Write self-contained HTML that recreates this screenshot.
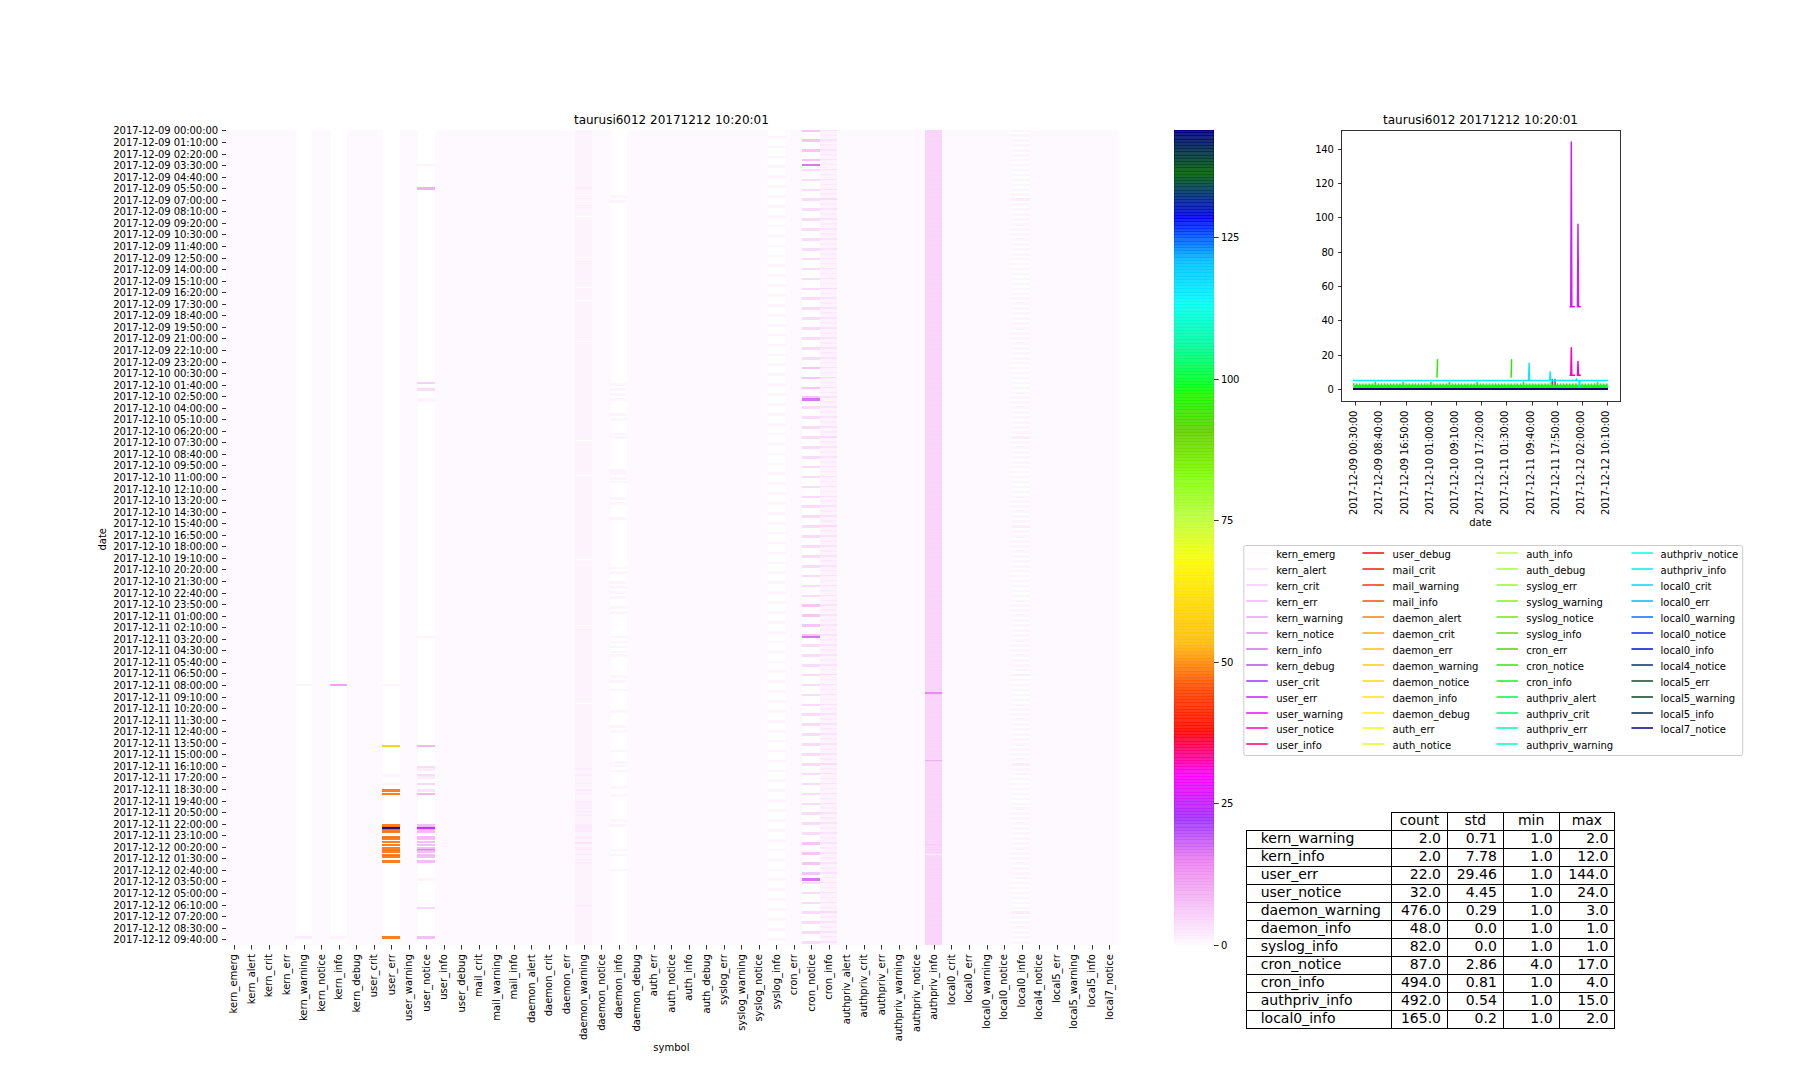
<!DOCTYPE html>
<html lang="en"><head><meta charset="utf-8"><title>taurusi6012 20171212 10:20:01</title>
<style>html,body{margin:0;padding:0;background:#fff}svg{display:block}</style></head>
<body>
<svg width="1800" height="1080" viewBox="0 0 1800 1080" font-family="DejaVu Sans, Liberation Sans, sans-serif" fill="#000">
<rect width="1800" height="1080" fill="#fff"/>
<g shape-rendering="crispEdges">
<rect x="225" y="130" width="71" height="815" fill="#fef9fe"/>
<rect x="312" y="130" width="19" height="815" fill="#fef9fe"/>
<rect x="347" y="130" width="36" height="815" fill="#fef9fe"/>
<rect x="400" y="130" width="18" height="815" fill="#fef9fe"/>
<rect x="435" y="130" width="141" height="815" fill="#fef9fe"/>
<rect x="592" y="130" width="19" height="815" fill="#fef9fe"/>
<rect x="627" y="130" width="141" height="815" fill="#fef9fe"/>
<rect x="785" y="130" width="18" height="815" fill="#fef9fe"/>
<rect x="837" y="130" width="89" height="815" fill="#fef9fe"/>
<rect x="942" y="130" width="71" height="815" fill="#fef9fe"/>
<rect x="1030" y="130" width="88" height="815" fill="#fef9fe"/>
<g fill-opacity="0.9">
<rect x="295" y="684" width="17" height="2" fill="#fdf3fd"/>
<rect x="295" y="936" width="17" height="3" fill="#fceafc"/>
</g>
<g fill-opacity="0.9">
<rect x="330" y="684" width="17" height="2" fill="#ef97f1"/>
<rect x="330" y="936" width="17" height="3" fill="#fdf3fd"/>
</g>
<g fill-opacity="0.9">
<rect x="382" y="684" width="18" height="2" fill="#fdf3fd"/>
<rect x="382" y="745" width="18" height="2" fill="#ffcb06"/>
<rect x="382" y="774" width="18" height="3" fill="#fdf3fd"/>
<rect x="382" y="783" width="18" height="2" fill="#fdf3fd"/>
<rect x="382" y="789" width="18" height="3" fill="#ff7006"/>
<rect x="382" y="793" width="18" height="2" fill="#ff7006"/>
<rect x="382" y="824" width="18" height="3" fill="#ff7006"/>
<rect x="382" y="826" width="18" height="2" fill="#ff7006"/>
<rect x="382" y="827" width="18" height="3" fill="#000080"/>
<rect x="382" y="829" width="18" height="3" fill="#ff7006"/>
<rect x="382" y="831" width="18" height="2" fill="#ff7006"/>
<rect x="382" y="836" width="18" height="2" fill="#ff7006"/>
<rect x="382" y="837" width="18" height="3" fill="#ff7006"/>
<rect x="382" y="841" width="18" height="2" fill="#ff7006"/>
<rect x="382" y="844" width="18" height="2" fill="#ff7006"/>
<rect x="382" y="847" width="18" height="3" fill="#ff7006"/>
<rect x="382" y="849" width="18" height="2" fill="#26f000"/>
<rect x="382" y="850" width="18" height="3" fill="#ff7006"/>
<rect x="382" y="854" width="18" height="2" fill="#ff7006"/>
<rect x="382" y="855" width="18" height="3" fill="#ff7006"/>
<rect x="382" y="860" width="18" height="3" fill="#ff7006"/>
<rect x="382" y="936" width="18" height="3" fill="#ff7006"/>
</g>
<g fill-opacity="0.9">
<rect x="417" y="164" width="18" height="2" fill="#fdf3fd"/>
<rect x="417" y="187" width="18" height="3" fill="#f2a9f4"/>
<rect x="417" y="382" width="18" height="2" fill="#f7caf8"/>
<rect x="417" y="388" width="18" height="3" fill="#f9d8fa"/>
<rect x="417" y="398" width="18" height="3" fill="#fdf3fd"/>
<rect x="417" y="400" width="18" height="2" fill="#fdf3fd"/>
<rect x="417" y="636" width="18" height="2" fill="#fdf3fd"/>
<rect x="417" y="745" width="18" height="2" fill="#f3aef4"/>
<rect x="417" y="766" width="18" height="3" fill="#f9d8fa"/>
<rect x="417" y="768" width="18" height="3" fill="#fceafc"/>
<rect x="417" y="774" width="18" height="3" fill="#f9d8fa"/>
<rect x="417" y="776" width="18" height="3" fill="#fceafc"/>
<rect x="417" y="783" width="18" height="2" fill="#f8d3f9"/>
<rect x="417" y="789" width="18" height="3" fill="#fae1fb"/>
<rect x="417" y="793" width="18" height="2" fill="#f3aef4"/>
<rect x="417" y="824" width="18" height="3" fill="#f4b7f5"/>
<rect x="417" y="826" width="18" height="2" fill="#f4b7f5"/>
<rect x="417" y="827" width="18" height="3" fill="#b326ff"/>
<rect x="417" y="829" width="18" height="3" fill="#f4b7f5"/>
<rect x="417" y="831" width="18" height="2" fill="#f4b7f5"/>
<rect x="417" y="836" width="18" height="2" fill="#f4b7f5"/>
<rect x="417" y="837" width="18" height="3" fill="#f4b7f5"/>
<rect x="417" y="841" width="18" height="2" fill="#f4b7f5"/>
<rect x="417" y="844" width="18" height="2" fill="#f4b7f5"/>
<rect x="417" y="847" width="18" height="3" fill="#f4b7f5"/>
<rect x="417" y="849" width="18" height="2" fill="#e074f1"/>
<rect x="417" y="850" width="18" height="3" fill="#f4b7f5"/>
<rect x="417" y="854" width="18" height="2" fill="#f4b7f5"/>
<rect x="417" y="855" width="18" height="3" fill="#f4b7f5"/>
<rect x="417" y="860" width="18" height="3" fill="#f4b7f5"/>
<rect x="417" y="878" width="18" height="3" fill="#fdf3fd"/>
<rect x="417" y="907" width="18" height="2" fill="#f8d3f9"/>
<rect x="417" y="936" width="18" height="3" fill="#f4b7f5"/>
</g>
<g fill-opacity="0.9">
<rect x="575" y="130" width="17" height="2" fill="#fdf3fd"/>
<rect x="575" y="131" width="17" height="2" fill="#fdf3fd"/>
<rect x="575" y="132" width="17" height="3" fill="#fdf3fd"/>
<rect x="575" y="134" width="17" height="3" fill="#fdf3fd"/>
<rect x="575" y="136" width="17" height="2" fill="#fdf3fd"/>
<rect x="575" y="137" width="17" height="3" fill="#fdf3fd"/>
<rect x="575" y="139" width="17" height="3" fill="#fdf3fd"/>
<rect x="575" y="141" width="17" height="2" fill="#fdf3fd"/>
<rect x="575" y="142" width="17" height="3" fill="#fdf3fd"/>
<rect x="575" y="144" width="17" height="3" fill="#fdf3fd"/>
<rect x="575" y="146" width="17" height="2" fill="#fdf3fd"/>
<rect x="575" y="147" width="17" height="3" fill="#fdf3fd"/>
<rect x="575" y="149" width="17" height="3" fill="#fdf3fd"/>
<rect x="575" y="151" width="17" height="2" fill="#fdf3fd"/>
<rect x="575" y="152" width="17" height="3" fill="#fdf3fd"/>
<rect x="575" y="154" width="17" height="3" fill="#fdf3fd"/>
<rect x="575" y="156" width="17" height="2" fill="#fdf3fd"/>
<rect x="575" y="157" width="17" height="3" fill="#fdf3fd"/>
<rect x="575" y="159" width="17" height="2" fill="#fdf3fd"/>
<rect x="575" y="160" width="17" height="3" fill="#fdf3fd"/>
<rect x="575" y="162" width="17" height="3" fill="#fdf3fd"/>
<rect x="575" y="164" width="17" height="2" fill="#fdf3fd"/>
<rect x="575" y="165" width="17" height="3" fill="#fdf3fd"/>
<rect x="575" y="167" width="17" height="3" fill="#fdf3fd"/>
<rect x="575" y="169" width="17" height="2" fill="#fdf3fd"/>
<rect x="575" y="170" width="17" height="3" fill="#fdf3fd"/>
<rect x="575" y="172" width="17" height="3" fill="#fdf3fd"/>
<rect x="575" y="174" width="17" height="2" fill="#fdf3fd"/>
<rect x="575" y="175" width="17" height="3" fill="#fdf3fd"/>
<rect x="575" y="177" width="17" height="3" fill="#fdf3fd"/>
<rect x="575" y="179" width="17" height="2" fill="#fdf3fd"/>
<rect x="575" y="180" width="17" height="3" fill="#fdf3fd"/>
<rect x="575" y="182" width="17" height="3" fill="#fdf3fd"/>
<rect x="575" y="184" width="17" height="2" fill="#fdf3fd"/>
<rect x="575" y="185" width="17" height="3" fill="#fdf3fd"/>
<rect x="575" y="187" width="17" height="3" fill="#fceafc"/>
<rect x="575" y="189" width="17" height="2" fill="#fdf3fd"/>
<rect x="575" y="190" width="17" height="3" fill="#fdf3fd"/>
<rect x="575" y="192" width="17" height="2" fill="#fdf3fd"/>
<rect x="575" y="195" width="17" height="3" fill="#fdf3fd"/>
<rect x="575" y="197" width="17" height="2" fill="#fdf3fd"/>
<rect x="575" y="198" width="17" height="3" fill="#fdf3fd"/>
<rect x="575" y="202" width="17" height="2" fill="#fdf3fd"/>
<rect x="575" y="203" width="17" height="3" fill="#fdf3fd"/>
<rect x="575" y="205" width="17" height="3" fill="#fdf3fd"/>
<rect x="575" y="207" width="17" height="2" fill="#fdf3fd"/>
<rect x="575" y="208" width="17" height="3" fill="#fdf3fd"/>
<rect x="575" y="210" width="17" height="3" fill="#fdf3fd"/>
<rect x="575" y="212" width="17" height="2" fill="#fdf3fd"/>
<rect x="575" y="213" width="17" height="3" fill="#fdf3fd"/>
<rect x="575" y="217" width="17" height="2" fill="#fdf3fd"/>
<rect x="575" y="218" width="17" height="3" fill="#fdf3fd"/>
<rect x="575" y="220" width="17" height="3" fill="#fdf3fd"/>
<rect x="575" y="222" width="17" height="2" fill="#fdf3fd"/>
<rect x="575" y="223" width="17" height="3" fill="#fdf3fd"/>
<rect x="575" y="225" width="17" height="2" fill="#fdf3fd"/>
<rect x="575" y="226" width="17" height="3" fill="#fdf3fd"/>
<rect x="575" y="228" width="17" height="3" fill="#fdf3fd"/>
<rect x="575" y="230" width="17" height="2" fill="#fdf3fd"/>
<rect x="575" y="231" width="17" height="3" fill="#fdf3fd"/>
<rect x="575" y="233" width="17" height="3" fill="#fdf3fd"/>
<rect x="575" y="235" width="17" height="2" fill="#fdf3fd"/>
<rect x="575" y="236" width="17" height="3" fill="#fdf3fd"/>
<rect x="575" y="238" width="17" height="3" fill="#fdf3fd"/>
<rect x="575" y="240" width="17" height="2" fill="#fdf3fd"/>
<rect x="575" y="241" width="17" height="3" fill="#fdf3fd"/>
<rect x="575" y="243" width="17" height="3" fill="#fdf3fd"/>
<rect x="575" y="245" width="17" height="2" fill="#fdf3fd"/>
<rect x="575" y="246" width="17" height="3" fill="#fdf3fd"/>
<rect x="575" y="248" width="17" height="3" fill="#fdf3fd"/>
<rect x="575" y="250" width="17" height="2" fill="#fdf3fd"/>
<rect x="575" y="251" width="17" height="3" fill="#fdf3fd"/>
<rect x="575" y="253" width="17" height="3" fill="#fdf3fd"/>
<rect x="575" y="255" width="17" height="2" fill="#fdf3fd"/>
<rect x="575" y="258" width="17" height="2" fill="#fdf3fd"/>
<rect x="575" y="259" width="17" height="3" fill="#fdf3fd"/>
<rect x="575" y="261" width="17" height="3" fill="#fdf3fd"/>
<rect x="575" y="263" width="17" height="2" fill="#fdf3fd"/>
<rect x="575" y="264" width="17" height="3" fill="#fdf3fd"/>
<rect x="575" y="266" width="17" height="3" fill="#fdf3fd"/>
<rect x="575" y="268" width="17" height="2" fill="#fdf3fd"/>
<rect x="575" y="269" width="17" height="3" fill="#fdf3fd"/>
<rect x="575" y="271" width="17" height="3" fill="#fdf3fd"/>
<rect x="575" y="273" width="17" height="2" fill="#fdf3fd"/>
<rect x="575" y="274" width="17" height="3" fill="#fdf3fd"/>
<rect x="575" y="276" width="17" height="3" fill="#fdf3fd"/>
<rect x="575" y="278" width="17" height="2" fill="#fdf3fd"/>
<rect x="575" y="279" width="17" height="3" fill="#fdf3fd"/>
<rect x="575" y="281" width="17" height="3" fill="#fdf3fd"/>
<rect x="575" y="283" width="17" height="2" fill="#fdf3fd"/>
<rect x="575" y="284" width="17" height="3" fill="#fdf3fd"/>
<rect x="575" y="288" width="17" height="2" fill="#fdf3fd"/>
<rect x="575" y="289" width="17" height="3" fill="#fdf3fd"/>
<rect x="575" y="291" width="17" height="3" fill="#fdf3fd"/>
<rect x="575" y="293" width="17" height="2" fill="#fdf3fd"/>
<rect x="575" y="294" width="17" height="3" fill="#fdf3fd"/>
<rect x="575" y="296" width="17" height="2" fill="#fdf3fd"/>
<rect x="575" y="297" width="17" height="3" fill="#fdf3fd"/>
<rect x="575" y="301" width="17" height="2" fill="#fdf3fd"/>
<rect x="575" y="302" width="17" height="3" fill="#fdf3fd"/>
<rect x="575" y="304" width="17" height="3" fill="#fdf3fd"/>
<rect x="575" y="306" width="17" height="2" fill="#fdf3fd"/>
<rect x="575" y="307" width="17" height="3" fill="#fdf3fd"/>
<rect x="575" y="309" width="17" height="3" fill="#fdf3fd"/>
<rect x="575" y="311" width="17" height="2" fill="#fdf3fd"/>
<rect x="575" y="312" width="17" height="3" fill="#fdf3fd"/>
<rect x="575" y="314" width="17" height="3" fill="#fdf3fd"/>
<rect x="575" y="316" width="17" height="2" fill="#fdf3fd"/>
<rect x="575" y="317" width="17" height="3" fill="#fdf3fd"/>
<rect x="575" y="319" width="17" height="3" fill="#fdf3fd"/>
<rect x="575" y="321" width="17" height="2" fill="#fdf3fd"/>
<rect x="575" y="322" width="17" height="3" fill="#fdf3fd"/>
<rect x="575" y="324" width="17" height="3" fill="#fdf3fd"/>
<rect x="575" y="326" width="17" height="2" fill="#fdf3fd"/>
<rect x="575" y="327" width="17" height="3" fill="#fdf3fd"/>
<rect x="575" y="329" width="17" height="2" fill="#fdf3fd"/>
<rect x="575" y="330" width="17" height="3" fill="#fdf3fd"/>
<rect x="575" y="332" width="17" height="3" fill="#fdf3fd"/>
<rect x="575" y="334" width="17" height="2" fill="#fdf3fd"/>
<rect x="575" y="335" width="17" height="3" fill="#fdf3fd"/>
<rect x="575" y="337" width="17" height="3" fill="#fdf3fd"/>
<rect x="575" y="339" width="17" height="2" fill="#fdf3fd"/>
<rect x="575" y="342" width="17" height="3" fill="#fdf3fd"/>
<rect x="575" y="344" width="17" height="2" fill="#fdf3fd"/>
<rect x="575" y="345" width="17" height="3" fill="#fdf3fd"/>
<rect x="575" y="347" width="17" height="3" fill="#fdf3fd"/>
<rect x="575" y="349" width="17" height="2" fill="#fdf3fd"/>
<rect x="575" y="350" width="17" height="3" fill="#fdf3fd"/>
<rect x="575" y="352" width="17" height="3" fill="#fdf3fd"/>
<rect x="575" y="354" width="17" height="2" fill="#fdf3fd"/>
<rect x="575" y="355" width="17" height="3" fill="#fdf3fd"/>
<rect x="575" y="357" width="17" height="3" fill="#fdf3fd"/>
<rect x="575" y="359" width="17" height="2" fill="#fdf3fd"/>
<rect x="575" y="360" width="17" height="3" fill="#fdf3fd"/>
<rect x="575" y="362" width="17" height="2" fill="#fdf3fd"/>
<rect x="575" y="363" width="17" height="3" fill="#fdf3fd"/>
<rect x="575" y="365" width="17" height="3" fill="#fdf3fd"/>
<rect x="575" y="367" width="17" height="2" fill="#fdf3fd"/>
<rect x="575" y="368" width="17" height="3" fill="#fdf3fd"/>
<rect x="575" y="370" width="17" height="3" fill="#fdf3fd"/>
<rect x="575" y="372" width="17" height="2" fill="#fdf3fd"/>
<rect x="575" y="373" width="17" height="3" fill="#fdf3fd"/>
<rect x="575" y="375" width="17" height="3" fill="#fdf3fd"/>
<rect x="575" y="377" width="17" height="2" fill="#fdf3fd"/>
<rect x="575" y="378" width="17" height="3" fill="#fdf3fd"/>
<rect x="575" y="380" width="17" height="3" fill="#fdf3fd"/>
<rect x="575" y="382" width="17" height="2" fill="#fdf3fd"/>
<rect x="575" y="383" width="17" height="3" fill="#fdf3fd"/>
<rect x="575" y="385" width="17" height="3" fill="#fdf3fd"/>
<rect x="575" y="387" width="17" height="2" fill="#fdf3fd"/>
<rect x="575" y="388" width="17" height="3" fill="#fdf3fd"/>
<rect x="575" y="390" width="17" height="3" fill="#fdf3fd"/>
<rect x="575" y="392" width="17" height="2" fill="#fdf3fd"/>
<rect x="575" y="393" width="17" height="3" fill="#fdf3fd"/>
<rect x="575" y="395" width="17" height="2" fill="#fdf3fd"/>
<rect x="575" y="396" width="17" height="3" fill="#fdf3fd"/>
<rect x="575" y="398" width="17" height="3" fill="#fdf3fd"/>
<rect x="575" y="400" width="17" height="2" fill="#fdf3fd"/>
<rect x="575" y="401" width="17" height="3" fill="#fdf3fd"/>
<rect x="575" y="403" width="17" height="3" fill="#fdf3fd"/>
<rect x="575" y="405" width="17" height="2" fill="#fdf3fd"/>
<rect x="575" y="406" width="17" height="3" fill="#fdf3fd"/>
<rect x="575" y="408" width="17" height="3" fill="#fdf3fd"/>
<rect x="575" y="410" width="17" height="2" fill="#fdf3fd"/>
<rect x="575" y="411" width="17" height="3" fill="#fdf3fd"/>
<rect x="575" y="413" width="17" height="3" fill="#fdf3fd"/>
<rect x="575" y="415" width="17" height="2" fill="#fdf3fd"/>
<rect x="575" y="416" width="17" height="3" fill="#fdf3fd"/>
<rect x="575" y="418" width="17" height="3" fill="#fdf3fd"/>
<rect x="575" y="420" width="17" height="2" fill="#fdf3fd"/>
<rect x="575" y="421" width="17" height="3" fill="#fdf3fd"/>
<rect x="575" y="423" width="17" height="3" fill="#fdf3fd"/>
<rect x="575" y="425" width="17" height="2" fill="#fdf3fd"/>
<rect x="575" y="426" width="17" height="3" fill="#fdf3fd"/>
<rect x="575" y="428" width="17" height="3" fill="#fdf3fd"/>
<rect x="575" y="430" width="17" height="2" fill="#fdf3fd"/>
<rect x="575" y="431" width="17" height="3" fill="#fdf3fd"/>
<rect x="575" y="433" width="17" height="2" fill="#fdf3fd"/>
<rect x="575" y="434" width="17" height="3" fill="#fdf3fd"/>
<rect x="575" y="436" width="17" height="3" fill="#fdf3fd"/>
<rect x="575" y="438" width="17" height="2" fill="#fdf3fd"/>
<rect x="575" y="441" width="17" height="3" fill="#fdf3fd"/>
<rect x="575" y="443" width="17" height="2" fill="#fdf3fd"/>
<rect x="575" y="444" width="17" height="3" fill="#fdf3fd"/>
<rect x="575" y="446" width="17" height="3" fill="#fdf3fd"/>
<rect x="575" y="448" width="17" height="2" fill="#fdf3fd"/>
<rect x="575" y="449" width="17" height="3" fill="#fdf3fd"/>
<rect x="575" y="451" width="17" height="3" fill="#fdf3fd"/>
<rect x="575" y="453" width="17" height="2" fill="#fdf3fd"/>
<rect x="575" y="454" width="17" height="3" fill="#fdf3fd"/>
<rect x="575" y="456" width="17" height="3" fill="#fdf3fd"/>
<rect x="575" y="458" width="17" height="2" fill="#fdf3fd"/>
<rect x="575" y="459" width="17" height="3" fill="#fdf3fd"/>
<rect x="575" y="461" width="17" height="3" fill="#fdf3fd"/>
<rect x="575" y="463" width="17" height="2" fill="#fdf3fd"/>
<rect x="575" y="464" width="17" height="3" fill="#fdf3fd"/>
<rect x="575" y="466" width="17" height="2" fill="#fdf3fd"/>
<rect x="575" y="467" width="17" height="3" fill="#fdf3fd"/>
<rect x="575" y="469" width="17" height="3" fill="#fdf3fd"/>
<rect x="575" y="471" width="17" height="2" fill="#fdf3fd"/>
<rect x="575" y="472" width="17" height="3" fill="#fdf3fd"/>
<rect x="575" y="476" width="17" height="2" fill="#fdf3fd"/>
<rect x="575" y="477" width="17" height="3" fill="#fdf3fd"/>
<rect x="575" y="479" width="17" height="3" fill="#fdf3fd"/>
<rect x="575" y="481" width="17" height="2" fill="#fdf3fd"/>
<rect x="575" y="482" width="17" height="3" fill="#fdf3fd"/>
<rect x="575" y="484" width="17" height="3" fill="#fdf3fd"/>
<rect x="575" y="486" width="17" height="2" fill="#fdf3fd"/>
<rect x="575" y="487" width="17" height="3" fill="#fdf3fd"/>
<rect x="575" y="489" width="17" height="3" fill="#fdf3fd"/>
<rect x="575" y="491" width="17" height="2" fill="#fdf3fd"/>
<rect x="575" y="492" width="17" height="3" fill="#fdf3fd"/>
<rect x="575" y="494" width="17" height="3" fill="#fdf3fd"/>
<rect x="575" y="496" width="17" height="2" fill="#fdf3fd"/>
<rect x="575" y="497" width="17" height="3" fill="#fdf3fd"/>
<rect x="575" y="499" width="17" height="2" fill="#fdf3fd"/>
<rect x="575" y="500" width="17" height="3" fill="#fdf3fd"/>
<rect x="575" y="502" width="17" height="3" fill="#fdf3fd"/>
<rect x="575" y="504" width="17" height="2" fill="#fdf3fd"/>
<rect x="575" y="505" width="17" height="3" fill="#fdf3fd"/>
<rect x="575" y="507" width="17" height="3" fill="#fdf3fd"/>
<rect x="575" y="509" width="17" height="2" fill="#fdf3fd"/>
<rect x="575" y="510" width="17" height="3" fill="#fdf3fd"/>
<rect x="575" y="512" width="17" height="3" fill="#fdf3fd"/>
<rect x="575" y="514" width="17" height="2" fill="#fdf3fd"/>
<rect x="575" y="515" width="17" height="3" fill="#fdf3fd"/>
<rect x="575" y="517" width="17" height="3" fill="#fdf3fd"/>
<rect x="575" y="519" width="17" height="2" fill="#fdf3fd"/>
<rect x="575" y="520" width="17" height="3" fill="#fdf3fd"/>
<rect x="575" y="522" width="17" height="3" fill="#fdf3fd"/>
<rect x="575" y="524" width="17" height="2" fill="#fdf3fd"/>
<rect x="575" y="525" width="17" height="3" fill="#fdf3fd"/>
<rect x="575" y="527" width="17" height="3" fill="#fdf3fd"/>
<rect x="575" y="529" width="17" height="2" fill="#fdf3fd"/>
<rect x="575" y="530" width="17" height="3" fill="#fdf3fd"/>
<rect x="575" y="532" width="17" height="2" fill="#fdf3fd"/>
<rect x="575" y="533" width="17" height="3" fill="#fdf3fd"/>
<rect x="575" y="535" width="17" height="3" fill="#fdf3fd"/>
<rect x="575" y="537" width="17" height="2" fill="#fdf3fd"/>
<rect x="575" y="538" width="17" height="3" fill="#fdf3fd"/>
<rect x="575" y="540" width="17" height="3" fill="#fdf3fd"/>
<rect x="575" y="542" width="17" height="2" fill="#fdf3fd"/>
<rect x="575" y="543" width="17" height="3" fill="#fdf3fd"/>
<rect x="575" y="545" width="17" height="3" fill="#fdf3fd"/>
<rect x="575" y="547" width="17" height="2" fill="#fdf3fd"/>
<rect x="575" y="548" width="17" height="3" fill="#fdf3fd"/>
<rect x="575" y="550" width="17" height="3" fill="#fdf3fd"/>
<rect x="575" y="552" width="17" height="2" fill="#fdf3fd"/>
<rect x="575" y="553" width="17" height="3" fill="#fdf3fd"/>
<rect x="575" y="555" width="17" height="3" fill="#fdf3fd"/>
<rect x="575" y="557" width="17" height="2" fill="#fdf3fd"/>
<rect x="575" y="560" width="17" height="3" fill="#fdf3fd"/>
<rect x="575" y="562" width="17" height="2" fill="#fdf3fd"/>
<rect x="575" y="563" width="17" height="3" fill="#fdf3fd"/>
<rect x="575" y="565" width="17" height="3" fill="#fdf3fd"/>
<rect x="575" y="567" width="17" height="2" fill="#fdf3fd"/>
<rect x="575" y="568" width="17" height="3" fill="#fdf3fd"/>
<rect x="575" y="570" width="17" height="2" fill="#fdf3fd"/>
<rect x="575" y="571" width="17" height="3" fill="#fdf3fd"/>
<rect x="575" y="573" width="17" height="3" fill="#fdf3fd"/>
<rect x="575" y="575" width="17" height="2" fill="#fdf3fd"/>
<rect x="575" y="576" width="17" height="3" fill="#fdf3fd"/>
<rect x="575" y="578" width="17" height="3" fill="#fdf3fd"/>
<rect x="575" y="580" width="17" height="2" fill="#fdf3fd"/>
<rect x="575" y="581" width="17" height="3" fill="#fdf3fd"/>
<rect x="575" y="583" width="17" height="3" fill="#fdf3fd"/>
<rect x="575" y="585" width="17" height="2" fill="#fdf3fd"/>
<rect x="575" y="586" width="17" height="3" fill="#fdf3fd"/>
<rect x="575" y="588" width="17" height="3" fill="#fdf3fd"/>
<rect x="575" y="590" width="17" height="2" fill="#fdf3fd"/>
<rect x="575" y="591" width="17" height="3" fill="#fdf3fd"/>
<rect x="575" y="593" width="17" height="3" fill="#fdf3fd"/>
<rect x="575" y="595" width="17" height="2" fill="#fdf3fd"/>
<rect x="575" y="596" width="17" height="3" fill="#fdf3fd"/>
<rect x="575" y="598" width="17" height="3" fill="#fdf3fd"/>
<rect x="575" y="600" width="17" height="2" fill="#fdf3fd"/>
<rect x="575" y="601" width="17" height="3" fill="#fdf3fd"/>
<rect x="575" y="603" width="17" height="2" fill="#fdf3fd"/>
<rect x="575" y="604" width="17" height="3" fill="#fdf3fd"/>
<rect x="575" y="606" width="17" height="3" fill="#fdf3fd"/>
<rect x="575" y="608" width="17" height="2" fill="#fdf3fd"/>
<rect x="575" y="609" width="17" height="3" fill="#fdf3fd"/>
<rect x="575" y="611" width="17" height="3" fill="#fdf3fd"/>
<rect x="575" y="613" width="17" height="2" fill="#fdf3fd"/>
<rect x="575" y="614" width="17" height="3" fill="#fdf3fd"/>
<rect x="575" y="616" width="17" height="3" fill="#fdf3fd"/>
<rect x="575" y="618" width="17" height="2" fill="#fdf3fd"/>
<rect x="575" y="619" width="17" height="3" fill="#fdf3fd"/>
<rect x="575" y="621" width="17" height="3" fill="#fdf3fd"/>
<rect x="575" y="623" width="17" height="2" fill="#fdf3fd"/>
<rect x="575" y="626" width="17" height="3" fill="#fdf3fd"/>
<rect x="575" y="628" width="17" height="2" fill="#fdf3fd"/>
<rect x="575" y="629" width="17" height="3" fill="#fdf3fd"/>
<rect x="575" y="631" width="17" height="3" fill="#fdf3fd"/>
<rect x="575" y="633" width="17" height="2" fill="#fdf3fd"/>
<rect x="575" y="634" width="17" height="3" fill="#fdf3fd"/>
<rect x="575" y="636" width="17" height="2" fill="#fdf3fd"/>
<rect x="575" y="637" width="17" height="3" fill="#fdf3fd"/>
<rect x="575" y="639" width="17" height="3" fill="#fdf3fd"/>
<rect x="575" y="641" width="17" height="2" fill="#fdf3fd"/>
<rect x="575" y="642" width="17" height="3" fill="#fdf3fd"/>
<rect x="575" y="644" width="17" height="3" fill="#fdf3fd"/>
<rect x="575" y="646" width="17" height="2" fill="#fdf3fd"/>
<rect x="575" y="647" width="17" height="3" fill="#fdf3fd"/>
<rect x="575" y="649" width="17" height="3" fill="#fdf3fd"/>
<rect x="575" y="651" width="17" height="2" fill="#fdf3fd"/>
<rect x="575" y="652" width="17" height="3" fill="#fdf3fd"/>
<rect x="575" y="654" width="17" height="3" fill="#fdf3fd"/>
<rect x="575" y="656" width="17" height="2" fill="#fdf3fd"/>
<rect x="575" y="657" width="17" height="3" fill="#fdf3fd"/>
<rect x="575" y="659" width="17" height="3" fill="#fdf3fd"/>
<rect x="575" y="661" width="17" height="2" fill="#fdf3fd"/>
<rect x="575" y="662" width="17" height="3" fill="#fdf3fd"/>
<rect x="575" y="664" width="17" height="3" fill="#fdf3fd"/>
<rect x="575" y="666" width="17" height="2" fill="#fdf3fd"/>
<rect x="575" y="667" width="17" height="3" fill="#fdf3fd"/>
<rect x="575" y="669" width="17" height="2" fill="#fdf3fd"/>
<rect x="575" y="670" width="17" height="3" fill="#fdf3fd"/>
<rect x="575" y="672" width="17" height="3" fill="#fdf3fd"/>
<rect x="575" y="674" width="17" height="2" fill="#fdf3fd"/>
<rect x="575" y="675" width="17" height="3" fill="#fdf3fd"/>
<rect x="575" y="677" width="17" height="3" fill="#fdf3fd"/>
<rect x="575" y="679" width="17" height="2" fill="#fdf3fd"/>
<rect x="575" y="680" width="17" height="3" fill="#fdf3fd"/>
<rect x="575" y="682" width="17" height="3" fill="#fdf3fd"/>
<rect x="575" y="684" width="17" height="2" fill="#fdf3fd"/>
<rect x="575" y="685" width="17" height="3" fill="#fdf3fd"/>
<rect x="575" y="687" width="17" height="3" fill="#fdf3fd"/>
<rect x="575" y="689" width="17" height="2" fill="#fdf3fd"/>
<rect x="575" y="690" width="17" height="3" fill="#fdf3fd"/>
<rect x="575" y="692" width="17" height="3" fill="#fdf3fd"/>
<rect x="575" y="694" width="17" height="2" fill="#fdf3fd"/>
<rect x="575" y="695" width="17" height="3" fill="#fdf3fd"/>
<rect x="575" y="697" width="17" height="3" fill="#fdf3fd"/>
<rect x="575" y="699" width="17" height="2" fill="#fdf3fd"/>
<rect x="575" y="700" width="17" height="3" fill="#fdf3fd"/>
<rect x="575" y="704" width="17" height="2" fill="#fdf3fd"/>
<rect x="575" y="705" width="17" height="3" fill="#fdf3fd"/>
<rect x="575" y="707" width="17" height="2" fill="#fdf3fd"/>
<rect x="575" y="708" width="17" height="3" fill="#fdf3fd"/>
<rect x="575" y="710" width="17" height="3" fill="#fdf3fd"/>
<rect x="575" y="712" width="17" height="2" fill="#fdf3fd"/>
<rect x="575" y="713" width="17" height="3" fill="#fdf3fd"/>
<rect x="575" y="715" width="17" height="3" fill="#fdf3fd"/>
<rect x="575" y="717" width="17" height="2" fill="#fdf3fd"/>
<rect x="575" y="718" width="17" height="3" fill="#fdf3fd"/>
<rect x="575" y="720" width="17" height="3" fill="#fdf3fd"/>
<rect x="575" y="722" width="17" height="2" fill="#fdf3fd"/>
<rect x="575" y="723" width="17" height="3" fill="#fdf3fd"/>
<rect x="575" y="725" width="17" height="3" fill="#fdf3fd"/>
<rect x="575" y="727" width="17" height="2" fill="#fdf3fd"/>
<rect x="575" y="728" width="17" height="3" fill="#fdf3fd"/>
<rect x="575" y="730" width="17" height="3" fill="#fdf3fd"/>
<rect x="575" y="732" width="17" height="2" fill="#fdf3fd"/>
<rect x="575" y="733" width="17" height="3" fill="#fdf3fd"/>
<rect x="575" y="735" width="17" height="3" fill="#fdf3fd"/>
<rect x="575" y="737" width="17" height="2" fill="#fdf3fd"/>
<rect x="575" y="738" width="17" height="3" fill="#fdf3fd"/>
<rect x="575" y="740" width="17" height="2" fill="#fdf3fd"/>
<rect x="575" y="741" width="17" height="3" fill="#fdf3fd"/>
<rect x="575" y="743" width="17" height="3" fill="#fdf3fd"/>
<rect x="575" y="745" width="17" height="2" fill="#fdf3fd"/>
<rect x="575" y="746" width="17" height="3" fill="#fdf3fd"/>
<rect x="575" y="748" width="17" height="3" fill="#fdf3fd"/>
<rect x="575" y="750" width="17" height="2" fill="#fdf3fd"/>
<rect x="575" y="751" width="17" height="3" fill="#fdf3fd"/>
<rect x="575" y="753" width="17" height="3" fill="#fdf3fd"/>
<rect x="575" y="755" width="17" height="2" fill="#fdf3fd"/>
<rect x="575" y="756" width="17" height="3" fill="#fdf3fd"/>
<rect x="575" y="758" width="17" height="3" fill="#fdf3fd"/>
<rect x="575" y="760" width="17" height="2" fill="#fdf3fd"/>
<rect x="575" y="761" width="17" height="3" fill="#fdf3fd"/>
<rect x="575" y="763" width="17" height="3" fill="#fdf3fd"/>
<rect x="575" y="765" width="17" height="2" fill="#fdf3fd"/>
<rect x="575" y="766" width="17" height="3" fill="#fdf3fd"/>
<rect x="575" y="768" width="17" height="3" fill="#fceafc"/>
<rect x="575" y="770" width="17" height="2" fill="#fdf3fd"/>
<rect x="575" y="771" width="17" height="3" fill="#fdf3fd"/>
<rect x="575" y="773" width="17" height="2" fill="#fdf3fd"/>
<rect x="575" y="774" width="17" height="3" fill="#fceafc"/>
<rect x="575" y="776" width="17" height="3" fill="#fdf3fd"/>
<rect x="575" y="778" width="17" height="2" fill="#fdf3fd"/>
<rect x="575" y="779" width="17" height="3" fill="#fdf3fd"/>
<rect x="575" y="781" width="17" height="3" fill="#fdf3fd"/>
<rect x="575" y="783" width="17" height="2" fill="#fceafc"/>
<rect x="575" y="784" width="17" height="3" fill="#fdf3fd"/>
<rect x="575" y="786" width="17" height="3" fill="#fdf3fd"/>
<rect x="575" y="788" width="17" height="2" fill="#fdf3fd"/>
<rect x="575" y="789" width="17" height="3" fill="#fceafc"/>
<rect x="575" y="791" width="17" height="3" fill="#fdf3fd"/>
<rect x="575" y="793" width="17" height="2" fill="#fceafc"/>
<rect x="575" y="794" width="17" height="3" fill="#fdf3fd"/>
<rect x="575" y="796" width="17" height="3" fill="#fdf3fd"/>
<rect x="575" y="798" width="17" height="2" fill="#fdf3fd"/>
<rect x="575" y="799" width="17" height="3" fill="#fdf3fd"/>
<rect x="575" y="801" width="17" height="3" fill="#fceafc"/>
<rect x="575" y="803" width="17" height="2" fill="#fdf3fd"/>
<rect x="575" y="804" width="17" height="3" fill="#fceafc"/>
<rect x="575" y="806" width="17" height="2" fill="#fdf3fd"/>
<rect x="575" y="807" width="17" height="3" fill="#fceafc"/>
<rect x="575" y="809" width="17" height="3" fill="#fdf3fd"/>
<rect x="575" y="811" width="17" height="2" fill="#fceafc"/>
<rect x="575" y="812" width="17" height="3" fill="#fdf3fd"/>
<rect x="575" y="814" width="17" height="3" fill="#fceafc"/>
<rect x="575" y="816" width="17" height="2" fill="#fdf3fd"/>
<rect x="575" y="817" width="17" height="3" fill="#fdf3fd"/>
<rect x="575" y="819" width="17" height="3" fill="#fdf3fd"/>
<rect x="575" y="821" width="17" height="2" fill="#fdf3fd"/>
<rect x="575" y="822" width="17" height="3" fill="#fdf3fd"/>
<rect x="575" y="824" width="17" height="3" fill="#fceafc"/>
<rect x="575" y="826" width="17" height="2" fill="#fceafc"/>
<rect x="575" y="827" width="17" height="3" fill="#fceafc"/>
<rect x="575" y="829" width="17" height="3" fill="#fceafc"/>
<rect x="575" y="831" width="17" height="2" fill="#fceafc"/>
<rect x="575" y="832" width="17" height="3" fill="#fdf3fd"/>
<rect x="575" y="834" width="17" height="3" fill="#fdf3fd"/>
<rect x="575" y="836" width="17" height="2" fill="#fceafc"/>
<rect x="575" y="837" width="17" height="3" fill="#fceafc"/>
<rect x="575" y="839" width="17" height="3" fill="#fdf3fd"/>
<rect x="575" y="841" width="17" height="2" fill="#fdf3fd"/>
<rect x="575" y="842" width="17" height="3" fill="#fae1fb"/>
<rect x="575" y="844" width="17" height="2" fill="#fdf3fd"/>
<rect x="575" y="845" width="17" height="3" fill="#fdf3fd"/>
<rect x="575" y="847" width="17" height="3" fill="#fceafc"/>
<rect x="575" y="849" width="17" height="2" fill="#fceafc"/>
<rect x="575" y="850" width="17" height="3" fill="#fdf3fd"/>
<rect x="575" y="852" width="17" height="3" fill="#fdf3fd"/>
<rect x="575" y="854" width="17" height="2" fill="#fceafc"/>
<rect x="575" y="855" width="17" height="3" fill="#fdf3fd"/>
<rect x="575" y="857" width="17" height="3" fill="#fdf3fd"/>
<rect x="575" y="859" width="17" height="2" fill="#fceafc"/>
<rect x="575" y="860" width="17" height="3" fill="#fdf3fd"/>
<rect x="575" y="862" width="17" height="3" fill="#fceafc"/>
<rect x="575" y="864" width="17" height="2" fill="#fdf3fd"/>
<rect x="575" y="865" width="17" height="3" fill="#fdf3fd"/>
<rect x="575" y="867" width="17" height="3" fill="#fdf3fd"/>
<rect x="575" y="869" width="17" height="2" fill="#fdf3fd"/>
<rect x="575" y="870" width="17" height="3" fill="#fdf3fd"/>
<rect x="575" y="872" width="17" height="3" fill="#fdf3fd"/>
<rect x="575" y="874" width="17" height="2" fill="#fdf3fd"/>
<rect x="575" y="875" width="17" height="3" fill="#fdf3fd"/>
<rect x="575" y="877" width="17" height="2" fill="#fdf3fd"/>
<rect x="575" y="878" width="17" height="3" fill="#fdf3fd"/>
<rect x="575" y="880" width="17" height="3" fill="#fdf3fd"/>
<rect x="575" y="882" width="17" height="2" fill="#fdf3fd"/>
<rect x="575" y="883" width="17" height="3" fill="#fdf3fd"/>
<rect x="575" y="885" width="17" height="3" fill="#fdf3fd"/>
<rect x="575" y="887" width="17" height="2" fill="#fdf3fd"/>
<rect x="575" y="888" width="17" height="3" fill="#fdf3fd"/>
<rect x="575" y="890" width="17" height="3" fill="#fdf3fd"/>
<rect x="575" y="892" width="17" height="2" fill="#fdf3fd"/>
<rect x="575" y="893" width="17" height="3" fill="#fdf3fd"/>
<rect x="575" y="895" width="17" height="3" fill="#fdf3fd"/>
<rect x="575" y="897" width="17" height="2" fill="#fdf3fd"/>
<rect x="575" y="898" width="17" height="3" fill="#fdf3fd"/>
<rect x="575" y="900" width="17" height="3" fill="#fdf3fd"/>
<rect x="575" y="902" width="17" height="2" fill="#fdf3fd"/>
<rect x="575" y="903" width="17" height="3" fill="#fdf3fd"/>
<rect x="575" y="905" width="17" height="3" fill="#fceafc"/>
<rect x="575" y="907" width="17" height="2" fill="#fdf3fd"/>
<rect x="575" y="908" width="17" height="3" fill="#fdf3fd"/>
<rect x="575" y="910" width="17" height="2" fill="#fdf3fd"/>
<rect x="575" y="911" width="17" height="3" fill="#fdf3fd"/>
<rect x="575" y="913" width="17" height="3" fill="#fdf3fd"/>
<rect x="575" y="915" width="17" height="2" fill="#fdf3fd"/>
<rect x="575" y="916" width="17" height="3" fill="#fdf3fd"/>
<rect x="575" y="918" width="17" height="3" fill="#fdf3fd"/>
<rect x="575" y="920" width="17" height="2" fill="#fdf3fd"/>
<rect x="575" y="921" width="17" height="3" fill="#fdf3fd"/>
<rect x="575" y="923" width="17" height="3" fill="#fdf3fd"/>
<rect x="575" y="925" width="17" height="2" fill="#fdf3fd"/>
<rect x="575" y="926" width="17" height="3" fill="#fdf3fd"/>
<rect x="575" y="928" width="17" height="3" fill="#fdf3fd"/>
<rect x="575" y="930" width="17" height="2" fill="#fdf3fd"/>
<rect x="575" y="931" width="17" height="3" fill="#fdf3fd"/>
<rect x="575" y="933" width="17" height="3" fill="#fdf3fd"/>
<rect x="575" y="935" width="17" height="2" fill="#fdf3fd"/>
<rect x="575" y="936" width="17" height="3" fill="#fdf3fd"/>
<rect x="575" y="938" width="17" height="3" fill="#fdf3fd"/>
<rect x="575" y="940" width="17" height="2" fill="#fdf3fd"/>
<rect x="575" y="941" width="17" height="3" fill="#fdf3fd"/>
<rect x="575" y="943" width="17" height="2" fill="#fdf3fd"/>
</g>
<g fill-opacity="0.9">
<rect x="610" y="195" width="17" height="3" fill="#fdf3fd"/>
<rect x="610" y="200" width="17" height="3" fill="#fdf3fd"/>
<rect x="610" y="383" width="17" height="3" fill="#fdf3fd"/>
<rect x="610" y="388" width="17" height="3" fill="#fdf3fd"/>
<rect x="610" y="393" width="17" height="3" fill="#fdf3fd"/>
<rect x="610" y="398" width="17" height="3" fill="#fdf3fd"/>
<rect x="610" y="413" width="17" height="3" fill="#fdf3fd"/>
<rect x="610" y="418" width="17" height="3" fill="#fdf3fd"/>
<rect x="610" y="433" width="17" height="2" fill="#fdf3fd"/>
<rect x="610" y="436" width="17" height="3" fill="#fdf3fd"/>
<rect x="610" y="469" width="17" height="3" fill="#fdf3fd"/>
<rect x="610" y="472" width="17" height="3" fill="#fdf3fd"/>
<rect x="610" y="477" width="17" height="3" fill="#fdf3fd"/>
<rect x="610" y="481" width="17" height="2" fill="#fdf3fd"/>
<rect x="610" y="497" width="17" height="3" fill="#fdf3fd"/>
<rect x="610" y="502" width="17" height="3" fill="#fdf3fd"/>
<rect x="610" y="517" width="17" height="3" fill="#fdf3fd"/>
<rect x="610" y="567" width="17" height="2" fill="#fdf3fd"/>
<rect x="610" y="571" width="17" height="3" fill="#fdf3fd"/>
<rect x="610" y="581" width="17" height="3" fill="#fdf3fd"/>
<rect x="610" y="586" width="17" height="3" fill="#fdf3fd"/>
<rect x="610" y="591" width="17" height="3" fill="#fdf3fd"/>
<rect x="610" y="596" width="17" height="3" fill="#fdf3fd"/>
<rect x="610" y="606" width="17" height="3" fill="#fdf3fd"/>
<rect x="610" y="611" width="17" height="3" fill="#fdf3fd"/>
<rect x="610" y="636" width="17" height="2" fill="#fdf3fd"/>
<rect x="610" y="641" width="17" height="2" fill="#fdf3fd"/>
<rect x="610" y="646" width="17" height="2" fill="#fdf3fd"/>
<rect x="610" y="651" width="17" height="2" fill="#fdf3fd"/>
<rect x="610" y="654" width="17" height="3" fill="#fdf3fd"/>
<rect x="610" y="675" width="17" height="3" fill="#fdf3fd"/>
<rect x="610" y="680" width="17" height="3" fill="#fdf3fd"/>
<rect x="610" y="689" width="17" height="2" fill="#fdf3fd"/>
<rect x="610" y="710" width="17" height="3" fill="#fdf3fd"/>
<rect x="610" y="725" width="17" height="3" fill="#fdf3fd"/>
<rect x="610" y="730" width="17" height="3" fill="#fdf3fd"/>
<rect x="610" y="750" width="17" height="2" fill="#fdf3fd"/>
<rect x="610" y="761" width="17" height="3" fill="#fdf3fd"/>
<rect x="610" y="765" width="17" height="2" fill="#fdf3fd"/>
<rect x="610" y="770" width="17" height="2" fill="#fdf3fd"/>
<rect x="610" y="786" width="17" height="3" fill="#fdf3fd"/>
<rect x="610" y="794" width="17" height="3" fill="#fdf3fd"/>
<rect x="610" y="819" width="17" height="3" fill="#fdf3fd"/>
<rect x="610" y="824" width="17" height="3" fill="#fdf3fd"/>
<rect x="610" y="849" width="17" height="2" fill="#fdf3fd"/>
<rect x="610" y="854" width="17" height="2" fill="#fdf3fd"/>
<rect x="610" y="869" width="17" height="2" fill="#fdf3fd"/>
</g>
<g fill-opacity="0.9">
<rect x="767" y="136" width="18" height="2" fill="#fdf3fd"/>
<rect x="767" y="146" width="18" height="2" fill="#fdf3fd"/>
<rect x="767" y="156" width="18" height="2" fill="#fdf3fd"/>
<rect x="767" y="165" width="18" height="3" fill="#fdf3fd"/>
<rect x="767" y="175" width="18" height="3" fill="#fdf3fd"/>
<rect x="767" y="185" width="18" height="3" fill="#fdf3fd"/>
<rect x="767" y="195" width="18" height="3" fill="#fdf3fd"/>
<rect x="767" y="205" width="18" height="3" fill="#fdf3fd"/>
<rect x="767" y="215" width="18" height="3" fill="#fdf3fd"/>
<rect x="767" y="225" width="18" height="2" fill="#fdf3fd"/>
<rect x="767" y="235" width="18" height="2" fill="#fdf3fd"/>
<rect x="767" y="245" width="18" height="2" fill="#fdf3fd"/>
<rect x="767" y="255" width="18" height="2" fill="#fdf3fd"/>
<rect x="767" y="264" width="18" height="3" fill="#fdf3fd"/>
<rect x="767" y="274" width="18" height="3" fill="#fdf3fd"/>
<rect x="767" y="284" width="18" height="3" fill="#fdf3fd"/>
<rect x="767" y="294" width="18" height="3" fill="#fdf3fd"/>
<rect x="767" y="304" width="18" height="3" fill="#fdf3fd"/>
<rect x="767" y="314" width="18" height="3" fill="#fdf3fd"/>
<rect x="767" y="324" width="18" height="3" fill="#fdf3fd"/>
<rect x="767" y="334" width="18" height="2" fill="#fdf3fd"/>
<rect x="767" y="344" width="18" height="2" fill="#fdf3fd"/>
<rect x="767" y="354" width="18" height="2" fill="#fdf3fd"/>
<rect x="767" y="363" width="18" height="3" fill="#fdf3fd"/>
<rect x="767" y="373" width="18" height="3" fill="#fdf3fd"/>
<rect x="767" y="383" width="18" height="3" fill="#fdf3fd"/>
<rect x="767" y="393" width="18" height="3" fill="#fdf3fd"/>
<rect x="767" y="403" width="18" height="3" fill="#fdf3fd"/>
<rect x="767" y="413" width="18" height="3" fill="#fdf3fd"/>
<rect x="767" y="423" width="18" height="3" fill="#fdf3fd"/>
<rect x="767" y="433" width="18" height="2" fill="#fdf3fd"/>
<rect x="767" y="443" width="18" height="2" fill="#fdf3fd"/>
<rect x="767" y="453" width="18" height="2" fill="#fdf3fd"/>
<rect x="767" y="463" width="18" height="2" fill="#fdf3fd"/>
<rect x="767" y="472" width="18" height="3" fill="#fdf3fd"/>
<rect x="767" y="482" width="18" height="3" fill="#fdf3fd"/>
<rect x="767" y="492" width="18" height="3" fill="#fdf3fd"/>
<rect x="767" y="502" width="18" height="3" fill="#fdf3fd"/>
<rect x="767" y="512" width="18" height="3" fill="#fdf3fd"/>
<rect x="767" y="522" width="18" height="3" fill="#fdf3fd"/>
<rect x="767" y="532" width="18" height="2" fill="#fdf3fd"/>
<rect x="767" y="542" width="18" height="2" fill="#fdf3fd"/>
<rect x="767" y="552" width="18" height="2" fill="#fdf3fd"/>
<rect x="767" y="562" width="18" height="2" fill="#fdf3fd"/>
<rect x="767" y="571" width="18" height="3" fill="#fdf3fd"/>
<rect x="767" y="581" width="18" height="3" fill="#fdf3fd"/>
<rect x="767" y="591" width="18" height="3" fill="#fdf3fd"/>
<rect x="767" y="601" width="18" height="3" fill="#fdf3fd"/>
<rect x="767" y="611" width="18" height="3" fill="#fdf3fd"/>
<rect x="767" y="621" width="18" height="3" fill="#fdf3fd"/>
<rect x="767" y="631" width="18" height="3" fill="#fdf3fd"/>
<rect x="767" y="641" width="18" height="2" fill="#fdf3fd"/>
<rect x="767" y="651" width="18" height="2" fill="#fdf3fd"/>
<rect x="767" y="661" width="18" height="2" fill="#fdf3fd"/>
<rect x="767" y="670" width="18" height="3" fill="#fdf3fd"/>
<rect x="767" y="680" width="18" height="3" fill="#fdf3fd"/>
<rect x="767" y="690" width="18" height="3" fill="#fdf3fd"/>
<rect x="767" y="700" width="18" height="3" fill="#fdf3fd"/>
<rect x="767" y="710" width="18" height="3" fill="#fdf3fd"/>
<rect x="767" y="720" width="18" height="3" fill="#fdf3fd"/>
<rect x="767" y="730" width="18" height="3" fill="#fdf3fd"/>
<rect x="767" y="740" width="18" height="2" fill="#fdf3fd"/>
<rect x="767" y="750" width="18" height="2" fill="#fdf3fd"/>
<rect x="767" y="760" width="18" height="2" fill="#fdf3fd"/>
<rect x="767" y="770" width="18" height="2" fill="#fdf3fd"/>
<rect x="767" y="779" width="18" height="3" fill="#fdf3fd"/>
<rect x="767" y="789" width="18" height="3" fill="#fdf3fd"/>
<rect x="767" y="799" width="18" height="3" fill="#fdf3fd"/>
<rect x="767" y="809" width="18" height="3" fill="#fdf3fd"/>
<rect x="767" y="819" width="18" height="3" fill="#fdf3fd"/>
<rect x="767" y="829" width="18" height="3" fill="#fdf3fd"/>
<rect x="767" y="839" width="18" height="3" fill="#fdf3fd"/>
<rect x="767" y="849" width="18" height="2" fill="#fdf3fd"/>
<rect x="767" y="859" width="18" height="2" fill="#fdf3fd"/>
<rect x="767" y="869" width="18" height="2" fill="#fdf3fd"/>
<rect x="767" y="878" width="18" height="3" fill="#fdf3fd"/>
<rect x="767" y="888" width="18" height="3" fill="#fdf3fd"/>
<rect x="767" y="898" width="18" height="3" fill="#fdf3fd"/>
<rect x="767" y="908" width="18" height="3" fill="#fdf3fd"/>
<rect x="767" y="918" width="18" height="3" fill="#fdf3fd"/>
<rect x="767" y="928" width="18" height="3" fill="#fdf3fd"/>
<rect x="767" y="938" width="18" height="3" fill="#fdf3fd"/>
</g>
<g fill-opacity="0.9">
<rect x="802" y="130" width="18" height="2" fill="#f5c0f7"/>
<rect x="802" y="139" width="18" height="3" fill="#f5c0f7"/>
<rect x="802" y="149" width="18" height="3" fill="#f5c0f7"/>
<rect x="802" y="159" width="18" height="2" fill="#f5c0f7"/>
<rect x="802" y="164" width="18" height="2" fill="#d468f3"/>
<rect x="802" y="169" width="18" height="2" fill="#f9d8fa"/>
<rect x="802" y="179" width="18" height="2" fill="#f9d8fa"/>
<rect x="802" y="189" width="18" height="2" fill="#f9d8fa"/>
<rect x="802" y="198" width="18" height="3" fill="#f9d8fa"/>
<rect x="802" y="208" width="18" height="3" fill="#f9d8fa"/>
<rect x="802" y="218" width="18" height="3" fill="#f9d8fa"/>
<rect x="802" y="228" width="18" height="3" fill="#f9d8fa"/>
<rect x="802" y="238" width="18" height="3" fill="#f9d8fa"/>
<rect x="802" y="248" width="18" height="3" fill="#f9d8fa"/>
<rect x="802" y="258" width="18" height="2" fill="#f9d8fa"/>
<rect x="802" y="268" width="18" height="2" fill="#f9d8fa"/>
<rect x="802" y="278" width="18" height="2" fill="#f9d8fa"/>
<rect x="802" y="288" width="18" height="2" fill="#f9d8fa"/>
<rect x="802" y="297" width="18" height="3" fill="#f9d8fa"/>
<rect x="802" y="307" width="18" height="3" fill="#f9d8fa"/>
<rect x="802" y="317" width="18" height="3" fill="#f9d8fa"/>
<rect x="802" y="327" width="18" height="3" fill="#f9d8fa"/>
<rect x="802" y="337" width="18" height="3" fill="#f9d8fa"/>
<rect x="802" y="347" width="18" height="3" fill="#f9d8fa"/>
<rect x="802" y="357" width="18" height="3" fill="#f9d8fa"/>
<rect x="802" y="367" width="18" height="2" fill="#f5c0f7"/>
<rect x="802" y="377" width="18" height="2" fill="#f5c0f7"/>
<rect x="802" y="387" width="18" height="2" fill="#f5c0f7"/>
<rect x="802" y="396" width="18" height="3" fill="#f5c0f7"/>
<rect x="802" y="398" width="18" height="3" fill="#d468f3"/>
<rect x="802" y="406" width="18" height="3" fill="#f9d8fa"/>
<rect x="802" y="416" width="18" height="3" fill="#f9d8fa"/>
<rect x="802" y="426" width="18" height="3" fill="#f9d8fa"/>
<rect x="802" y="436" width="18" height="3" fill="#f9d8fa"/>
<rect x="802" y="446" width="18" height="3" fill="#f9d8fa"/>
<rect x="802" y="456" width="18" height="3" fill="#f9d8fa"/>
<rect x="802" y="466" width="18" height="2" fill="#f9d8fa"/>
<rect x="802" y="476" width="18" height="2" fill="#f9d8fa"/>
<rect x="802" y="486" width="18" height="2" fill="#f9d8fa"/>
<rect x="802" y="496" width="18" height="2" fill="#f9d8fa"/>
<rect x="802" y="505" width="18" height="3" fill="#f9d8fa"/>
<rect x="802" y="515" width="18" height="3" fill="#f9d8fa"/>
<rect x="802" y="525" width="18" height="3" fill="#f9d8fa"/>
<rect x="802" y="535" width="18" height="3" fill="#f9d8fa"/>
<rect x="802" y="545" width="18" height="3" fill="#f9d8fa"/>
<rect x="802" y="555" width="18" height="3" fill="#f9d8fa"/>
<rect x="802" y="565" width="18" height="3" fill="#f9d8fa"/>
<rect x="802" y="575" width="18" height="2" fill="#f9d8fa"/>
<rect x="802" y="585" width="18" height="2" fill="#f9d8fa"/>
<rect x="802" y="595" width="18" height="2" fill="#f9d8fa"/>
<rect x="802" y="604" width="18" height="3" fill="#f5c0f7"/>
<rect x="802" y="614" width="18" height="3" fill="#f5c0f7"/>
<rect x="802" y="624" width="18" height="3" fill="#f5c0f7"/>
<rect x="802" y="634" width="18" height="3" fill="#f5c0f7"/>
<rect x="802" y="636" width="18" height="2" fill="#d468f3"/>
<rect x="802" y="644" width="18" height="3" fill="#f9d8fa"/>
<rect x="802" y="654" width="18" height="3" fill="#f9d8fa"/>
<rect x="802" y="664" width="18" height="3" fill="#f9d8fa"/>
<rect x="802" y="674" width="18" height="2" fill="#f9d8fa"/>
<rect x="802" y="684" width="18" height="2" fill="#f9d8fa"/>
<rect x="802" y="694" width="18" height="2" fill="#f9d8fa"/>
<rect x="802" y="704" width="18" height="2" fill="#f9d8fa"/>
<rect x="802" y="713" width="18" height="3" fill="#f9d8fa"/>
<rect x="802" y="723" width="18" height="3" fill="#f9d8fa"/>
<rect x="802" y="733" width="18" height="3" fill="#f9d8fa"/>
<rect x="802" y="743" width="18" height="3" fill="#f9d8fa"/>
<rect x="802" y="753" width="18" height="3" fill="#f9d8fa"/>
<rect x="802" y="763" width="18" height="3" fill="#f9d8fa"/>
<rect x="802" y="773" width="18" height="2" fill="#f9d8fa"/>
<rect x="802" y="783" width="18" height="2" fill="#f9d8fa"/>
<rect x="802" y="793" width="18" height="2" fill="#f9d8fa"/>
<rect x="802" y="803" width="18" height="2" fill="#f9d8fa"/>
<rect x="802" y="812" width="18" height="3" fill="#f9d8fa"/>
<rect x="802" y="822" width="18" height="3" fill="#f9d8fa"/>
<rect x="802" y="832" width="18" height="3" fill="#f9d8fa"/>
<rect x="802" y="842" width="18" height="3" fill="#f5c0f7"/>
<rect x="802" y="852" width="18" height="3" fill="#f5c0f7"/>
<rect x="802" y="862" width="18" height="3" fill="#f5c0f7"/>
<rect x="802" y="872" width="18" height="3" fill="#f5c0f7"/>
<rect x="802" y="878" width="18" height="3" fill="#d468f3"/>
<rect x="802" y="882" width="18" height="2" fill="#f9d8fa"/>
<rect x="802" y="892" width="18" height="2" fill="#f9d8fa"/>
<rect x="802" y="902" width="18" height="2" fill="#f9d8fa"/>
<rect x="802" y="911" width="18" height="3" fill="#f9d8fa"/>
<rect x="802" y="921" width="18" height="3" fill="#f9d8fa"/>
<rect x="802" y="931" width="18" height="3" fill="#f9d8fa"/>
<rect x="802" y="941" width="18" height="3" fill="#f9d8fa"/>
</g>
<g fill-opacity="0.9">
<rect x="820" y="130" width="17" height="2" fill="#fae1fb"/>
<rect x="820" y="131" width="17" height="2" fill="#fdf3fd"/>
<rect x="820" y="132" width="17" height="3" fill="#fdf3fd"/>
<rect x="820" y="134" width="17" height="3" fill="#fceafc"/>
<rect x="820" y="136" width="17" height="2" fill="#fdf3fd"/>
<rect x="820" y="137" width="17" height="3" fill="#fdf3fd"/>
<rect x="820" y="139" width="17" height="3" fill="#fae1fb"/>
<rect x="820" y="141" width="17" height="2" fill="#fdf3fd"/>
<rect x="820" y="142" width="17" height="3" fill="#fdf3fd"/>
<rect x="820" y="144" width="17" height="3" fill="#fceafc"/>
<rect x="820" y="146" width="17" height="2" fill="#fdf3fd"/>
<rect x="820" y="147" width="17" height="3" fill="#fdf3fd"/>
<rect x="820" y="149" width="17" height="3" fill="#fae1fb"/>
<rect x="820" y="151" width="17" height="2" fill="#fdf3fd"/>
<rect x="820" y="152" width="17" height="3" fill="#fdf3fd"/>
<rect x="820" y="154" width="17" height="3" fill="#fceafc"/>
<rect x="820" y="156" width="17" height="2" fill="#fdf3fd"/>
<rect x="820" y="157" width="17" height="3" fill="#fdf3fd"/>
<rect x="820" y="159" width="17" height="2" fill="#fae1fb"/>
<rect x="820" y="160" width="17" height="3" fill="#fdf3fd"/>
<rect x="820" y="162" width="17" height="3" fill="#fdf3fd"/>
<rect x="820" y="164" width="17" height="2" fill="#fceafc"/>
<rect x="820" y="165" width="17" height="3" fill="#fdf3fd"/>
<rect x="820" y="167" width="17" height="3" fill="#fdf3fd"/>
<rect x="820" y="169" width="17" height="2" fill="#fae1fb"/>
<rect x="820" y="170" width="17" height="3" fill="#fdf3fd"/>
<rect x="820" y="172" width="17" height="3" fill="#fdf3fd"/>
<rect x="820" y="174" width="17" height="2" fill="#fceafc"/>
<rect x="820" y="175" width="17" height="3" fill="#fdf3fd"/>
<rect x="820" y="177" width="17" height="3" fill="#fdf3fd"/>
<rect x="820" y="179" width="17" height="2" fill="#fae1fb"/>
<rect x="820" y="180" width="17" height="3" fill="#fdf3fd"/>
<rect x="820" y="182" width="17" height="3" fill="#fdf3fd"/>
<rect x="820" y="184" width="17" height="2" fill="#fceafc"/>
<rect x="820" y="185" width="17" height="3" fill="#fdf3fd"/>
<rect x="820" y="187" width="17" height="3" fill="#fdf3fd"/>
<rect x="820" y="189" width="17" height="2" fill="#fae1fb"/>
<rect x="820" y="190" width="17" height="3" fill="#fdf3fd"/>
<rect x="820" y="192" width="17" height="2" fill="#fdf3fd"/>
<rect x="820" y="193" width="17" height="3" fill="#fceafc"/>
<rect x="820" y="195" width="17" height="3" fill="#fdf3fd"/>
<rect x="820" y="197" width="17" height="2" fill="#fdf3fd"/>
<rect x="820" y="198" width="17" height="3" fill="#f9d8fa"/>
<rect x="820" y="200" width="17" height="3" fill="#fdf3fd"/>
<rect x="820" y="202" width="17" height="2" fill="#fdf3fd"/>
<rect x="820" y="203" width="17" height="3" fill="#fceafc"/>
<rect x="820" y="205" width="17" height="3" fill="#fdf3fd"/>
<rect x="820" y="207" width="17" height="2" fill="#fdf3fd"/>
<rect x="820" y="208" width="17" height="3" fill="#fae1fb"/>
<rect x="820" y="210" width="17" height="3" fill="#fdf3fd"/>
<rect x="820" y="212" width="17" height="2" fill="#fdf3fd"/>
<rect x="820" y="213" width="17" height="3" fill="#fceafc"/>
<rect x="820" y="215" width="17" height="3" fill="#fdf3fd"/>
<rect x="820" y="217" width="17" height="2" fill="#fdf3fd"/>
<rect x="820" y="218" width="17" height="3" fill="#fae1fb"/>
<rect x="820" y="220" width="17" height="3" fill="#fdf3fd"/>
<rect x="820" y="222" width="17" height="2" fill="#fdf3fd"/>
<rect x="820" y="223" width="17" height="3" fill="#fceafc"/>
<rect x="820" y="225" width="17" height="2" fill="#fdf3fd"/>
<rect x="820" y="226" width="17" height="3" fill="#fdf3fd"/>
<rect x="820" y="228" width="17" height="3" fill="#fae1fb"/>
<rect x="820" y="230" width="17" height="2" fill="#fdf3fd"/>
<rect x="820" y="231" width="17" height="3" fill="#fdf3fd"/>
<rect x="820" y="233" width="17" height="3" fill="#fceafc"/>
<rect x="820" y="235" width="17" height="2" fill="#fdf3fd"/>
<rect x="820" y="236" width="17" height="3" fill="#fdf3fd"/>
<rect x="820" y="238" width="17" height="3" fill="#fae1fb"/>
<rect x="820" y="240" width="17" height="2" fill="#fdf3fd"/>
<rect x="820" y="241" width="17" height="3" fill="#fdf3fd"/>
<rect x="820" y="243" width="17" height="3" fill="#fceafc"/>
<rect x="820" y="245" width="17" height="2" fill="#fdf3fd"/>
<rect x="820" y="246" width="17" height="3" fill="#fdf3fd"/>
<rect x="820" y="248" width="17" height="3" fill="#fae1fb"/>
<rect x="820" y="250" width="17" height="2" fill="#fdf3fd"/>
<rect x="820" y="251" width="17" height="3" fill="#fdf3fd"/>
<rect x="820" y="253" width="17" height="3" fill="#fceafc"/>
<rect x="820" y="255" width="17" height="2" fill="#fdf3fd"/>
<rect x="820" y="256" width="17" height="3" fill="#fdf3fd"/>
<rect x="820" y="258" width="17" height="2" fill="#fae1fb"/>
<rect x="820" y="259" width="17" height="3" fill="#fdf3fd"/>
<rect x="820" y="261" width="17" height="3" fill="#fdf3fd"/>
<rect x="820" y="263" width="17" height="2" fill="#fceafc"/>
<rect x="820" y="264" width="17" height="3" fill="#fdf3fd"/>
<rect x="820" y="266" width="17" height="3" fill="#fdf3fd"/>
<rect x="820" y="268" width="17" height="2" fill="#fae1fb"/>
<rect x="820" y="269" width="17" height="3" fill="#fdf3fd"/>
<rect x="820" y="271" width="17" height="3" fill="#fdf3fd"/>
<rect x="820" y="273" width="17" height="2" fill="#fceafc"/>
<rect x="820" y="274" width="17" height="3" fill="#fdf3fd"/>
<rect x="820" y="276" width="17" height="3" fill="#fdf3fd"/>
<rect x="820" y="278" width="17" height="2" fill="#fae1fb"/>
<rect x="820" y="279" width="17" height="3" fill="#fdf3fd"/>
<rect x="820" y="281" width="17" height="3" fill="#fdf3fd"/>
<rect x="820" y="283" width="17" height="2" fill="#fceafc"/>
<rect x="820" y="284" width="17" height="3" fill="#fdf3fd"/>
<rect x="820" y="286" width="17" height="3" fill="#fdf3fd"/>
<rect x="820" y="288" width="17" height="2" fill="#f9d8fa"/>
<rect x="820" y="289" width="17" height="3" fill="#fdf3fd"/>
<rect x="820" y="291" width="17" height="3" fill="#fdf3fd"/>
<rect x="820" y="293" width="17" height="2" fill="#fceafc"/>
<rect x="820" y="294" width="17" height="3" fill="#fdf3fd"/>
<rect x="820" y="296" width="17" height="2" fill="#fdf3fd"/>
<rect x="820" y="297" width="17" height="3" fill="#fae1fb"/>
<rect x="820" y="299" width="17" height="3" fill="#fdf3fd"/>
<rect x="820" y="301" width="17" height="2" fill="#fdf3fd"/>
<rect x="820" y="302" width="17" height="3" fill="#fceafc"/>
<rect x="820" y="304" width="17" height="3" fill="#fdf3fd"/>
<rect x="820" y="306" width="17" height="2" fill="#fdf3fd"/>
<rect x="820" y="307" width="17" height="3" fill="#fae1fb"/>
<rect x="820" y="309" width="17" height="3" fill="#fdf3fd"/>
<rect x="820" y="311" width="17" height="2" fill="#fdf3fd"/>
<rect x="820" y="312" width="17" height="3" fill="#fceafc"/>
<rect x="820" y="314" width="17" height="3" fill="#fdf3fd"/>
<rect x="820" y="316" width="17" height="2" fill="#fdf3fd"/>
<rect x="820" y="317" width="17" height="3" fill="#fae1fb"/>
<rect x="820" y="319" width="17" height="3" fill="#fdf3fd"/>
<rect x="820" y="321" width="17" height="2" fill="#fdf3fd"/>
<rect x="820" y="322" width="17" height="3" fill="#fceafc"/>
<rect x="820" y="324" width="17" height="3" fill="#fdf3fd"/>
<rect x="820" y="326" width="17" height="2" fill="#fdf3fd"/>
<rect x="820" y="327" width="17" height="3" fill="#fae1fb"/>
<rect x="820" y="329" width="17" height="2" fill="#fdf3fd"/>
<rect x="820" y="330" width="17" height="3" fill="#fdf3fd"/>
<rect x="820" y="332" width="17" height="3" fill="#fceafc"/>
<rect x="820" y="334" width="17" height="2" fill="#fdf3fd"/>
<rect x="820" y="335" width="17" height="3" fill="#fdf3fd"/>
<rect x="820" y="337" width="17" height="3" fill="#fae1fb"/>
<rect x="820" y="339" width="17" height="2" fill="#fdf3fd"/>
<rect x="820" y="340" width="17" height="3" fill="#fdf3fd"/>
<rect x="820" y="342" width="17" height="3" fill="#fceafc"/>
<rect x="820" y="344" width="17" height="2" fill="#fdf3fd"/>
<rect x="820" y="345" width="17" height="3" fill="#fdf3fd"/>
<rect x="820" y="347" width="17" height="3" fill="#fae1fb"/>
<rect x="820" y="349" width="17" height="2" fill="#fdf3fd"/>
<rect x="820" y="350" width="17" height="3" fill="#fdf3fd"/>
<rect x="820" y="352" width="17" height="3" fill="#fceafc"/>
<rect x="820" y="354" width="17" height="2" fill="#fdf3fd"/>
<rect x="820" y="355" width="17" height="3" fill="#fdf3fd"/>
<rect x="820" y="357" width="17" height="3" fill="#fae1fb"/>
<rect x="820" y="359" width="17" height="2" fill="#fdf3fd"/>
<rect x="820" y="360" width="17" height="3" fill="#fdf3fd"/>
<rect x="820" y="362" width="17" height="2" fill="#fceafc"/>
<rect x="820" y="363" width="17" height="3" fill="#fdf3fd"/>
<rect x="820" y="365" width="17" height="3" fill="#fdf3fd"/>
<rect x="820" y="367" width="17" height="2" fill="#fae1fb"/>
<rect x="820" y="368" width="17" height="3" fill="#fdf3fd"/>
<rect x="820" y="370" width="17" height="3" fill="#fdf3fd"/>
<rect x="820" y="372" width="17" height="2" fill="#fceafc"/>
<rect x="820" y="373" width="17" height="3" fill="#fdf3fd"/>
<rect x="820" y="375" width="17" height="3" fill="#fdf3fd"/>
<rect x="820" y="377" width="17" height="2" fill="#f9d8fa"/>
<rect x="820" y="378" width="17" height="3" fill="#fdf3fd"/>
<rect x="820" y="380" width="17" height="3" fill="#fdf3fd"/>
<rect x="820" y="382" width="17" height="2" fill="#fceafc"/>
<rect x="820" y="383" width="17" height="3" fill="#fdf3fd"/>
<rect x="820" y="385" width="17" height="3" fill="#fdf3fd"/>
<rect x="820" y="387" width="17" height="2" fill="#fae1fb"/>
<rect x="820" y="388" width="17" height="3" fill="#fdf3fd"/>
<rect x="820" y="390" width="17" height="3" fill="#fdf3fd"/>
<rect x="820" y="392" width="17" height="2" fill="#fceafc"/>
<rect x="820" y="393" width="17" height="3" fill="#fdf3fd"/>
<rect x="820" y="395" width="17" height="2" fill="#fdf3fd"/>
<rect x="820" y="396" width="17" height="3" fill="#fae1fb"/>
<rect x="820" y="398" width="17" height="3" fill="#fdf3fd"/>
<rect x="820" y="400" width="17" height="2" fill="#fdf3fd"/>
<rect x="820" y="401" width="17" height="3" fill="#fceafc"/>
<rect x="820" y="403" width="17" height="3" fill="#fdf3fd"/>
<rect x="820" y="405" width="17" height="2" fill="#fdf3fd"/>
<rect x="820" y="406" width="17" height="3" fill="#fae1fb"/>
<rect x="820" y="408" width="17" height="3" fill="#fdf3fd"/>
<rect x="820" y="410" width="17" height="2" fill="#fdf3fd"/>
<rect x="820" y="411" width="17" height="3" fill="#fceafc"/>
<rect x="820" y="413" width="17" height="3" fill="#fdf3fd"/>
<rect x="820" y="415" width="17" height="2" fill="#fdf3fd"/>
<rect x="820" y="416" width="17" height="3" fill="#fae1fb"/>
<rect x="820" y="418" width="17" height="3" fill="#fdf3fd"/>
<rect x="820" y="420" width="17" height="2" fill="#fdf3fd"/>
<rect x="820" y="421" width="17" height="3" fill="#fceafc"/>
<rect x="820" y="423" width="17" height="3" fill="#fdf3fd"/>
<rect x="820" y="425" width="17" height="2" fill="#fdf3fd"/>
<rect x="820" y="426" width="17" height="3" fill="#fae1fb"/>
<rect x="820" y="428" width="17" height="3" fill="#fdf3fd"/>
<rect x="820" y="430" width="17" height="2" fill="#fdf3fd"/>
<rect x="820" y="431" width="17" height="3" fill="#fceafc"/>
<rect x="820" y="433" width="17" height="2" fill="#fdf3fd"/>
<rect x="820" y="434" width="17" height="3" fill="#fdf3fd"/>
<rect x="820" y="436" width="17" height="3" fill="#f9d8fa"/>
<rect x="820" y="438" width="17" height="2" fill="#fdf3fd"/>
<rect x="820" y="439" width="17" height="3" fill="#fdf3fd"/>
<rect x="820" y="441" width="17" height="3" fill="#fceafc"/>
<rect x="820" y="443" width="17" height="2" fill="#fdf3fd"/>
<rect x="820" y="444" width="17" height="3" fill="#fdf3fd"/>
<rect x="820" y="446" width="17" height="3" fill="#fae1fb"/>
<rect x="820" y="448" width="17" height="2" fill="#fdf3fd"/>
<rect x="820" y="449" width="17" height="3" fill="#fdf3fd"/>
<rect x="820" y="451" width="17" height="3" fill="#fceafc"/>
<rect x="820" y="453" width="17" height="2" fill="#fdf3fd"/>
<rect x="820" y="454" width="17" height="3" fill="#fdf3fd"/>
<rect x="820" y="456" width="17" height="3" fill="#fae1fb"/>
<rect x="820" y="458" width="17" height="2" fill="#fdf3fd"/>
<rect x="820" y="459" width="17" height="3" fill="#fdf3fd"/>
<rect x="820" y="461" width="17" height="3" fill="#fceafc"/>
<rect x="820" y="463" width="17" height="2" fill="#fdf3fd"/>
<rect x="820" y="464" width="17" height="3" fill="#fdf3fd"/>
<rect x="820" y="466" width="17" height="2" fill="#fae1fb"/>
<rect x="820" y="467" width="17" height="3" fill="#fdf3fd"/>
<rect x="820" y="469" width="17" height="3" fill="#fdf3fd"/>
<rect x="820" y="471" width="17" height="2" fill="#fceafc"/>
<rect x="820" y="472" width="17" height="3" fill="#fdf3fd"/>
<rect x="820" y="474" width="17" height="3" fill="#fdf3fd"/>
<rect x="820" y="476" width="17" height="2" fill="#fae1fb"/>
<rect x="820" y="477" width="17" height="3" fill="#fdf3fd"/>
<rect x="820" y="479" width="17" height="3" fill="#fdf3fd"/>
<rect x="820" y="481" width="17" height="2" fill="#fceafc"/>
<rect x="820" y="482" width="17" height="3" fill="#fdf3fd"/>
<rect x="820" y="484" width="17" height="3" fill="#fdf3fd"/>
<rect x="820" y="486" width="17" height="2" fill="#fae1fb"/>
<rect x="820" y="487" width="17" height="3" fill="#fdf3fd"/>
<rect x="820" y="489" width="17" height="3" fill="#fdf3fd"/>
<rect x="820" y="491" width="17" height="2" fill="#fceafc"/>
<rect x="820" y="492" width="17" height="3" fill="#fdf3fd"/>
<rect x="820" y="494" width="17" height="3" fill="#fdf3fd"/>
<rect x="820" y="496" width="17" height="2" fill="#fae1fb"/>
<rect x="820" y="497" width="17" height="3" fill="#fdf3fd"/>
<rect x="820" y="499" width="17" height="2" fill="#fdf3fd"/>
<rect x="820" y="500" width="17" height="3" fill="#fceafc"/>
<rect x="820" y="502" width="17" height="3" fill="#fdf3fd"/>
<rect x="820" y="504" width="17" height="2" fill="#fdf3fd"/>
<rect x="820" y="505" width="17" height="3" fill="#fae1fb"/>
<rect x="820" y="507" width="17" height="3" fill="#fdf3fd"/>
<rect x="820" y="509" width="17" height="2" fill="#fdf3fd"/>
<rect x="820" y="510" width="17" height="3" fill="#fceafc"/>
<rect x="820" y="512" width="17" height="3" fill="#fdf3fd"/>
<rect x="820" y="514" width="17" height="2" fill="#fdf3fd"/>
<rect x="820" y="515" width="17" height="3" fill="#fae1fb"/>
<rect x="820" y="517" width="17" height="3" fill="#fdf3fd"/>
<rect x="820" y="519" width="17" height="2" fill="#fdf3fd"/>
<rect x="820" y="520" width="17" height="3" fill="#fceafc"/>
<rect x="820" y="522" width="17" height="3" fill="#fdf3fd"/>
<rect x="820" y="524" width="17" height="2" fill="#fdf3fd"/>
<rect x="820" y="525" width="17" height="3" fill="#f9d8fa"/>
<rect x="820" y="527" width="17" height="3" fill="#fdf3fd"/>
<rect x="820" y="529" width="17" height="2" fill="#fdf3fd"/>
<rect x="820" y="530" width="17" height="3" fill="#fceafc"/>
<rect x="820" y="532" width="17" height="2" fill="#fdf3fd"/>
<rect x="820" y="533" width="17" height="3" fill="#fdf3fd"/>
<rect x="820" y="535" width="17" height="3" fill="#fae1fb"/>
<rect x="820" y="537" width="17" height="2" fill="#fdf3fd"/>
<rect x="820" y="538" width="17" height="3" fill="#fdf3fd"/>
<rect x="820" y="540" width="17" height="3" fill="#fceafc"/>
<rect x="820" y="542" width="17" height="2" fill="#fdf3fd"/>
<rect x="820" y="543" width="17" height="3" fill="#fdf3fd"/>
<rect x="820" y="545" width="17" height="3" fill="#fae1fb"/>
<rect x="820" y="547" width="17" height="2" fill="#fdf3fd"/>
<rect x="820" y="548" width="17" height="3" fill="#fdf3fd"/>
<rect x="820" y="550" width="17" height="3" fill="#fceafc"/>
<rect x="820" y="552" width="17" height="2" fill="#fdf3fd"/>
<rect x="820" y="553" width="17" height="3" fill="#fdf3fd"/>
<rect x="820" y="555" width="17" height="3" fill="#fae1fb"/>
<rect x="820" y="557" width="17" height="2" fill="#fdf3fd"/>
<rect x="820" y="558" width="17" height="3" fill="#fdf3fd"/>
<rect x="820" y="560" width="17" height="3" fill="#fceafc"/>
<rect x="820" y="562" width="17" height="2" fill="#fdf3fd"/>
<rect x="820" y="563" width="17" height="3" fill="#fdf3fd"/>
<rect x="820" y="565" width="17" height="3" fill="#fae1fb"/>
<rect x="820" y="567" width="17" height="2" fill="#fdf3fd"/>
<rect x="820" y="568" width="17" height="3" fill="#fdf3fd"/>
<rect x="820" y="570" width="17" height="2" fill="#fceafc"/>
<rect x="820" y="571" width="17" height="3" fill="#fdf3fd"/>
<rect x="820" y="573" width="17" height="3" fill="#fdf3fd"/>
<rect x="820" y="575" width="17" height="2" fill="#fae1fb"/>
<rect x="820" y="576" width="17" height="3" fill="#fdf3fd"/>
<rect x="820" y="578" width="17" height="3" fill="#fdf3fd"/>
<rect x="820" y="580" width="17" height="2" fill="#fceafc"/>
<rect x="820" y="581" width="17" height="3" fill="#fdf3fd"/>
<rect x="820" y="583" width="17" height="3" fill="#fdf3fd"/>
<rect x="820" y="585" width="17" height="2" fill="#fae1fb"/>
<rect x="820" y="586" width="17" height="3" fill="#fdf3fd"/>
<rect x="820" y="588" width="17" height="3" fill="#fdf3fd"/>
<rect x="820" y="590" width="17" height="2" fill="#fceafc"/>
<rect x="820" y="591" width="17" height="3" fill="#fdf3fd"/>
<rect x="820" y="593" width="17" height="3" fill="#fdf3fd"/>
<rect x="820" y="595" width="17" height="2" fill="#fae1fb"/>
<rect x="820" y="596" width="17" height="3" fill="#fdf3fd"/>
<rect x="820" y="598" width="17" height="3" fill="#fdf3fd"/>
<rect x="820" y="600" width="17" height="2" fill="#fceafc"/>
<rect x="820" y="601" width="17" height="3" fill="#fdf3fd"/>
<rect x="820" y="603" width="17" height="2" fill="#fdf3fd"/>
<rect x="820" y="604" width="17" height="3" fill="#fae1fb"/>
<rect x="820" y="606" width="17" height="3" fill="#fdf3fd"/>
<rect x="820" y="608" width="17" height="2" fill="#fdf3fd"/>
<rect x="820" y="609" width="17" height="3" fill="#fceafc"/>
<rect x="820" y="611" width="17" height="3" fill="#fdf3fd"/>
<rect x="820" y="613" width="17" height="2" fill="#fdf3fd"/>
<rect x="820" y="614" width="17" height="3" fill="#fae1fb"/>
<rect x="820" y="616" width="17" height="3" fill="#fdf3fd"/>
<rect x="820" y="618" width="17" height="2" fill="#fdf3fd"/>
<rect x="820" y="619" width="17" height="3" fill="#fceafc"/>
<rect x="820" y="621" width="17" height="3" fill="#fdf3fd"/>
<rect x="820" y="623" width="17" height="2" fill="#fdf3fd"/>
<rect x="820" y="624" width="17" height="3" fill="#fae1fb"/>
<rect x="820" y="626" width="17" height="3" fill="#fdf3fd"/>
<rect x="820" y="628" width="17" height="2" fill="#fdf3fd"/>
<rect x="820" y="629" width="17" height="3" fill="#fceafc"/>
<rect x="820" y="631" width="17" height="3" fill="#fdf3fd"/>
<rect x="820" y="633" width="17" height="2" fill="#fdf3fd"/>
<rect x="820" y="634" width="17" height="3" fill="#fae1fb"/>
<rect x="820" y="636" width="17" height="2" fill="#fdf3fd"/>
<rect x="820" y="637" width="17" height="3" fill="#fdf3fd"/>
<rect x="820" y="639" width="17" height="3" fill="#fceafc"/>
<rect x="820" y="641" width="17" height="2" fill="#fdf3fd"/>
<rect x="820" y="642" width="17" height="3" fill="#fdf3fd"/>
<rect x="820" y="644" width="17" height="3" fill="#fae1fb"/>
<rect x="820" y="646" width="17" height="2" fill="#fdf3fd"/>
<rect x="820" y="647" width="17" height="3" fill="#fdf3fd"/>
<rect x="820" y="649" width="17" height="3" fill="#fceafc"/>
<rect x="820" y="651" width="17" height="2" fill="#fdf3fd"/>
<rect x="820" y="652" width="17" height="3" fill="#fdf3fd"/>
<rect x="820" y="654" width="17" height="3" fill="#fae1fb"/>
<rect x="820" y="656" width="17" height="2" fill="#fdf3fd"/>
<rect x="820" y="657" width="17" height="3" fill="#fdf3fd"/>
<rect x="820" y="659" width="17" height="3" fill="#fceafc"/>
<rect x="820" y="661" width="17" height="2" fill="#fdf3fd"/>
<rect x="820" y="662" width="17" height="3" fill="#fdf3fd"/>
<rect x="820" y="664" width="17" height="3" fill="#fae1fb"/>
<rect x="820" y="666" width="17" height="2" fill="#fdf3fd"/>
<rect x="820" y="667" width="17" height="3" fill="#fdf3fd"/>
<rect x="820" y="669" width="17" height="2" fill="#fceafc"/>
<rect x="820" y="670" width="17" height="3" fill="#fdf3fd"/>
<rect x="820" y="672" width="17" height="3" fill="#fdf3fd"/>
<rect x="820" y="674" width="17" height="2" fill="#f9d8fa"/>
<rect x="820" y="675" width="17" height="3" fill="#fdf3fd"/>
<rect x="820" y="677" width="17" height="3" fill="#fdf3fd"/>
<rect x="820" y="679" width="17" height="2" fill="#fceafc"/>
<rect x="820" y="680" width="17" height="3" fill="#fdf3fd"/>
<rect x="820" y="682" width="17" height="3" fill="#fdf3fd"/>
<rect x="820" y="684" width="17" height="2" fill="#fae1fb"/>
<rect x="820" y="685" width="17" height="3" fill="#fdf3fd"/>
<rect x="820" y="687" width="17" height="3" fill="#fdf3fd"/>
<rect x="820" y="689" width="17" height="2" fill="#fceafc"/>
<rect x="820" y="690" width="17" height="3" fill="#fdf3fd"/>
<rect x="820" y="692" width="17" height="3" fill="#fdf3fd"/>
<rect x="820" y="694" width="17" height="2" fill="#fae1fb"/>
<rect x="820" y="695" width="17" height="3" fill="#fdf3fd"/>
<rect x="820" y="697" width="17" height="3" fill="#fdf3fd"/>
<rect x="820" y="699" width="17" height="2" fill="#fceafc"/>
<rect x="820" y="700" width="17" height="3" fill="#fdf3fd"/>
<rect x="820" y="702" width="17" height="3" fill="#fdf3fd"/>
<rect x="820" y="704" width="17" height="2" fill="#fae1fb"/>
<rect x="820" y="705" width="17" height="3" fill="#fdf3fd"/>
<rect x="820" y="707" width="17" height="2" fill="#fdf3fd"/>
<rect x="820" y="708" width="17" height="3" fill="#fceafc"/>
<rect x="820" y="710" width="17" height="3" fill="#fdf3fd"/>
<rect x="820" y="712" width="17" height="2" fill="#fdf3fd"/>
<rect x="820" y="713" width="17" height="3" fill="#fae1fb"/>
<rect x="820" y="715" width="17" height="3" fill="#fdf3fd"/>
<rect x="820" y="717" width="17" height="2" fill="#fdf3fd"/>
<rect x="820" y="718" width="17" height="3" fill="#fceafc"/>
<rect x="820" y="720" width="17" height="3" fill="#fdf3fd"/>
<rect x="820" y="722" width="17" height="2" fill="#fdf3fd"/>
<rect x="820" y="723" width="17" height="3" fill="#fae1fb"/>
<rect x="820" y="725" width="17" height="3" fill="#fdf3fd"/>
<rect x="820" y="727" width="17" height="2" fill="#fdf3fd"/>
<rect x="820" y="728" width="17" height="3" fill="#fceafc"/>
<rect x="820" y="730" width="17" height="3" fill="#fdf3fd"/>
<rect x="820" y="732" width="17" height="2" fill="#fdf3fd"/>
<rect x="820" y="733" width="17" height="3" fill="#fae1fb"/>
<rect x="820" y="735" width="17" height="3" fill="#fdf3fd"/>
<rect x="820" y="737" width="17" height="2" fill="#fdf3fd"/>
<rect x="820" y="738" width="17" height="3" fill="#fceafc"/>
<rect x="820" y="740" width="17" height="2" fill="#fdf3fd"/>
<rect x="820" y="741" width="17" height="3" fill="#fdf3fd"/>
<rect x="820" y="743" width="17" height="3" fill="#fae1fb"/>
<rect x="820" y="745" width="17" height="2" fill="#fdf3fd"/>
<rect x="820" y="746" width="17" height="3" fill="#fdf3fd"/>
<rect x="820" y="748" width="17" height="3" fill="#fceafc"/>
<rect x="820" y="750" width="17" height="2" fill="#fdf3fd"/>
<rect x="820" y="751" width="17" height="3" fill="#fdf3fd"/>
<rect x="820" y="753" width="17" height="3" fill="#fae1fb"/>
<rect x="820" y="755" width="17" height="2" fill="#fdf3fd"/>
<rect x="820" y="756" width="17" height="3" fill="#fdf3fd"/>
<rect x="820" y="758" width="17" height="3" fill="#fceafc"/>
<rect x="820" y="760" width="17" height="2" fill="#fdf3fd"/>
<rect x="820" y="761" width="17" height="3" fill="#fdf3fd"/>
<rect x="820" y="763" width="17" height="3" fill="#f9d8fa"/>
<rect x="820" y="765" width="17" height="2" fill="#fdf3fd"/>
<rect x="820" y="766" width="17" height="3" fill="#fdf3fd"/>
<rect x="820" y="768" width="17" height="3" fill="#fceafc"/>
<rect x="820" y="770" width="17" height="2" fill="#fdf3fd"/>
<rect x="820" y="771" width="17" height="3" fill="#fdf3fd"/>
<rect x="820" y="773" width="17" height="2" fill="#fae1fb"/>
<rect x="820" y="774" width="17" height="3" fill="#fdf3fd"/>
<rect x="820" y="776" width="17" height="3" fill="#fdf3fd"/>
<rect x="820" y="778" width="17" height="2" fill="#fceafc"/>
<rect x="820" y="779" width="17" height="3" fill="#fdf3fd"/>
<rect x="820" y="781" width="17" height="3" fill="#fdf3fd"/>
<rect x="820" y="783" width="17" height="2" fill="#fae1fb"/>
<rect x="820" y="784" width="17" height="3" fill="#fdf3fd"/>
<rect x="820" y="786" width="17" height="3" fill="#fdf3fd"/>
<rect x="820" y="788" width="17" height="2" fill="#fceafc"/>
<rect x="820" y="789" width="17" height="3" fill="#fdf3fd"/>
<rect x="820" y="791" width="17" height="3" fill="#fdf3fd"/>
<rect x="820" y="793" width="17" height="2" fill="#fae1fb"/>
<rect x="820" y="794" width="17" height="3" fill="#fdf3fd"/>
<rect x="820" y="796" width="17" height="3" fill="#fdf3fd"/>
<rect x="820" y="798" width="17" height="2" fill="#fceafc"/>
<rect x="820" y="799" width="17" height="3" fill="#fdf3fd"/>
<rect x="820" y="801" width="17" height="3" fill="#fdf3fd"/>
<rect x="820" y="803" width="17" height="2" fill="#fae1fb"/>
<rect x="820" y="804" width="17" height="3" fill="#fdf3fd"/>
<rect x="820" y="806" width="17" height="2" fill="#fdf3fd"/>
<rect x="820" y="807" width="17" height="3" fill="#fceafc"/>
<rect x="820" y="809" width="17" height="3" fill="#fdf3fd"/>
<rect x="820" y="811" width="17" height="2" fill="#fdf3fd"/>
<rect x="820" y="812" width="17" height="3" fill="#fae1fb"/>
<rect x="820" y="814" width="17" height="3" fill="#fdf3fd"/>
<rect x="820" y="816" width="17" height="2" fill="#fdf3fd"/>
<rect x="820" y="817" width="17" height="3" fill="#fceafc"/>
<rect x="820" y="819" width="17" height="3" fill="#fdf3fd"/>
<rect x="820" y="821" width="17" height="2" fill="#fdf3fd"/>
<rect x="820" y="822" width="17" height="3" fill="#fae1fb"/>
<rect x="820" y="824" width="17" height="3" fill="#fdf3fd"/>
<rect x="820" y="826" width="17" height="2" fill="#fdf3fd"/>
<rect x="820" y="827" width="17" height="3" fill="#fceafc"/>
<rect x="820" y="829" width="17" height="3" fill="#fdf3fd"/>
<rect x="820" y="831" width="17" height="2" fill="#fdf3fd"/>
<rect x="820" y="832" width="17" height="3" fill="#fae1fb"/>
<rect x="820" y="834" width="17" height="3" fill="#fdf3fd"/>
<rect x="820" y="836" width="17" height="2" fill="#fdf3fd"/>
<rect x="820" y="837" width="17" height="3" fill="#fceafc"/>
<rect x="820" y="839" width="17" height="3" fill="#fdf3fd"/>
<rect x="820" y="841" width="17" height="2" fill="#fdf3fd"/>
<rect x="820" y="842" width="17" height="3" fill="#fae1fb"/>
<rect x="820" y="844" width="17" height="2" fill="#fdf3fd"/>
<rect x="820" y="845" width="17" height="3" fill="#fdf3fd"/>
<rect x="820" y="847" width="17" height="3" fill="#fceafc"/>
<rect x="820" y="849" width="17" height="2" fill="#fdf3fd"/>
<rect x="820" y="850" width="17" height="3" fill="#fdf3fd"/>
<rect x="820" y="852" width="17" height="3" fill="#fae1fb"/>
<rect x="820" y="854" width="17" height="2" fill="#fdf3fd"/>
<rect x="820" y="855" width="17" height="3" fill="#fdf3fd"/>
<rect x="820" y="857" width="17" height="3" fill="#fceafc"/>
<rect x="820" y="859" width="17" height="2" fill="#fdf3fd"/>
<rect x="820" y="860" width="17" height="3" fill="#fdf3fd"/>
<rect x="820" y="862" width="17" height="3" fill="#fae1fb"/>
<rect x="820" y="864" width="17" height="2" fill="#fdf3fd"/>
<rect x="820" y="865" width="17" height="3" fill="#fdf3fd"/>
<rect x="820" y="867" width="17" height="3" fill="#fceafc"/>
<rect x="820" y="869" width="17" height="2" fill="#fdf3fd"/>
<rect x="820" y="870" width="17" height="3" fill="#fdf3fd"/>
<rect x="820" y="872" width="17" height="3" fill="#fae1fb"/>
<rect x="820" y="874" width="17" height="2" fill="#fdf3fd"/>
<rect x="820" y="875" width="17" height="3" fill="#fdf3fd"/>
<rect x="820" y="877" width="17" height="2" fill="#fceafc"/>
<rect x="820" y="878" width="17" height="3" fill="#fdf3fd"/>
<rect x="820" y="880" width="17" height="3" fill="#fdf3fd"/>
<rect x="820" y="882" width="17" height="2" fill="#fae1fb"/>
<rect x="820" y="883" width="17" height="3" fill="#fdf3fd"/>
<rect x="820" y="885" width="17" height="3" fill="#fdf3fd"/>
<rect x="820" y="887" width="17" height="2" fill="#fceafc"/>
<rect x="820" y="888" width="17" height="3" fill="#fdf3fd"/>
<rect x="820" y="890" width="17" height="3" fill="#fdf3fd"/>
<rect x="820" y="892" width="17" height="2" fill="#fae1fb"/>
<rect x="820" y="893" width="17" height="3" fill="#fdf3fd"/>
<rect x="820" y="895" width="17" height="3" fill="#fdf3fd"/>
<rect x="820" y="897" width="17" height="2" fill="#fceafc"/>
<rect x="820" y="898" width="17" height="3" fill="#fdf3fd"/>
<rect x="820" y="900" width="17" height="3" fill="#fdf3fd"/>
<rect x="820" y="902" width="17" height="2" fill="#fae1fb"/>
<rect x="820" y="903" width="17" height="3" fill="#fdf3fd"/>
<rect x="820" y="905" width="17" height="3" fill="#fdf3fd"/>
<rect x="820" y="907" width="17" height="2" fill="#fceafc"/>
<rect x="820" y="908" width="17" height="3" fill="#fdf3fd"/>
<rect x="820" y="910" width="17" height="2" fill="#fdf3fd"/>
<rect x="820" y="911" width="17" height="3" fill="#f9d8fa"/>
<rect x="820" y="913" width="17" height="3" fill="#fdf3fd"/>
<rect x="820" y="915" width="17" height="2" fill="#fdf3fd"/>
<rect x="820" y="916" width="17" height="3" fill="#fceafc"/>
<rect x="820" y="918" width="17" height="3" fill="#fdf3fd"/>
<rect x="820" y="920" width="17" height="2" fill="#fdf3fd"/>
<rect x="820" y="921" width="17" height="3" fill="#fae1fb"/>
<rect x="820" y="923" width="17" height="3" fill="#fdf3fd"/>
<rect x="820" y="925" width="17" height="2" fill="#fdf3fd"/>
<rect x="820" y="926" width="17" height="3" fill="#fceafc"/>
<rect x="820" y="928" width="17" height="3" fill="#fdf3fd"/>
<rect x="820" y="930" width="17" height="2" fill="#fdf3fd"/>
<rect x="820" y="931" width="17" height="3" fill="#fae1fb"/>
<rect x="820" y="933" width="17" height="3" fill="#fdf3fd"/>
<rect x="820" y="935" width="17" height="2" fill="#fdf3fd"/>
<rect x="820" y="936" width="17" height="3" fill="#fceafc"/>
<rect x="820" y="938" width="17" height="3" fill="#fdf3fd"/>
<rect x="820" y="940" width="17" height="2" fill="#fdf3fd"/>
<rect x="820" y="941" width="17" height="3" fill="#fae1fb"/>
<rect x="820" y="943" width="17" height="2" fill="#fdf3fd"/>
</g>
<g fill-opacity="0.9">
<rect x="925" y="130" width="17" height="2" fill="#f8d3f9"/>
<rect x="925" y="131" width="17" height="2" fill="#f8d3f9"/>
<rect x="925" y="132" width="17" height="3" fill="#f8d3f9"/>
<rect x="925" y="134" width="17" height="3" fill="#f8d3f9"/>
<rect x="925" y="136" width="17" height="2" fill="#f8d3f9"/>
<rect x="925" y="137" width="17" height="3" fill="#f8d3f9"/>
<rect x="925" y="139" width="17" height="3" fill="#f8d3f9"/>
<rect x="925" y="141" width="17" height="2" fill="#f8d3f9"/>
<rect x="925" y="142" width="17" height="3" fill="#f8d3f9"/>
<rect x="925" y="144" width="17" height="3" fill="#f8d3f9"/>
<rect x="925" y="146" width="17" height="2" fill="#f8d3f9"/>
<rect x="925" y="147" width="17" height="3" fill="#f8d3f9"/>
<rect x="925" y="149" width="17" height="3" fill="#f8d3f9"/>
<rect x="925" y="151" width="17" height="2" fill="#f8d3f9"/>
<rect x="925" y="152" width="17" height="3" fill="#f8d3f9"/>
<rect x="925" y="154" width="17" height="3" fill="#f8d3f9"/>
<rect x="925" y="156" width="17" height="2" fill="#f8d3f9"/>
<rect x="925" y="157" width="17" height="3" fill="#f8d3f9"/>
<rect x="925" y="159" width="17" height="2" fill="#f8d3f9"/>
<rect x="925" y="160" width="17" height="3" fill="#f8d3f9"/>
<rect x="925" y="162" width="17" height="3" fill="#f8d3f9"/>
<rect x="925" y="164" width="17" height="2" fill="#f8d3f9"/>
<rect x="925" y="165" width="17" height="3" fill="#f8d3f9"/>
<rect x="925" y="167" width="17" height="3" fill="#f8d3f9"/>
<rect x="925" y="169" width="17" height="2" fill="#f8d3f9"/>
<rect x="925" y="170" width="17" height="3" fill="#f8d3f9"/>
<rect x="925" y="172" width="17" height="3" fill="#f8d3f9"/>
<rect x="925" y="174" width="17" height="2" fill="#f8d3f9"/>
<rect x="925" y="175" width="17" height="3" fill="#f8d3f9"/>
<rect x="925" y="177" width="17" height="3" fill="#f8d3f9"/>
<rect x="925" y="179" width="17" height="2" fill="#f8d3f9"/>
<rect x="925" y="180" width="17" height="3" fill="#f8d3f9"/>
<rect x="925" y="182" width="17" height="3" fill="#f8d3f9"/>
<rect x="925" y="184" width="17" height="2" fill="#f8d3f9"/>
<rect x="925" y="185" width="17" height="3" fill="#f8d3f9"/>
<rect x="925" y="187" width="17" height="3" fill="#f8d3f9"/>
<rect x="925" y="189" width="17" height="2" fill="#f8d3f9"/>
<rect x="925" y="190" width="17" height="3" fill="#f8d3f9"/>
<rect x="925" y="192" width="17" height="2" fill="#f8d3f9"/>
<rect x="925" y="193" width="17" height="3" fill="#f8d3f9"/>
<rect x="925" y="195" width="17" height="3" fill="#f8d3f9"/>
<rect x="925" y="197" width="17" height="2" fill="#f8d3f9"/>
<rect x="925" y="198" width="17" height="3" fill="#f8d3f9"/>
<rect x="925" y="200" width="17" height="3" fill="#f8d3f9"/>
<rect x="925" y="202" width="17" height="2" fill="#f8d3f9"/>
<rect x="925" y="203" width="17" height="3" fill="#f8d3f9"/>
<rect x="925" y="205" width="17" height="3" fill="#f8d3f9"/>
<rect x="925" y="207" width="17" height="2" fill="#f8d3f9"/>
<rect x="925" y="208" width="17" height="3" fill="#f8d3f9"/>
<rect x="925" y="210" width="17" height="3" fill="#f8d3f9"/>
<rect x="925" y="212" width="17" height="2" fill="#f8d3f9"/>
<rect x="925" y="213" width="17" height="3" fill="#f8d3f9"/>
<rect x="925" y="215" width="17" height="3" fill="#f8d3f9"/>
<rect x="925" y="217" width="17" height="2" fill="#f8d3f9"/>
<rect x="925" y="218" width="17" height="3" fill="#f8d3f9"/>
<rect x="925" y="220" width="17" height="3" fill="#f8d3f9"/>
<rect x="925" y="222" width="17" height="2" fill="#f8d3f9"/>
<rect x="925" y="223" width="17" height="3" fill="#f8d3f9"/>
<rect x="925" y="225" width="17" height="2" fill="#f8d3f9"/>
<rect x="925" y="226" width="17" height="3" fill="#f8d3f9"/>
<rect x="925" y="228" width="17" height="3" fill="#f8d3f9"/>
<rect x="925" y="230" width="17" height="2" fill="#f8d3f9"/>
<rect x="925" y="231" width="17" height="3" fill="#f8d3f9"/>
<rect x="925" y="233" width="17" height="3" fill="#f8d3f9"/>
<rect x="925" y="235" width="17" height="2" fill="#f8d3f9"/>
<rect x="925" y="236" width="17" height="3" fill="#f8d3f9"/>
<rect x="925" y="238" width="17" height="3" fill="#f8d3f9"/>
<rect x="925" y="240" width="17" height="2" fill="#f8d3f9"/>
<rect x="925" y="241" width="17" height="3" fill="#f8d3f9"/>
<rect x="925" y="243" width="17" height="3" fill="#f8d3f9"/>
<rect x="925" y="245" width="17" height="2" fill="#f8d3f9"/>
<rect x="925" y="246" width="17" height="3" fill="#f8d3f9"/>
<rect x="925" y="248" width="17" height="3" fill="#f8d3f9"/>
<rect x="925" y="250" width="17" height="2" fill="#f8d3f9"/>
<rect x="925" y="251" width="17" height="3" fill="#f8d3f9"/>
<rect x="925" y="253" width="17" height="3" fill="#f8d3f9"/>
<rect x="925" y="255" width="17" height="2" fill="#f8d3f9"/>
<rect x="925" y="256" width="17" height="3" fill="#f8d3f9"/>
<rect x="925" y="258" width="17" height="2" fill="#f8d3f9"/>
<rect x="925" y="259" width="17" height="3" fill="#f8d3f9"/>
<rect x="925" y="261" width="17" height="3" fill="#f8d3f9"/>
<rect x="925" y="263" width="17" height="2" fill="#f8d3f9"/>
<rect x="925" y="264" width="17" height="3" fill="#f8d3f9"/>
<rect x="925" y="266" width="17" height="3" fill="#f8d3f9"/>
<rect x="925" y="268" width="17" height="2" fill="#f8d3f9"/>
<rect x="925" y="269" width="17" height="3" fill="#f8d3f9"/>
<rect x="925" y="271" width="17" height="3" fill="#f8d3f9"/>
<rect x="925" y="273" width="17" height="2" fill="#f8d3f9"/>
<rect x="925" y="274" width="17" height="3" fill="#f8d3f9"/>
<rect x="925" y="276" width="17" height="3" fill="#f8d3f9"/>
<rect x="925" y="278" width="17" height="2" fill="#f8d3f9"/>
<rect x="925" y="279" width="17" height="3" fill="#f8d3f9"/>
<rect x="925" y="281" width="17" height="3" fill="#f8d3f9"/>
<rect x="925" y="283" width="17" height="2" fill="#f8d3f9"/>
<rect x="925" y="284" width="17" height="3" fill="#f8d3f9"/>
<rect x="925" y="286" width="17" height="3" fill="#f8d3f9"/>
<rect x="925" y="288" width="17" height="2" fill="#f8d3f9"/>
<rect x="925" y="289" width="17" height="3" fill="#f8d3f9"/>
<rect x="925" y="291" width="17" height="3" fill="#f8d3f9"/>
<rect x="925" y="293" width="17" height="2" fill="#f8d3f9"/>
<rect x="925" y="294" width="17" height="3" fill="#f8d3f9"/>
<rect x="925" y="296" width="17" height="2" fill="#f8d3f9"/>
<rect x="925" y="297" width="17" height="3" fill="#f8d3f9"/>
<rect x="925" y="299" width="17" height="3" fill="#f8d3f9"/>
<rect x="925" y="301" width="17" height="2" fill="#f8d3f9"/>
<rect x="925" y="302" width="17" height="3" fill="#f8d3f9"/>
<rect x="925" y="304" width="17" height="3" fill="#f8d3f9"/>
<rect x="925" y="306" width="17" height="2" fill="#f8d3f9"/>
<rect x="925" y="307" width="17" height="3" fill="#f8d3f9"/>
<rect x="925" y="309" width="17" height="3" fill="#f8d3f9"/>
<rect x="925" y="311" width="17" height="2" fill="#f8d3f9"/>
<rect x="925" y="312" width="17" height="3" fill="#f8d3f9"/>
<rect x="925" y="314" width="17" height="3" fill="#f8d3f9"/>
<rect x="925" y="316" width="17" height="2" fill="#f8d3f9"/>
<rect x="925" y="317" width="17" height="3" fill="#f8d3f9"/>
<rect x="925" y="319" width="17" height="3" fill="#f8d3f9"/>
<rect x="925" y="321" width="17" height="2" fill="#f8d3f9"/>
<rect x="925" y="322" width="17" height="3" fill="#f8d3f9"/>
<rect x="925" y="324" width="17" height="3" fill="#f8d3f9"/>
<rect x="925" y="326" width="17" height="2" fill="#f8d3f9"/>
<rect x="925" y="327" width="17" height="3" fill="#f8d3f9"/>
<rect x="925" y="329" width="17" height="2" fill="#f8d3f9"/>
<rect x="925" y="330" width="17" height="3" fill="#f8d3f9"/>
<rect x="925" y="332" width="17" height="3" fill="#f8d3f9"/>
<rect x="925" y="334" width="17" height="2" fill="#f8d3f9"/>
<rect x="925" y="335" width="17" height="3" fill="#f8d3f9"/>
<rect x="925" y="337" width="17" height="3" fill="#f8d3f9"/>
<rect x="925" y="339" width="17" height="2" fill="#f8d3f9"/>
<rect x="925" y="340" width="17" height="3" fill="#f8d3f9"/>
<rect x="925" y="342" width="17" height="3" fill="#f8d3f9"/>
<rect x="925" y="344" width="17" height="2" fill="#f8d3f9"/>
<rect x="925" y="345" width="17" height="3" fill="#f8d3f9"/>
<rect x="925" y="347" width="17" height="3" fill="#f8d3f9"/>
<rect x="925" y="349" width="17" height="2" fill="#f8d3f9"/>
<rect x="925" y="350" width="17" height="3" fill="#f8d3f9"/>
<rect x="925" y="352" width="17" height="3" fill="#f8d3f9"/>
<rect x="925" y="354" width="17" height="2" fill="#f8d3f9"/>
<rect x="925" y="355" width="17" height="3" fill="#f8d3f9"/>
<rect x="925" y="357" width="17" height="3" fill="#f8d3f9"/>
<rect x="925" y="359" width="17" height="2" fill="#f8d3f9"/>
<rect x="925" y="360" width="17" height="3" fill="#f8d3f9"/>
<rect x="925" y="362" width="17" height="2" fill="#f8d3f9"/>
<rect x="925" y="363" width="17" height="3" fill="#f8d3f9"/>
<rect x="925" y="365" width="17" height="3" fill="#f8d3f9"/>
<rect x="925" y="367" width="17" height="2" fill="#f8d3f9"/>
<rect x="925" y="368" width="17" height="3" fill="#f8d3f9"/>
<rect x="925" y="370" width="17" height="3" fill="#f8d3f9"/>
<rect x="925" y="372" width="17" height="2" fill="#f8d3f9"/>
<rect x="925" y="373" width="17" height="3" fill="#f8d3f9"/>
<rect x="925" y="375" width="17" height="3" fill="#f8d3f9"/>
<rect x="925" y="377" width="17" height="2" fill="#f8d3f9"/>
<rect x="925" y="378" width="17" height="3" fill="#f8d3f9"/>
<rect x="925" y="380" width="17" height="3" fill="#f8d3f9"/>
<rect x="925" y="382" width="17" height="2" fill="#f8d3f9"/>
<rect x="925" y="383" width="17" height="3" fill="#f8d3f9"/>
<rect x="925" y="385" width="17" height="3" fill="#f8d3f9"/>
<rect x="925" y="387" width="17" height="2" fill="#f8d3f9"/>
<rect x="925" y="388" width="17" height="3" fill="#f8d3f9"/>
<rect x="925" y="390" width="17" height="3" fill="#f8d3f9"/>
<rect x="925" y="392" width="17" height="2" fill="#f8d3f9"/>
<rect x="925" y="393" width="17" height="3" fill="#f8d3f9"/>
<rect x="925" y="395" width="17" height="2" fill="#f8d3f9"/>
<rect x="925" y="396" width="17" height="3" fill="#f8d3f9"/>
<rect x="925" y="398" width="17" height="3" fill="#f8d3f9"/>
<rect x="925" y="400" width="17" height="2" fill="#f8d3f9"/>
<rect x="925" y="401" width="17" height="3" fill="#f8d3f9"/>
<rect x="925" y="403" width="17" height="3" fill="#f8d3f9"/>
<rect x="925" y="405" width="17" height="2" fill="#f8d3f9"/>
<rect x="925" y="406" width="17" height="3" fill="#f8d3f9"/>
<rect x="925" y="408" width="17" height="3" fill="#f8d3f9"/>
<rect x="925" y="410" width="17" height="2" fill="#f8d3f9"/>
<rect x="925" y="411" width="17" height="3" fill="#f8d3f9"/>
<rect x="925" y="413" width="17" height="3" fill="#f8d3f9"/>
<rect x="925" y="415" width="17" height="2" fill="#f8d3f9"/>
<rect x="925" y="416" width="17" height="3" fill="#f8d3f9"/>
<rect x="925" y="418" width="17" height="3" fill="#f8d3f9"/>
<rect x="925" y="420" width="17" height="2" fill="#f8d3f9"/>
<rect x="925" y="421" width="17" height="3" fill="#f8d3f9"/>
<rect x="925" y="423" width="17" height="3" fill="#f8d3f9"/>
<rect x="925" y="425" width="17" height="2" fill="#f8d3f9"/>
<rect x="925" y="426" width="17" height="3" fill="#f8d3f9"/>
<rect x="925" y="428" width="17" height="3" fill="#f8d3f9"/>
<rect x="925" y="430" width="17" height="2" fill="#f8d3f9"/>
<rect x="925" y="431" width="17" height="3" fill="#f8d3f9"/>
<rect x="925" y="433" width="17" height="2" fill="#f8d3f9"/>
<rect x="925" y="434" width="17" height="3" fill="#f8d3f9"/>
<rect x="925" y="436" width="17" height="3" fill="#f8d3f9"/>
<rect x="925" y="438" width="17" height="2" fill="#f8d3f9"/>
<rect x="925" y="439" width="17" height="3" fill="#f8d3f9"/>
<rect x="925" y="441" width="17" height="3" fill="#f8d3f9"/>
<rect x="925" y="443" width="17" height="2" fill="#f8d3f9"/>
<rect x="925" y="444" width="17" height="3" fill="#f8d3f9"/>
<rect x="925" y="446" width="17" height="3" fill="#f8d3f9"/>
<rect x="925" y="448" width="17" height="2" fill="#f8d3f9"/>
<rect x="925" y="449" width="17" height="3" fill="#f8d3f9"/>
<rect x="925" y="451" width="17" height="3" fill="#f8d3f9"/>
<rect x="925" y="453" width="17" height="2" fill="#f8d3f9"/>
<rect x="925" y="454" width="17" height="3" fill="#f8d3f9"/>
<rect x="925" y="456" width="17" height="3" fill="#f8d3f9"/>
<rect x="925" y="458" width="17" height="2" fill="#f8d3f9"/>
<rect x="925" y="459" width="17" height="3" fill="#f8d3f9"/>
<rect x="925" y="461" width="17" height="3" fill="#f8d3f9"/>
<rect x="925" y="463" width="17" height="2" fill="#f8d3f9"/>
<rect x="925" y="464" width="17" height="3" fill="#f8d3f9"/>
<rect x="925" y="466" width="17" height="2" fill="#f8d3f9"/>
<rect x="925" y="467" width="17" height="3" fill="#f8d3f9"/>
<rect x="925" y="469" width="17" height="3" fill="#f8d3f9"/>
<rect x="925" y="471" width="17" height="2" fill="#f8d3f9"/>
<rect x="925" y="472" width="17" height="3" fill="#f8d3f9"/>
<rect x="925" y="474" width="17" height="3" fill="#f8d3f9"/>
<rect x="925" y="476" width="17" height="2" fill="#f8d3f9"/>
<rect x="925" y="477" width="17" height="3" fill="#f8d3f9"/>
<rect x="925" y="479" width="17" height="3" fill="#f8d3f9"/>
<rect x="925" y="481" width="17" height="2" fill="#f8d3f9"/>
<rect x="925" y="482" width="17" height="3" fill="#f8d3f9"/>
<rect x="925" y="484" width="17" height="3" fill="#f8d3f9"/>
<rect x="925" y="486" width="17" height="2" fill="#f8d3f9"/>
<rect x="925" y="487" width="17" height="3" fill="#f8d3f9"/>
<rect x="925" y="489" width="17" height="3" fill="#f8d3f9"/>
<rect x="925" y="491" width="17" height="2" fill="#f8d3f9"/>
<rect x="925" y="492" width="17" height="3" fill="#f8d3f9"/>
<rect x="925" y="494" width="17" height="3" fill="#f8d3f9"/>
<rect x="925" y="496" width="17" height="2" fill="#f8d3f9"/>
<rect x="925" y="497" width="17" height="3" fill="#f8d3f9"/>
<rect x="925" y="499" width="17" height="2" fill="#f8d3f9"/>
<rect x="925" y="500" width="17" height="3" fill="#f8d3f9"/>
<rect x="925" y="502" width="17" height="3" fill="#f8d3f9"/>
<rect x="925" y="504" width="17" height="2" fill="#f8d3f9"/>
<rect x="925" y="505" width="17" height="3" fill="#f8d3f9"/>
<rect x="925" y="507" width="17" height="3" fill="#f8d3f9"/>
<rect x="925" y="509" width="17" height="2" fill="#f8d3f9"/>
<rect x="925" y="510" width="17" height="3" fill="#f8d3f9"/>
<rect x="925" y="512" width="17" height="3" fill="#f8d3f9"/>
<rect x="925" y="514" width="17" height="2" fill="#f8d3f9"/>
<rect x="925" y="515" width="17" height="3" fill="#f8d3f9"/>
<rect x="925" y="517" width="17" height="3" fill="#f8d3f9"/>
<rect x="925" y="519" width="17" height="2" fill="#f8d3f9"/>
<rect x="925" y="520" width="17" height="3" fill="#f8d3f9"/>
<rect x="925" y="522" width="17" height="3" fill="#f8d3f9"/>
<rect x="925" y="524" width="17" height="2" fill="#f8d3f9"/>
<rect x="925" y="525" width="17" height="3" fill="#f8d3f9"/>
<rect x="925" y="527" width="17" height="3" fill="#f8d3f9"/>
<rect x="925" y="529" width="17" height="2" fill="#f8d3f9"/>
<rect x="925" y="530" width="17" height="3" fill="#f8d3f9"/>
<rect x="925" y="532" width="17" height="2" fill="#f8d3f9"/>
<rect x="925" y="533" width="17" height="3" fill="#f8d3f9"/>
<rect x="925" y="535" width="17" height="3" fill="#f8d3f9"/>
<rect x="925" y="537" width="17" height="2" fill="#f8d3f9"/>
<rect x="925" y="538" width="17" height="3" fill="#f8d3f9"/>
<rect x="925" y="540" width="17" height="3" fill="#f8d3f9"/>
<rect x="925" y="542" width="17" height="2" fill="#f8d3f9"/>
<rect x="925" y="543" width="17" height="3" fill="#f8d3f9"/>
<rect x="925" y="545" width="17" height="3" fill="#f8d3f9"/>
<rect x="925" y="547" width="17" height="2" fill="#f8d3f9"/>
<rect x="925" y="548" width="17" height="3" fill="#f8d3f9"/>
<rect x="925" y="550" width="17" height="3" fill="#f8d3f9"/>
<rect x="925" y="552" width="17" height="2" fill="#f8d3f9"/>
<rect x="925" y="553" width="17" height="3" fill="#f8d3f9"/>
<rect x="925" y="555" width="17" height="3" fill="#f8d3f9"/>
<rect x="925" y="557" width="17" height="2" fill="#f8d3f9"/>
<rect x="925" y="558" width="17" height="3" fill="#f8d3f9"/>
<rect x="925" y="560" width="17" height="3" fill="#f8d3f9"/>
<rect x="925" y="562" width="17" height="2" fill="#f8d3f9"/>
<rect x="925" y="563" width="17" height="3" fill="#f8d3f9"/>
<rect x="925" y="565" width="17" height="3" fill="#f8d3f9"/>
<rect x="925" y="567" width="17" height="2" fill="#f8d3f9"/>
<rect x="925" y="568" width="17" height="3" fill="#f8d3f9"/>
<rect x="925" y="570" width="17" height="2" fill="#f8d3f9"/>
<rect x="925" y="571" width="17" height="3" fill="#f8d3f9"/>
<rect x="925" y="573" width="17" height="3" fill="#f8d3f9"/>
<rect x="925" y="575" width="17" height="2" fill="#f8d3f9"/>
<rect x="925" y="576" width="17" height="3" fill="#f8d3f9"/>
<rect x="925" y="578" width="17" height="3" fill="#f8d3f9"/>
<rect x="925" y="580" width="17" height="2" fill="#f8d3f9"/>
<rect x="925" y="581" width="17" height="3" fill="#f8d3f9"/>
<rect x="925" y="583" width="17" height="3" fill="#f8d3f9"/>
<rect x="925" y="585" width="17" height="2" fill="#f8d3f9"/>
<rect x="925" y="586" width="17" height="3" fill="#f8d3f9"/>
<rect x="925" y="588" width="17" height="3" fill="#f8d3f9"/>
<rect x="925" y="590" width="17" height="2" fill="#f8d3f9"/>
<rect x="925" y="591" width="17" height="3" fill="#f8d3f9"/>
<rect x="925" y="593" width="17" height="3" fill="#f8d3f9"/>
<rect x="925" y="595" width="17" height="2" fill="#f8d3f9"/>
<rect x="925" y="596" width="17" height="3" fill="#f8d3f9"/>
<rect x="925" y="598" width="17" height="3" fill="#f8d3f9"/>
<rect x="925" y="600" width="17" height="2" fill="#f8d3f9"/>
<rect x="925" y="601" width="17" height="3" fill="#f8d3f9"/>
<rect x="925" y="603" width="17" height="2" fill="#f8d3f9"/>
<rect x="925" y="604" width="17" height="3" fill="#f8d3f9"/>
<rect x="925" y="606" width="17" height="3" fill="#f8d3f9"/>
<rect x="925" y="608" width="17" height="2" fill="#f8d3f9"/>
<rect x="925" y="609" width="17" height="3" fill="#f8d3f9"/>
<rect x="925" y="611" width="17" height="3" fill="#f8d3f9"/>
<rect x="925" y="613" width="17" height="2" fill="#f8d3f9"/>
<rect x="925" y="614" width="17" height="3" fill="#f8d3f9"/>
<rect x="925" y="616" width="17" height="3" fill="#f8d3f9"/>
<rect x="925" y="618" width="17" height="2" fill="#f8d3f9"/>
<rect x="925" y="619" width="17" height="3" fill="#f8d3f9"/>
<rect x="925" y="621" width="17" height="3" fill="#f8d3f9"/>
<rect x="925" y="623" width="17" height="2" fill="#f8d3f9"/>
<rect x="925" y="624" width="17" height="3" fill="#f8d3f9"/>
<rect x="925" y="626" width="17" height="3" fill="#f8d3f9"/>
<rect x="925" y="628" width="17" height="2" fill="#f8d3f9"/>
<rect x="925" y="629" width="17" height="3" fill="#f8d3f9"/>
<rect x="925" y="631" width="17" height="3" fill="#f8d3f9"/>
<rect x="925" y="633" width="17" height="2" fill="#f8d3f9"/>
<rect x="925" y="634" width="17" height="3" fill="#f8d3f9"/>
<rect x="925" y="636" width="17" height="2" fill="#f8d3f9"/>
<rect x="925" y="637" width="17" height="3" fill="#f8d3f9"/>
<rect x="925" y="639" width="17" height="3" fill="#f8d3f9"/>
<rect x="925" y="641" width="17" height="2" fill="#f8d3f9"/>
<rect x="925" y="642" width="17" height="3" fill="#f8d3f9"/>
<rect x="925" y="644" width="17" height="3" fill="#f8d3f9"/>
<rect x="925" y="646" width="17" height="2" fill="#f8d3f9"/>
<rect x="925" y="647" width="17" height="3" fill="#f8d3f9"/>
<rect x="925" y="649" width="17" height="3" fill="#f8d3f9"/>
<rect x="925" y="651" width="17" height="2" fill="#f8d3f9"/>
<rect x="925" y="652" width="17" height="3" fill="#f8d3f9"/>
<rect x="925" y="654" width="17" height="3" fill="#f8d3f9"/>
<rect x="925" y="656" width="17" height="2" fill="#f8d3f9"/>
<rect x="925" y="657" width="17" height="3" fill="#f8d3f9"/>
<rect x="925" y="659" width="17" height="3" fill="#f8d3f9"/>
<rect x="925" y="661" width="17" height="2" fill="#f8d3f9"/>
<rect x="925" y="662" width="17" height="3" fill="#f8d3f9"/>
<rect x="925" y="664" width="17" height="3" fill="#f8d3f9"/>
<rect x="925" y="666" width="17" height="2" fill="#f8d3f9"/>
<rect x="925" y="667" width="17" height="3" fill="#f8d3f9"/>
<rect x="925" y="669" width="17" height="2" fill="#f8d3f9"/>
<rect x="925" y="670" width="17" height="3" fill="#f8d3f9"/>
<rect x="925" y="672" width="17" height="3" fill="#f8d3f9"/>
<rect x="925" y="674" width="17" height="2" fill="#f8d3f9"/>
<rect x="925" y="675" width="17" height="3" fill="#f8d3f9"/>
<rect x="925" y="677" width="17" height="3" fill="#f8d3f9"/>
<rect x="925" y="679" width="17" height="2" fill="#f8d3f9"/>
<rect x="925" y="680" width="17" height="3" fill="#f8d3f9"/>
<rect x="925" y="682" width="17" height="3" fill="#f8d3f9"/>
<rect x="925" y="684" width="17" height="2" fill="#f8d3f9"/>
<rect x="925" y="685" width="17" height="3" fill="#f8d3f9"/>
<rect x="925" y="687" width="17" height="3" fill="#f8d3f9"/>
<rect x="925" y="689" width="17" height="2" fill="#f8d3f9"/>
<rect x="925" y="690" width="17" height="3" fill="#f8d3f9"/>
<rect x="925" y="692" width="17" height="3" fill="#eb80ee"/>
<rect x="925" y="694" width="17" height="2" fill="#f8d3f9"/>
<rect x="925" y="695" width="17" height="3" fill="#f8d3f9"/>
<rect x="925" y="697" width="17" height="3" fill="#f8d3f9"/>
<rect x="925" y="699" width="17" height="2" fill="#f8d3f9"/>
<rect x="925" y="700" width="17" height="3" fill="#f8d3f9"/>
<rect x="925" y="702" width="17" height="3" fill="#f8d3f9"/>
<rect x="925" y="704" width="17" height="2" fill="#f8d3f9"/>
<rect x="925" y="705" width="17" height="3" fill="#f8d3f9"/>
<rect x="925" y="707" width="17" height="2" fill="#f8d3f9"/>
<rect x="925" y="708" width="17" height="3" fill="#f8d3f9"/>
<rect x="925" y="710" width="17" height="3" fill="#f8d3f9"/>
<rect x="925" y="712" width="17" height="2" fill="#f8d3f9"/>
<rect x="925" y="713" width="17" height="3" fill="#f8d3f9"/>
<rect x="925" y="715" width="17" height="3" fill="#f8d3f9"/>
<rect x="925" y="717" width="17" height="2" fill="#f8d3f9"/>
<rect x="925" y="718" width="17" height="3" fill="#f8d3f9"/>
<rect x="925" y="720" width="17" height="3" fill="#f8d3f9"/>
<rect x="925" y="722" width="17" height="2" fill="#f8d3f9"/>
<rect x="925" y="723" width="17" height="3" fill="#f8d3f9"/>
<rect x="925" y="725" width="17" height="3" fill="#f8d3f9"/>
<rect x="925" y="727" width="17" height="2" fill="#f8d3f9"/>
<rect x="925" y="728" width="17" height="3" fill="#f8d3f9"/>
<rect x="925" y="730" width="17" height="3" fill="#f8d3f9"/>
<rect x="925" y="732" width="17" height="2" fill="#f8d3f9"/>
<rect x="925" y="733" width="17" height="3" fill="#f8d3f9"/>
<rect x="925" y="735" width="17" height="3" fill="#f8d3f9"/>
<rect x="925" y="737" width="17" height="2" fill="#f8d3f9"/>
<rect x="925" y="738" width="17" height="3" fill="#f8d3f9"/>
<rect x="925" y="740" width="17" height="2" fill="#f8d3f9"/>
<rect x="925" y="741" width="17" height="3" fill="#f8d3f9"/>
<rect x="925" y="743" width="17" height="3" fill="#f8d3f9"/>
<rect x="925" y="745" width="17" height="2" fill="#f8d3f9"/>
<rect x="925" y="746" width="17" height="3" fill="#f8d3f9"/>
<rect x="925" y="748" width="17" height="3" fill="#f8d3f9"/>
<rect x="925" y="750" width="17" height="2" fill="#f8d3f9"/>
<rect x="925" y="751" width="17" height="3" fill="#f8d3f9"/>
<rect x="925" y="753" width="17" height="3" fill="#f8d3f9"/>
<rect x="925" y="755" width="17" height="2" fill="#f8d3f9"/>
<rect x="925" y="756" width="17" height="3" fill="#f8d3f9"/>
<rect x="925" y="758" width="17" height="3" fill="#f8d3f9"/>
<rect x="925" y="760" width="17" height="2" fill="#f2a9f4"/>
<rect x="925" y="761" width="17" height="3" fill="#f8d3f9"/>
<rect x="925" y="763" width="17" height="3" fill="#f8d3f9"/>
<rect x="925" y="765" width="17" height="2" fill="#f8d3f9"/>
<rect x="925" y="766" width="17" height="3" fill="#f8d3f9"/>
<rect x="925" y="768" width="17" height="3" fill="#f8d3f9"/>
<rect x="925" y="770" width="17" height="2" fill="#f8d3f9"/>
<rect x="925" y="771" width="17" height="3" fill="#f8d3f9"/>
<rect x="925" y="773" width="17" height="2" fill="#f8d3f9"/>
<rect x="925" y="774" width="17" height="3" fill="#f8d3f9"/>
<rect x="925" y="776" width="17" height="3" fill="#f8d3f9"/>
<rect x="925" y="778" width="17" height="2" fill="#f8d3f9"/>
<rect x="925" y="779" width="17" height="3" fill="#f8d3f9"/>
<rect x="925" y="781" width="17" height="3" fill="#f8d3f9"/>
<rect x="925" y="783" width="17" height="2" fill="#f8d3f9"/>
<rect x="925" y="784" width="17" height="3" fill="#f8d3f9"/>
<rect x="925" y="786" width="17" height="3" fill="#f8d3f9"/>
<rect x="925" y="788" width="17" height="2" fill="#f8d3f9"/>
<rect x="925" y="789" width="17" height="3" fill="#f8d3f9"/>
<rect x="925" y="791" width="17" height="3" fill="#f8d3f9"/>
<rect x="925" y="793" width="17" height="2" fill="#f8d3f9"/>
<rect x="925" y="794" width="17" height="3" fill="#f8d3f9"/>
<rect x="925" y="796" width="17" height="3" fill="#f8d3f9"/>
<rect x="925" y="798" width="17" height="2" fill="#f8d3f9"/>
<rect x="925" y="799" width="17" height="3" fill="#f8d3f9"/>
<rect x="925" y="801" width="17" height="3" fill="#f8d3f9"/>
<rect x="925" y="803" width="17" height="2" fill="#f8d3f9"/>
<rect x="925" y="804" width="17" height="3" fill="#f8d3f9"/>
<rect x="925" y="806" width="17" height="2" fill="#f8d3f9"/>
<rect x="925" y="807" width="17" height="3" fill="#f8d3f9"/>
<rect x="925" y="809" width="17" height="3" fill="#f8d3f9"/>
<rect x="925" y="811" width="17" height="2" fill="#f8d3f9"/>
<rect x="925" y="812" width="17" height="3" fill="#f8d3f9"/>
<rect x="925" y="814" width="17" height="3" fill="#f8d3f9"/>
<rect x="925" y="816" width="17" height="2" fill="#f8d3f9"/>
<rect x="925" y="817" width="17" height="3" fill="#f8d3f9"/>
<rect x="925" y="819" width="17" height="3" fill="#f8d3f9"/>
<rect x="925" y="821" width="17" height="2" fill="#f8d3f9"/>
<rect x="925" y="822" width="17" height="3" fill="#f8d3f9"/>
<rect x="925" y="824" width="17" height="3" fill="#f8d3f9"/>
<rect x="925" y="826" width="17" height="2" fill="#f8d3f9"/>
<rect x="925" y="827" width="17" height="3" fill="#f8d3f9"/>
<rect x="925" y="829" width="17" height="3" fill="#f8d3f9"/>
<rect x="925" y="831" width="17" height="2" fill="#f8d3f9"/>
<rect x="925" y="832" width="17" height="3" fill="#f8d3f9"/>
<rect x="925" y="834" width="17" height="3" fill="#f8d3f9"/>
<rect x="925" y="836" width="17" height="2" fill="#f8d3f9"/>
<rect x="925" y="837" width="17" height="3" fill="#f8d3f9"/>
<rect x="925" y="839" width="17" height="3" fill="#f8d3f9"/>
<rect x="925" y="841" width="17" height="2" fill="#f8d3f9"/>
<rect x="925" y="842" width="17" height="3" fill="#f8d3f9"/>
<rect x="925" y="844" width="17" height="2" fill="#f7caf8"/>
<rect x="925" y="845" width="17" height="3" fill="#f8d3f9"/>
<rect x="925" y="847" width="17" height="3" fill="#f8d3f9"/>
<rect x="925" y="849" width="17" height="2" fill="#f8d3f9"/>
<rect x="925" y="850" width="17" height="3" fill="#f8d3f9"/>
<rect x="925" y="852" width="17" height="3" fill="#f8d3f9"/>
<rect x="925" y="854" width="17" height="2" fill="#fdf3fd"/>
<rect x="925" y="855" width="17" height="3" fill="#f8d3f9"/>
<rect x="925" y="857" width="17" height="3" fill="#f8d3f9"/>
<rect x="925" y="859" width="17" height="2" fill="#f8d3f9"/>
<rect x="925" y="860" width="17" height="3" fill="#f8d3f9"/>
<rect x="925" y="862" width="17" height="3" fill="#f8d3f9"/>
<rect x="925" y="864" width="17" height="2" fill="#f8d3f9"/>
<rect x="925" y="865" width="17" height="3" fill="#f8d3f9"/>
<rect x="925" y="867" width="17" height="3" fill="#f8d3f9"/>
<rect x="925" y="869" width="17" height="2" fill="#f8d3f9"/>
<rect x="925" y="870" width="17" height="3" fill="#f8d3f9"/>
<rect x="925" y="872" width="17" height="3" fill="#f8d3f9"/>
<rect x="925" y="874" width="17" height="2" fill="#f8d3f9"/>
<rect x="925" y="875" width="17" height="3" fill="#f8d3f9"/>
<rect x="925" y="877" width="17" height="2" fill="#f8d3f9"/>
<rect x="925" y="878" width="17" height="3" fill="#f8d3f9"/>
<rect x="925" y="880" width="17" height="3" fill="#f8d3f9"/>
<rect x="925" y="882" width="17" height="2" fill="#f8d3f9"/>
<rect x="925" y="883" width="17" height="3" fill="#f8d3f9"/>
<rect x="925" y="885" width="17" height="3" fill="#f8d3f9"/>
<rect x="925" y="887" width="17" height="2" fill="#f8d3f9"/>
<rect x="925" y="888" width="17" height="3" fill="#f8d3f9"/>
<rect x="925" y="890" width="17" height="3" fill="#f8d3f9"/>
<rect x="925" y="892" width="17" height="2" fill="#f8d3f9"/>
<rect x="925" y="893" width="17" height="3" fill="#f8d3f9"/>
<rect x="925" y="895" width="17" height="3" fill="#f8d3f9"/>
<rect x="925" y="897" width="17" height="2" fill="#f8d3f9"/>
<rect x="925" y="898" width="17" height="3" fill="#f8d3f9"/>
<rect x="925" y="900" width="17" height="3" fill="#f8d3f9"/>
<rect x="925" y="902" width="17" height="2" fill="#f8d3f9"/>
<rect x="925" y="903" width="17" height="3" fill="#f8d3f9"/>
<rect x="925" y="905" width="17" height="3" fill="#f8d3f9"/>
<rect x="925" y="907" width="17" height="2" fill="#f8d3f9"/>
<rect x="925" y="908" width="17" height="3" fill="#f8d3f9"/>
<rect x="925" y="910" width="17" height="2" fill="#f8d3f9"/>
<rect x="925" y="911" width="17" height="3" fill="#f8d3f9"/>
<rect x="925" y="913" width="17" height="3" fill="#f8d3f9"/>
<rect x="925" y="915" width="17" height="2" fill="#f8d3f9"/>
<rect x="925" y="916" width="17" height="3" fill="#f8d3f9"/>
<rect x="925" y="918" width="17" height="3" fill="#f8d3f9"/>
<rect x="925" y="920" width="17" height="2" fill="#f8d3f9"/>
<rect x="925" y="921" width="17" height="3" fill="#f8d3f9"/>
<rect x="925" y="923" width="17" height="3" fill="#f8d3f9"/>
<rect x="925" y="925" width="17" height="2" fill="#f8d3f9"/>
<rect x="925" y="926" width="17" height="3" fill="#f8d3f9"/>
<rect x="925" y="928" width="17" height="3" fill="#f8d3f9"/>
<rect x="925" y="930" width="17" height="2" fill="#f8d3f9"/>
<rect x="925" y="931" width="17" height="3" fill="#f8d3f9"/>
<rect x="925" y="933" width="17" height="3" fill="#f8d3f9"/>
<rect x="925" y="935" width="17" height="2" fill="#f8d3f9"/>
<rect x="925" y="936" width="17" height="3" fill="#f8d3f9"/>
<rect x="925" y="938" width="17" height="3" fill="#f8d3f9"/>
<rect x="925" y="940" width="17" height="2" fill="#f8d3f9"/>
<rect x="925" y="941" width="17" height="3" fill="#f8d3f9"/>
<rect x="925" y="943" width="17" height="2" fill="#f8d3f9"/>
</g>
<g fill-opacity="0.9">
<rect x="1012" y="130" width="18" height="2" fill="#fdf3fd"/>
<rect x="1012" y="134" width="18" height="3" fill="#fdf3fd"/>
<rect x="1012" y="139" width="18" height="3" fill="#fdf3fd"/>
<rect x="1012" y="144" width="18" height="3" fill="#fdf3fd"/>
<rect x="1012" y="149" width="18" height="3" fill="#fdf3fd"/>
<rect x="1012" y="154" width="18" height="3" fill="#fdf3fd"/>
<rect x="1012" y="159" width="18" height="2" fill="#fdf3fd"/>
<rect x="1012" y="164" width="18" height="2" fill="#fdf3fd"/>
<rect x="1012" y="169" width="18" height="2" fill="#fdf3fd"/>
<rect x="1012" y="174" width="18" height="2" fill="#fdf3fd"/>
<rect x="1012" y="179" width="18" height="2" fill="#fdf3fd"/>
<rect x="1012" y="184" width="18" height="2" fill="#fdf3fd"/>
<rect x="1012" y="189" width="18" height="2" fill="#fdf3fd"/>
<rect x="1012" y="193" width="18" height="3" fill="#fdf3fd"/>
<rect x="1012" y="198" width="18" height="3" fill="#fceafc"/>
<rect x="1012" y="203" width="18" height="3" fill="#fdf3fd"/>
<rect x="1012" y="208" width="18" height="3" fill="#fdf3fd"/>
<rect x="1012" y="213" width="18" height="3" fill="#fdf3fd"/>
<rect x="1012" y="218" width="18" height="3" fill="#fdf3fd"/>
<rect x="1012" y="223" width="18" height="3" fill="#fdf3fd"/>
<rect x="1012" y="228" width="18" height="3" fill="#fdf3fd"/>
<rect x="1012" y="233" width="18" height="3" fill="#fdf3fd"/>
<rect x="1012" y="238" width="18" height="3" fill="#fdf3fd"/>
<rect x="1012" y="243" width="18" height="3" fill="#fdf3fd"/>
<rect x="1012" y="248" width="18" height="3" fill="#fdf3fd"/>
<rect x="1012" y="253" width="18" height="3" fill="#fdf3fd"/>
<rect x="1012" y="258" width="18" height="2" fill="#fdf3fd"/>
<rect x="1012" y="263" width="18" height="2" fill="#fdf3fd"/>
<rect x="1012" y="268" width="18" height="2" fill="#fdf3fd"/>
<rect x="1012" y="273" width="18" height="2" fill="#fdf3fd"/>
<rect x="1012" y="278" width="18" height="2" fill="#fdf3fd"/>
<rect x="1012" y="283" width="18" height="2" fill="#fdf3fd"/>
<rect x="1012" y="288" width="18" height="2" fill="#fdf3fd"/>
<rect x="1012" y="293" width="18" height="2" fill="#fdf3fd"/>
<rect x="1012" y="297" width="18" height="3" fill="#fdf3fd"/>
<rect x="1012" y="302" width="18" height="3" fill="#fdf3fd"/>
<rect x="1012" y="307" width="18" height="3" fill="#fdf3fd"/>
<rect x="1012" y="312" width="18" height="3" fill="#fdf3fd"/>
<rect x="1012" y="317" width="18" height="3" fill="#fdf3fd"/>
<rect x="1012" y="322" width="18" height="3" fill="#fdf3fd"/>
<rect x="1012" y="327" width="18" height="3" fill="#fdf3fd"/>
<rect x="1012" y="332" width="18" height="3" fill="#fdf3fd"/>
<rect x="1012" y="337" width="18" height="3" fill="#fdf3fd"/>
<rect x="1012" y="342" width="18" height="3" fill="#fdf3fd"/>
<rect x="1012" y="347" width="18" height="3" fill="#fdf3fd"/>
<rect x="1012" y="352" width="18" height="3" fill="#fdf3fd"/>
<rect x="1012" y="357" width="18" height="3" fill="#fdf3fd"/>
<rect x="1012" y="362" width="18" height="2" fill="#fdf3fd"/>
<rect x="1012" y="367" width="18" height="2" fill="#fdf3fd"/>
<rect x="1012" y="372" width="18" height="2" fill="#fdf3fd"/>
<rect x="1012" y="377" width="18" height="2" fill="#fdf3fd"/>
<rect x="1012" y="382" width="18" height="2" fill="#fdf3fd"/>
<rect x="1012" y="387" width="18" height="2" fill="#fdf3fd"/>
<rect x="1012" y="392" width="18" height="2" fill="#fdf3fd"/>
<rect x="1012" y="396" width="18" height="3" fill="#fdf3fd"/>
<rect x="1012" y="401" width="18" height="3" fill="#fdf3fd"/>
<rect x="1012" y="406" width="18" height="3" fill="#fdf3fd"/>
<rect x="1012" y="411" width="18" height="3" fill="#fdf3fd"/>
<rect x="1012" y="416" width="18" height="3" fill="#fdf3fd"/>
<rect x="1012" y="421" width="18" height="3" fill="#fdf3fd"/>
<rect x="1012" y="426" width="18" height="3" fill="#fdf3fd"/>
<rect x="1012" y="431" width="18" height="3" fill="#fdf3fd"/>
<rect x="1012" y="436" width="18" height="3" fill="#fceafc"/>
<rect x="1012" y="441" width="18" height="3" fill="#fdf3fd"/>
<rect x="1012" y="446" width="18" height="3" fill="#fdf3fd"/>
<rect x="1012" y="451" width="18" height="3" fill="#fdf3fd"/>
<rect x="1012" y="456" width="18" height="3" fill="#fdf3fd"/>
<rect x="1012" y="461" width="18" height="3" fill="#fdf3fd"/>
<rect x="1012" y="466" width="18" height="2" fill="#fdf3fd"/>
<rect x="1012" y="471" width="18" height="2" fill="#fdf3fd"/>
<rect x="1012" y="476" width="18" height="2" fill="#fdf3fd"/>
<rect x="1012" y="481" width="18" height="2" fill="#fdf3fd"/>
<rect x="1012" y="486" width="18" height="2" fill="#fdf3fd"/>
<rect x="1012" y="491" width="18" height="2" fill="#fdf3fd"/>
<rect x="1012" y="496" width="18" height="2" fill="#fdf3fd"/>
<rect x="1012" y="500" width="18" height="3" fill="#fdf3fd"/>
<rect x="1012" y="505" width="18" height="3" fill="#fdf3fd"/>
<rect x="1012" y="510" width="18" height="3" fill="#fdf3fd"/>
<rect x="1012" y="515" width="18" height="3" fill="#fdf3fd"/>
<rect x="1012" y="520" width="18" height="3" fill="#fdf3fd"/>
<rect x="1012" y="525" width="18" height="3" fill="#fceafc"/>
<rect x="1012" y="530" width="18" height="3" fill="#fdf3fd"/>
<rect x="1012" y="535" width="18" height="3" fill="#fdf3fd"/>
<rect x="1012" y="540" width="18" height="3" fill="#fdf3fd"/>
<rect x="1012" y="545" width="18" height="3" fill="#fdf3fd"/>
<rect x="1012" y="550" width="18" height="3" fill="#fdf3fd"/>
<rect x="1012" y="555" width="18" height="3" fill="#fdf3fd"/>
<rect x="1012" y="560" width="18" height="3" fill="#fdf3fd"/>
<rect x="1012" y="565" width="18" height="3" fill="#fdf3fd"/>
<rect x="1012" y="570" width="18" height="2" fill="#fdf3fd"/>
<rect x="1012" y="575" width="18" height="2" fill="#fdf3fd"/>
<rect x="1012" y="580" width="18" height="2" fill="#fdf3fd"/>
<rect x="1012" y="585" width="18" height="2" fill="#fdf3fd"/>
<rect x="1012" y="590" width="18" height="2" fill="#fdf3fd"/>
<rect x="1012" y="595" width="18" height="2" fill="#fdf3fd"/>
<rect x="1012" y="600" width="18" height="2" fill="#fdf3fd"/>
<rect x="1012" y="604" width="18" height="3" fill="#fdf3fd"/>
<rect x="1012" y="609" width="18" height="3" fill="#fdf3fd"/>
<rect x="1012" y="614" width="18" height="3" fill="#fdf3fd"/>
<rect x="1012" y="619" width="18" height="3" fill="#fdf3fd"/>
<rect x="1012" y="624" width="18" height="3" fill="#fdf3fd"/>
<rect x="1012" y="629" width="18" height="3" fill="#fdf3fd"/>
<rect x="1012" y="634" width="18" height="3" fill="#fdf3fd"/>
<rect x="1012" y="639" width="18" height="3" fill="#fdf3fd"/>
<rect x="1012" y="644" width="18" height="3" fill="#fdf3fd"/>
<rect x="1012" y="649" width="18" height="3" fill="#fdf3fd"/>
<rect x="1012" y="654" width="18" height="3" fill="#fdf3fd"/>
<rect x="1012" y="659" width="18" height="3" fill="#fdf3fd"/>
<rect x="1012" y="664" width="18" height="3" fill="#fdf3fd"/>
<rect x="1012" y="669" width="18" height="2" fill="#fdf3fd"/>
<rect x="1012" y="674" width="18" height="2" fill="#fceafc"/>
<rect x="1012" y="679" width="18" height="2" fill="#fdf3fd"/>
<rect x="1012" y="684" width="18" height="2" fill="#fdf3fd"/>
<rect x="1012" y="689" width="18" height="2" fill="#fdf3fd"/>
<rect x="1012" y="694" width="18" height="2" fill="#fdf3fd"/>
<rect x="1012" y="699" width="18" height="2" fill="#fdf3fd"/>
<rect x="1012" y="704" width="18" height="2" fill="#fdf3fd"/>
<rect x="1012" y="708" width="18" height="3" fill="#fdf3fd"/>
<rect x="1012" y="713" width="18" height="3" fill="#fdf3fd"/>
<rect x="1012" y="718" width="18" height="3" fill="#fdf3fd"/>
<rect x="1012" y="723" width="18" height="3" fill="#fdf3fd"/>
<rect x="1012" y="728" width="18" height="3" fill="#fdf3fd"/>
<rect x="1012" y="733" width="18" height="3" fill="#fdf3fd"/>
<rect x="1012" y="738" width="18" height="3" fill="#fdf3fd"/>
<rect x="1012" y="743" width="18" height="3" fill="#fdf3fd"/>
<rect x="1012" y="748" width="18" height="3" fill="#fdf3fd"/>
<rect x="1012" y="753" width="18" height="3" fill="#fdf3fd"/>
<rect x="1012" y="758" width="18" height="3" fill="#fdf3fd"/>
<rect x="1012" y="763" width="18" height="3" fill="#fceafc"/>
<rect x="1012" y="768" width="18" height="3" fill="#fdf3fd"/>
<rect x="1012" y="773" width="18" height="2" fill="#fdf3fd"/>
<rect x="1012" y="778" width="18" height="2" fill="#fdf3fd"/>
<rect x="1012" y="783" width="18" height="2" fill="#fdf3fd"/>
<rect x="1012" y="788" width="18" height="2" fill="#fdf3fd"/>
<rect x="1012" y="793" width="18" height="2" fill="#fdf3fd"/>
<rect x="1012" y="798" width="18" height="2" fill="#fdf3fd"/>
<rect x="1012" y="803" width="18" height="2" fill="#fdf3fd"/>
<rect x="1012" y="807" width="18" height="3" fill="#fdf3fd"/>
<rect x="1012" y="812" width="18" height="3" fill="#fdf3fd"/>
<rect x="1012" y="817" width="18" height="3" fill="#fdf3fd"/>
<rect x="1012" y="822" width="18" height="3" fill="#fdf3fd"/>
<rect x="1012" y="827" width="18" height="3" fill="#fdf3fd"/>
<rect x="1012" y="832" width="18" height="3" fill="#fdf3fd"/>
<rect x="1012" y="837" width="18" height="3" fill="#fdf3fd"/>
<rect x="1012" y="842" width="18" height="3" fill="#fdf3fd"/>
<rect x="1012" y="847" width="18" height="3" fill="#fdf3fd"/>
<rect x="1012" y="852" width="18" height="3" fill="#fdf3fd"/>
<rect x="1012" y="857" width="18" height="3" fill="#fdf3fd"/>
<rect x="1012" y="862" width="18" height="3" fill="#fdf3fd"/>
<rect x="1012" y="867" width="18" height="3" fill="#fdf3fd"/>
<rect x="1012" y="872" width="18" height="3" fill="#fdf3fd"/>
<rect x="1012" y="877" width="18" height="2" fill="#fdf3fd"/>
<rect x="1012" y="882" width="18" height="2" fill="#fdf3fd"/>
<rect x="1012" y="887" width="18" height="2" fill="#fdf3fd"/>
<rect x="1012" y="892" width="18" height="2" fill="#fdf3fd"/>
<rect x="1012" y="897" width="18" height="2" fill="#fdf3fd"/>
<rect x="1012" y="902" width="18" height="2" fill="#fdf3fd"/>
<rect x="1012" y="907" width="18" height="2" fill="#fdf3fd"/>
<rect x="1012" y="911" width="18" height="3" fill="#fceafc"/>
<rect x="1012" y="916" width="18" height="3" fill="#fdf3fd"/>
<rect x="1012" y="921" width="18" height="3" fill="#fdf3fd"/>
<rect x="1012" y="926" width="18" height="3" fill="#fdf3fd"/>
<rect x="1012" y="931" width="18" height="3" fill="#fdf3fd"/>
<rect x="1012" y="936" width="18" height="3" fill="#fdf3fd"/>
<rect x="1012" y="941" width="18" height="3" fill="#fdf3fd"/>
</g>
</g>
<path d="M222 130.5h4M222 142.5h4M222 154.5h4M222 165.5h4M222 177.5h4M222 188.5h4M222 200.5h4M222 211.5h4M222 223.5h4M222 234.5h4M222 246.5h4M222 258.5h4M222 269.5h4M222 281.5h4M222 292.5h4M222 304.5h4M222 315.5h4M222 327.5h4M222 338.5h4M222 350.5h4M222 362.5h4M222 373.5h4M222 385.5h4M222 396.5h4M222 408.5h4M222 419.5h4M222 431.5h4M222 442.5h4M222 454.5h4M222 465.5h4M222 477.5h4M222 489.5h4M222 500.5h4M222 512.5h4M222 523.5h4M222 535.5h4M222 546.5h4M222 558.5h4M222 569.5h4M222 581.5h4M222 593.5h4M222 604.5h4M222 616.5h4M222 627.5h4M222 639.5h4M222 650.5h4M222 662.5h4M222 673.5h4M222 685.5h4M222 697.5h4M222 708.5h4M222 720.5h4M222 731.5h4M222 743.5h4M222 754.5h4M222 766.5h4M222 777.5h4M222 789.5h4M222 801.5h4M222 812.5h4M222 824.5h4M222 835.5h4M222 847.5h4M222 858.5h4M222 870.5h4M222 881.5h4M222 893.5h4M222 905.5h4M222 916.5h4M222 928.5h4M222 939.5h4M234.5 945v4.5M251.5 945v4.5M269.5 945v4.5M286.5 945v4.5M304.5 945v4.5M321.5 945v4.5M339.5 945v4.5M356.5 945v4.5M374.5 945v4.5M391.5 945v4.5M409.5 945v4.5M426.5 945v4.5M444.5 945v4.5M461.5 945v4.5M479.5 945v4.5M496.5 945v4.5M514.5 945v4.5M531.5 945v4.5M549.5 945v4.5M566.5 945v4.5M584.5 945v4.5M601.5 945v4.5M619.5 945v4.5M636.5 945v4.5M654.5 945v4.5M671.5 945v4.5M689.5 945v4.5M706.5 945v4.5M724.5 945v4.5M741.5 945v4.5M759.5 945v4.5M776.5 945v4.5M794.5 945v4.5M811.5 945v4.5M829.5 945v4.5M846.5 945v4.5M864.5 945v4.5M881.5 945v4.5M899.5 945v4.5M916.5 945v4.5M934.5 945v4.5M951.5 945v4.5M969.5 945v4.5M987.5 945v4.5M1004.5 945v4.5M1022.5 945v4.5M1039.5 945v4.5M1057.5 945v4.5M1074.5 945v4.5M1092.5 945v4.5M1109.5 945v4.5" fill="none" stroke="#000" stroke-width="0.8"/>
<text x="218" y="134" font-size="10" text-anchor="end" letter-spacing="-0.08">2017-12-09 00:00:00</text>
<text x="218" y="146" font-size="10" text-anchor="end" letter-spacing="-0.08">2017-12-09 01:10:00</text>
<text x="218" y="158" font-size="10" text-anchor="end" letter-spacing="-0.08">2017-12-09 02:20:00</text>
<text x="218" y="169" font-size="10" text-anchor="end" letter-spacing="-0.08">2017-12-09 03:30:00</text>
<text x="218" y="181" font-size="10" text-anchor="end" letter-spacing="-0.08">2017-12-09 04:40:00</text>
<text x="218" y="192" font-size="10" text-anchor="end" letter-spacing="-0.08">2017-12-09 05:50:00</text>
<text x="218" y="204" font-size="10" text-anchor="end" letter-spacing="-0.08">2017-12-09 07:00:00</text>
<text x="218" y="215" font-size="10" text-anchor="end" letter-spacing="-0.08">2017-12-09 08:10:00</text>
<text x="218" y="227" font-size="10" text-anchor="end" letter-spacing="-0.08">2017-12-09 09:20:00</text>
<text x="218" y="238" font-size="10" text-anchor="end" letter-spacing="-0.08">2017-12-09 10:30:00</text>
<text x="218" y="250" font-size="10" text-anchor="end" letter-spacing="-0.08">2017-12-09 11:40:00</text>
<text x="218" y="262" font-size="10" text-anchor="end" letter-spacing="-0.08">2017-12-09 12:50:00</text>
<text x="218" y="273" font-size="10" text-anchor="end" letter-spacing="-0.08">2017-12-09 14:00:00</text>
<text x="218" y="285" font-size="10" text-anchor="end" letter-spacing="-0.08">2017-12-09 15:10:00</text>
<text x="218" y="296" font-size="10" text-anchor="end" letter-spacing="-0.08">2017-12-09 16:20:00</text>
<text x="218" y="308" font-size="10" text-anchor="end" letter-spacing="-0.08">2017-12-09 17:30:00</text>
<text x="218" y="319" font-size="10" text-anchor="end" letter-spacing="-0.08">2017-12-09 18:40:00</text>
<text x="218" y="331" font-size="10" text-anchor="end" letter-spacing="-0.08">2017-12-09 19:50:00</text>
<text x="218" y="342" font-size="10" text-anchor="end" letter-spacing="-0.08">2017-12-09 21:00:00</text>
<text x="218" y="354" font-size="10" text-anchor="end" letter-spacing="-0.08">2017-12-09 22:10:00</text>
<text x="218" y="366" font-size="10" text-anchor="end" letter-spacing="-0.08">2017-12-09 23:20:00</text>
<text x="218" y="377" font-size="10" text-anchor="end" letter-spacing="-0.08">2017-12-10 00:30:00</text>
<text x="218" y="389" font-size="10" text-anchor="end" letter-spacing="-0.08">2017-12-10 01:40:00</text>
<text x="218" y="400" font-size="10" text-anchor="end" letter-spacing="-0.08">2017-12-10 02:50:00</text>
<text x="218" y="412" font-size="10" text-anchor="end" letter-spacing="-0.08">2017-12-10 04:00:00</text>
<text x="218" y="423" font-size="10" text-anchor="end" letter-spacing="-0.08">2017-12-10 05:10:00</text>
<text x="218" y="435" font-size="10" text-anchor="end" letter-spacing="-0.08">2017-12-10 06:20:00</text>
<text x="218" y="446" font-size="10" text-anchor="end" letter-spacing="-0.08">2017-12-10 07:30:00</text>
<text x="218" y="458" font-size="10" text-anchor="end" letter-spacing="-0.08">2017-12-10 08:40:00</text>
<text x="218" y="469" font-size="10" text-anchor="end" letter-spacing="-0.08">2017-12-10 09:50:00</text>
<text x="218" y="481" font-size="10" text-anchor="end" letter-spacing="-0.08">2017-12-10 11:00:00</text>
<text x="218" y="493" font-size="10" text-anchor="end" letter-spacing="-0.08">2017-12-10 12:10:00</text>
<text x="218" y="504" font-size="10" text-anchor="end" letter-spacing="-0.08">2017-12-10 13:20:00</text>
<text x="218" y="516" font-size="10" text-anchor="end" letter-spacing="-0.08">2017-12-10 14:30:00</text>
<text x="218" y="527" font-size="10" text-anchor="end" letter-spacing="-0.08">2017-12-10 15:40:00</text>
<text x="218" y="539" font-size="10" text-anchor="end" letter-spacing="-0.08">2017-12-10 16:50:00</text>
<text x="218" y="550" font-size="10" text-anchor="end" letter-spacing="-0.08">2017-12-10 18:00:00</text>
<text x="218" y="562" font-size="10" text-anchor="end" letter-spacing="-0.08">2017-12-10 19:10:00</text>
<text x="218" y="573" font-size="10" text-anchor="end" letter-spacing="-0.08">2017-12-10 20:20:00</text>
<text x="218" y="585" font-size="10" text-anchor="end" letter-spacing="-0.08">2017-12-10 21:30:00</text>
<text x="218" y="597" font-size="10" text-anchor="end" letter-spacing="-0.08">2017-12-10 22:40:00</text>
<text x="218" y="608" font-size="10" text-anchor="end" letter-spacing="-0.08">2017-12-10 23:50:00</text>
<text x="218" y="620" font-size="10" text-anchor="end" letter-spacing="-0.08">2017-12-11 01:00:00</text>
<text x="218" y="631" font-size="10" text-anchor="end" letter-spacing="-0.08">2017-12-11 02:10:00</text>
<text x="218" y="643" font-size="10" text-anchor="end" letter-spacing="-0.08">2017-12-11 03:20:00</text>
<text x="218" y="654" font-size="10" text-anchor="end" letter-spacing="-0.08">2017-12-11 04:30:00</text>
<text x="218" y="666" font-size="10" text-anchor="end" letter-spacing="-0.08">2017-12-11 05:40:00</text>
<text x="218" y="677" font-size="10" text-anchor="end" letter-spacing="-0.08">2017-12-11 06:50:00</text>
<text x="218" y="689" font-size="10" text-anchor="end" letter-spacing="-0.08">2017-12-11 08:00:00</text>
<text x="218" y="701" font-size="10" text-anchor="end" letter-spacing="-0.08">2017-12-11 09:10:00</text>
<text x="218" y="712" font-size="10" text-anchor="end" letter-spacing="-0.08">2017-12-11 10:20:00</text>
<text x="218" y="724" font-size="10" text-anchor="end" letter-spacing="-0.08">2017-12-11 11:30:00</text>
<text x="218" y="735" font-size="10" text-anchor="end" letter-spacing="-0.08">2017-12-11 12:40:00</text>
<text x="218" y="747" font-size="10" text-anchor="end" letter-spacing="-0.08">2017-12-11 13:50:00</text>
<text x="218" y="758" font-size="10" text-anchor="end" letter-spacing="-0.08">2017-12-11 15:00:00</text>
<text x="218" y="770" font-size="10" text-anchor="end" letter-spacing="-0.08">2017-12-11 16:10:00</text>
<text x="218" y="781" font-size="10" text-anchor="end" letter-spacing="-0.08">2017-12-11 17:20:00</text>
<text x="218" y="793" font-size="10" text-anchor="end" letter-spacing="-0.08">2017-12-11 18:30:00</text>
<text x="218" y="805" font-size="10" text-anchor="end" letter-spacing="-0.08">2017-12-11 19:40:00</text>
<text x="218" y="816" font-size="10" text-anchor="end" letter-spacing="-0.08">2017-12-11 20:50:00</text>
<text x="218" y="828" font-size="10" text-anchor="end" letter-spacing="-0.08">2017-12-11 22:00:00</text>
<text x="218" y="839" font-size="10" text-anchor="end" letter-spacing="-0.08">2017-12-11 23:10:00</text>
<text x="218" y="851" font-size="10" text-anchor="end" letter-spacing="-0.08">2017-12-12 00:20:00</text>
<text x="218" y="862" font-size="10" text-anchor="end" letter-spacing="-0.08">2017-12-12 01:30:00</text>
<text x="218" y="874" font-size="10" text-anchor="end" letter-spacing="-0.08">2017-12-12 02:40:00</text>
<text x="218" y="885" font-size="10" text-anchor="end" letter-spacing="-0.08">2017-12-12 03:50:00</text>
<text x="218" y="897" font-size="10" text-anchor="end" letter-spacing="-0.08">2017-12-12 05:00:00</text>
<text x="218" y="909" font-size="10" text-anchor="end" letter-spacing="-0.08">2017-12-12 06:10:00</text>
<text x="218" y="920" font-size="10" text-anchor="end" letter-spacing="-0.08">2017-12-12 07:20:00</text>
<text x="218" y="932" font-size="10" text-anchor="end" letter-spacing="-0.08">2017-12-12 08:30:00</text>
<text x="218" y="943" font-size="10" text-anchor="end" letter-spacing="-0.08">2017-12-12 09:40:00</text>
<text transform="translate(237 954.2) rotate(-90)" font-size="10" text-anchor="end">kern_emerg</text>
<text transform="translate(255 954.2) rotate(-90)" font-size="10" text-anchor="end">kern_alert</text>
<text transform="translate(272 954.2) rotate(-90)" font-size="10" text-anchor="end">kern_crit</text>
<text transform="translate(290 954.2) rotate(-90)" font-size="10" text-anchor="end">kern_err</text>
<text transform="translate(307 954.2) rotate(-90)" font-size="10" text-anchor="end">kern_warning</text>
<text transform="translate(325 954.2) rotate(-90)" font-size="10" text-anchor="end">kern_notice</text>
<text transform="translate(342 954.2) rotate(-90)" font-size="10" text-anchor="end">kern_info</text>
<text transform="translate(360 954.2) rotate(-90)" font-size="10" text-anchor="end">kern_debug</text>
<text transform="translate(377 954.2) rotate(-90)" font-size="10" text-anchor="end">user_crit</text>
<text transform="translate(395 954.2) rotate(-90)" font-size="10" text-anchor="end">user_err</text>
<text transform="translate(412 954.2) rotate(-90)" font-size="10" text-anchor="end">user_warning</text>
<text transform="translate(430 954.2) rotate(-90)" font-size="10" text-anchor="end">user_notice</text>
<text transform="translate(447 954.2) rotate(-90)" font-size="10" text-anchor="end">user_info</text>
<text transform="translate(465 954.2) rotate(-90)" font-size="10" text-anchor="end">user_debug</text>
<text transform="translate(482 954.2) rotate(-90)" font-size="10" text-anchor="end">mail_crit</text>
<text transform="translate(500 954.2) rotate(-90)" font-size="10" text-anchor="end">mail_warning</text>
<text transform="translate(517 954.2) rotate(-90)" font-size="10" text-anchor="end">mail_info</text>
<text transform="translate(535 954.2) rotate(-90)" font-size="10" text-anchor="end">daemon_alert</text>
<text transform="translate(552 954.2) rotate(-90)" font-size="10" text-anchor="end">daemon_crit</text>
<text transform="translate(570 954.2) rotate(-90)" font-size="10" text-anchor="end">daemon_err</text>
<text transform="translate(587 954.2) rotate(-90)" font-size="10" text-anchor="end">daemon_warning</text>
<text transform="translate(605 954.2) rotate(-90)" font-size="10" text-anchor="end">daemon_notice</text>
<text transform="translate(622 954.2) rotate(-90)" font-size="10" text-anchor="end">daemon_info</text>
<text transform="translate(640 954.2) rotate(-90)" font-size="10" text-anchor="end">daemon_debug</text>
<text transform="translate(657 954.2) rotate(-90)" font-size="10" text-anchor="end">auth_err</text>
<text transform="translate(675 954.2) rotate(-90)" font-size="10" text-anchor="end">auth_notice</text>
<text transform="translate(692 954.2) rotate(-90)" font-size="10" text-anchor="end">auth_info</text>
<text transform="translate(710 954.2) rotate(-90)" font-size="10" text-anchor="end">auth_debug</text>
<text transform="translate(727 954.2) rotate(-90)" font-size="10" text-anchor="end">syslog_err</text>
<text transform="translate(745 954.2) rotate(-90)" font-size="10" text-anchor="end">syslog_warning</text>
<text transform="translate(762 954.2) rotate(-90)" font-size="10" text-anchor="end">syslog_notice</text>
<text transform="translate(780 954.2) rotate(-90)" font-size="10" text-anchor="end">syslog_info</text>
<text transform="translate(797 954.2) rotate(-90)" font-size="10" text-anchor="end">cron_err</text>
<text transform="translate(815 954.2) rotate(-90)" font-size="10" text-anchor="end">cron_notice</text>
<text transform="translate(832 954.2) rotate(-90)" font-size="10" text-anchor="end">cron_info</text>
<text transform="translate(850 954.2) rotate(-90)" font-size="10" text-anchor="end">authpriv_alert</text>
<text transform="translate(867 954.2) rotate(-90)" font-size="10" text-anchor="end">authpriv_crit</text>
<text transform="translate(885 954.2) rotate(-90)" font-size="10" text-anchor="end">authpriv_err</text>
<text transform="translate(902 954.2) rotate(-90)" font-size="10" text-anchor="end">authpriv_warning</text>
<text transform="translate(920 954.2) rotate(-90)" font-size="10" text-anchor="end">authpriv_notice</text>
<text transform="translate(937 954.2) rotate(-90)" font-size="10" text-anchor="end">authpriv_info</text>
<text transform="translate(955 954.2) rotate(-90)" font-size="10" text-anchor="end">local0_crit</text>
<text transform="translate(972 954.2) rotate(-90)" font-size="10" text-anchor="end">local0_err</text>
<text transform="translate(990 954.2) rotate(-90)" font-size="10" text-anchor="end">local0_warning</text>
<text transform="translate(1007 954.2) rotate(-90)" font-size="10" text-anchor="end">local0_notice</text>
<text transform="translate(1025 954.2) rotate(-90)" font-size="10" text-anchor="end">local0_info</text>
<text transform="translate(1042 954.2) rotate(-90)" font-size="10" text-anchor="end">local4_notice</text>
<text transform="translate(1060 954.2) rotate(-90)" font-size="10" text-anchor="end">local5_err</text>
<text transform="translate(1077 954.2) rotate(-90)" font-size="10" text-anchor="end">local5_warning</text>
<text transform="translate(1095 954.2) rotate(-90)" font-size="10" text-anchor="end">local5_info</text>
<text transform="translate(1113 954.2) rotate(-90)" font-size="10" text-anchor="end">local7_notice</text>
<text x="671.4" y="123.6" font-size="12" text-anchor="middle">taurusi6012 20171212 10:20:01</text>
<text x="671.4" y="1050.5" font-size="10" text-anchor="middle">symbol</text>
<text transform="translate(105.7 539.3) rotate(-90)" font-size="10" text-anchor="middle">date</text>
<g shape-rendering="crispEdges" fill-opacity="0.9">
<rect x="1174" y="941" width="40" height="4" fill="#fef8fe"/>
<rect x="1174" y="941" width="1" height="4" fill="#fef8fe"/><rect x="1213" y="941" width="1" height="4" fill="#fef8fe"/>
<rect x="1174" y="938" width="40" height="4" fill="#fdf3fd"/>
<rect x="1174" y="938" width="1" height="4" fill="#fdf3fd"/><rect x="1213" y="938" width="1" height="4" fill="#fdf3fd"/>
<rect x="1174" y="935" width="40" height="4" fill="#fdeffd"/>
<rect x="1174" y="935" width="1" height="4" fill="#fdeffd"/><rect x="1213" y="935" width="1" height="4" fill="#fdeffd"/>
<rect x="1174" y="932" width="40" height="4" fill="#fceafc"/>
<rect x="1174" y="932" width="1" height="4" fill="#fceafc"/><rect x="1213" y="932" width="1" height="4" fill="#fceafc"/>
<rect x="1174" y="929" width="40" height="4" fill="#fbe5fc"/>
<rect x="1174" y="929" width="1" height="4" fill="#fbe5fc"/><rect x="1213" y="929" width="1" height="4" fill="#fbe5fc"/>
<rect x="1174" y="925" width="40" height="5" fill="#fae1fb"/>
<rect x="1174" y="925" width="1" height="5" fill="#fae1fb"/><rect x="1213" y="925" width="1" height="5" fill="#fae1fb"/>
<rect x="1174" y="922" width="40" height="4" fill="#fadcfa"/>
<rect x="1174" y="922" width="1" height="4" fill="#fadcfa"/><rect x="1213" y="922" width="1" height="4" fill="#fadcfa"/>
<rect x="1174" y="919" width="40" height="4" fill="#f9d8fa"/>
<rect x="1174" y="919" width="1" height="4" fill="#f9d8fa"/><rect x="1213" y="919" width="1" height="4" fill="#f9d8fa"/>
<rect x="1174" y="916" width="40" height="4" fill="#f8d3f9"/>
<rect x="1174" y="916" width="1" height="4" fill="#f8d3f9"/><rect x="1213" y="916" width="1" height="4" fill="#f8d3f9"/>
<rect x="1174" y="913" width="40" height="4" fill="#f8cef9"/>
<rect x="1174" y="913" width="1" height="4" fill="#f8cef9"/><rect x="1213" y="913" width="1" height="4" fill="#f8cef9"/>
<rect x="1174" y="909" width="40" height="5" fill="#f7caf8"/>
<rect x="1174" y="909" width="1" height="5" fill="#f7caf8"/><rect x="1213" y="909" width="1" height="5" fill="#f7caf8"/>
<rect x="1174" y="906" width="40" height="4" fill="#f6c5f7"/>
<rect x="1174" y="906" width="1" height="4" fill="#f6c5f7"/><rect x="1213" y="906" width="1" height="4" fill="#f6c5f7"/>
<rect x="1174" y="903" width="40" height="4" fill="#f5c0f7"/>
<rect x="1174" y="903" width="1" height="4" fill="#f5c0f7"/><rect x="1213" y="903" width="1" height="4" fill="#f5c0f7"/>
<rect x="1174" y="900" width="40" height="4" fill="#f5bcf6"/>
<rect x="1174" y="900" width="1" height="4" fill="#f5bcf6"/><rect x="1213" y="900" width="1" height="4" fill="#f5bcf6"/>
<rect x="1174" y="897" width="40" height="4" fill="#f4b7f5"/>
<rect x="1174" y="897" width="1" height="4" fill="#f4b7f5"/><rect x="1213" y="897" width="1" height="4" fill="#f4b7f5"/>
<rect x="1174" y="894" width="40" height="4" fill="#f3b3f5"/>
<rect x="1174" y="894" width="1" height="4" fill="#f3b3f5"/><rect x="1213" y="894" width="1" height="4" fill="#f3b3f5"/>
<rect x="1174" y="890" width="40" height="5" fill="#f3aef4"/>
<rect x="1174" y="890" width="1" height="5" fill="#f3aef4"/><rect x="1213" y="890" width="1" height="5" fill="#f3aef4"/>
<rect x="1174" y="887" width="40" height="4" fill="#f2a9f4"/>
<rect x="1174" y="887" width="1" height="4" fill="#f2a9f4"/><rect x="1213" y="887" width="1" height="4" fill="#f2a9f4"/>
<rect x="1174" y="884" width="40" height="4" fill="#f1a5f3"/>
<rect x="1174" y="884" width="1" height="4" fill="#f1a5f3"/><rect x="1213" y="884" width="1" height="4" fill="#f1a5f3"/>
<rect x="1174" y="881" width="40" height="4" fill="#f0a0f2"/>
<rect x="1174" y="881" width="1" height="4" fill="#f0a0f2"/><rect x="1213" y="881" width="1" height="4" fill="#f0a0f2"/>
<rect x="1174" y="878" width="40" height="4" fill="#f09bf2"/>
<rect x="1174" y="878" width="1" height="4" fill="#f09bf2"/><rect x="1213" y="878" width="1" height="4" fill="#f09bf2"/>
<rect x="1174" y="874" width="40" height="5" fill="#ef97f1"/>
<rect x="1174" y="874" width="1" height="5" fill="#ef97f1"/><rect x="1213" y="874" width="1" height="5" fill="#ef97f1"/>
<rect x="1174" y="871" width="40" height="4" fill="#ee92f1"/>
<rect x="1174" y="871" width="1" height="4" fill="#ee92f1"/><rect x="1213" y="871" width="1" height="4" fill="#ee92f1"/>
<rect x="1174" y="868" width="40" height="4" fill="#ee8df0"/>
<rect x="1174" y="868" width="1" height="4" fill="#ee8df0"/><rect x="1213" y="868" width="1" height="4" fill="#ee8df0"/>
<rect x="1174" y="865" width="40" height="4" fill="#ed89ef"/>
<rect x="1174" y="865" width="1" height="4" fill="#ed89ef"/><rect x="1213" y="865" width="1" height="4" fill="#ed89ef"/>
<rect x="1174" y="862" width="40" height="4" fill="#ec84ef"/>
<rect x="1174" y="862" width="1" height="4" fill="#ec84ef"/><rect x="1213" y="862" width="1" height="4" fill="#ec84ef"/>
<rect x="1174" y="859" width="40" height="4" fill="#eb80ee"/>
<rect x="1174" y="859" width="1" height="4" fill="#eb80ee"/><rect x="1213" y="859" width="1" height="4" fill="#eb80ee"/>
<rect x="1174" y="855" width="40" height="5" fill="#e67aef"/>
<rect x="1174" y="855" width="1" height="5" fill="#e67aef"/><rect x="1213" y="855" width="1" height="5" fill="#e67aef"/>
<rect x="1174" y="852" width="40" height="4" fill="#e074f1"/>
<rect x="1174" y="852" width="1" height="4" fill="#e074f1"/><rect x="1213" y="852" width="1" height="4" fill="#e074f1"/>
<rect x="1174" y="849" width="40" height="4" fill="#da6ef2"/>
<rect x="1174" y="849" width="1" height="4" fill="#da6ef2"/><rect x="1213" y="849" width="1" height="4" fill="#da6ef2"/>
<rect x="1174" y="846" width="40" height="4" fill="#d468f3"/>
<rect x="1174" y="846" width="1" height="4" fill="#d468f3"/><rect x="1213" y="846" width="1" height="4" fill="#d468f3"/>
<rect x="1174" y="843" width="40" height="4" fill="#ce62f4"/>
<rect x="1174" y="843" width="1" height="4" fill="#ce62f4"/><rect x="1213" y="843" width="1" height="4" fill="#ce62f4"/>
<rect x="1174" y="839" width="40" height="5" fill="#c85cf5"/>
<rect x="1174" y="839" width="1" height="5" fill="#c85cf5"/><rect x="1213" y="839" width="1" height="5" fill="#c85cf5"/>
<rect x="1174" y="836" width="40" height="4" fill="#c256f7"/>
<rect x="1174" y="836" width="1" height="4" fill="#c256f7"/><rect x="1213" y="836" width="1" height="4" fill="#c256f7"/>
<rect x="1174" y="833" width="40" height="4" fill="#bc50f8"/>
<rect x="1174" y="833" width="1" height="4" fill="#bc50f8"/><rect x="1213" y="833" width="1" height="4" fill="#bc50f8"/>
<rect x="1174" y="830" width="40" height="4" fill="#b64af9"/>
<rect x="1174" y="830" width="1" height="4" fill="#b64af9"/><rect x="1213" y="830" width="1" height="4" fill="#b64af9"/>
<rect x="1174" y="827" width="40" height="4" fill="#b044fa"/>
<rect x="1174" y="827" width="1" height="4" fill="#b044fa"/><rect x="1213" y="827" width="1" height="4" fill="#b044fa"/>
<rect x="1174" y="823" width="40" height="5" fill="#aa3ffb"/>
<rect x="1174" y="823" width="1" height="5" fill="#aa3ffb"/><rect x="1213" y="823" width="1" height="5" fill="#aa3ffb"/>
<rect x="1174" y="820" width="40" height="4" fill="#a439fd"/>
<rect x="1174" y="820" width="1" height="4" fill="#a439fd"/><rect x="1213" y="820" width="1" height="4" fill="#a439fd"/>
<rect x="1174" y="817" width="40" height="4" fill="#9f33fe"/>
<rect x="1174" y="817" width="1" height="4" fill="#9f33fe"/><rect x="1213" y="817" width="1" height="4" fill="#9f33fe"/>
<rect x="1174" y="814" width="40" height="4" fill="#a62dff"/>
<rect x="1174" y="814" width="1" height="4" fill="#a62dff"/><rect x="1213" y="814" width="1" height="4" fill="#a62dff"/>
<rect x="1174" y="811" width="40" height="4" fill="#ac29ff"/>
<rect x="1174" y="811" width="1" height="4" fill="#ac29ff"/><rect x="1213" y="811" width="1" height="4" fill="#ac29ff"/>
<rect x="1174" y="808" width="40" height="4" fill="#b326ff"/>
<rect x="1174" y="808" width="1" height="4" fill="#b326ff"/><rect x="1213" y="808" width="1" height="4" fill="#b326ff"/>
<rect x="1174" y="804" width="40" height="5" fill="#ba22ff"/>
<rect x="1174" y="804" width="1" height="5" fill="#ba22ff"/><rect x="1213" y="804" width="1" height="5" fill="#ba22ff"/>
<rect x="1174" y="801" width="40" height="4" fill="#c11fff"/>
<rect x="1174" y="801" width="1" height="4" fill="#c11fff"/><rect x="1213" y="801" width="1" height="4" fill="#c11fff"/>
<rect x="1174" y="798" width="40" height="4" fill="#c81cff"/>
<rect x="1174" y="798" width="1" height="4" fill="#c81cff"/><rect x="1213" y="798" width="1" height="4" fill="#c81cff"/>
<rect x="1174" y="795" width="40" height="4" fill="#cf18ff"/>
<rect x="1174" y="795" width="1" height="4" fill="#cf18ff"/><rect x="1213" y="795" width="1" height="4" fill="#cf18ff"/>
<rect x="1174" y="792" width="40" height="4" fill="#d615ff"/>
<rect x="1174" y="792" width="1" height="4" fill="#d615ff"/><rect x="1213" y="792" width="1" height="4" fill="#d615ff"/>
<rect x="1174" y="788" width="40" height="5" fill="#dd11ff"/>
<rect x="1174" y="788" width="1" height="5" fill="#dd11ff"/><rect x="1213" y="788" width="1" height="5" fill="#dd11ff"/>
<rect x="1174" y="785" width="40" height="4" fill="#e40eff"/>
<rect x="1174" y="785" width="1" height="4" fill="#e40eff"/><rect x="1213" y="785" width="1" height="4" fill="#e40eff"/>
<rect x="1174" y="782" width="40" height="4" fill="#ea0aff"/>
<rect x="1174" y="782" width="1" height="4" fill="#ea0aff"/><rect x="1213" y="782" width="1" height="4" fill="#ea0aff"/>
<rect x="1174" y="779" width="40" height="4" fill="#f107ff"/>
<rect x="1174" y="779" width="1" height="4" fill="#f107ff"/><rect x="1213" y="779" width="1" height="4" fill="#f107ff"/>
<rect x="1174" y="776" width="40" height="4" fill="#f803fc"/>
<rect x="1174" y="776" width="1" height="4" fill="#f803fc"/><rect x="1213" y="776" width="1" height="4" fill="#f803fc"/>
<rect x="1174" y="773" width="40" height="4" fill="#ff00f8"/>
<rect x="1174" y="773" width="1" height="4" fill="#ff00f8"/><rect x="1213" y="773" width="1" height="4" fill="#ff00f8"/>
<rect x="1174" y="769" width="40" height="5" fill="#ff00e6"/>
<rect x="1174" y="769" width="1" height="5" fill="#ff00e6"/><rect x="1213" y="769" width="1" height="5" fill="#ff00e6"/>
<rect x="1174" y="766" width="40" height="4" fill="#ff00d5"/>
<rect x="1174" y="766" width="1" height="4" fill="#ff00d5"/><rect x="1213" y="766" width="1" height="4" fill="#ff00d5"/>
<rect x="1174" y="763" width="40" height="4" fill="#ff00c3"/>
<rect x="1174" y="763" width="1" height="4" fill="#ff00c3"/><rect x="1213" y="763" width="1" height="4" fill="#ff00c3"/>
<rect x="1174" y="760" width="40" height="4" fill="#ff00b1"/>
<rect x="1174" y="760" width="1" height="4" fill="#ff00b1"/><rect x="1213" y="760" width="1" height="4" fill="#ff00b1"/>
<rect x="1174" y="757" width="40" height="4" fill="#ff009f"/>
<rect x="1174" y="757" width="1" height="4" fill="#ff009f"/><rect x="1213" y="757" width="1" height="4" fill="#ff009f"/>
<rect x="1174" y="753" width="40" height="5" fill="#ff008e"/>
<rect x="1174" y="753" width="1" height="5" fill="#ff008e"/><rect x="1213" y="753" width="1" height="5" fill="#ff008e"/>
<rect x="1174" y="750" width="40" height="4" fill="#ff007c"/>
<rect x="1174" y="750" width="1" height="4" fill="#ff007c"/><rect x="1213" y="750" width="1" height="4" fill="#ff007c"/>
<rect x="1174" y="747" width="40" height="4" fill="#ff006a"/>
<rect x="1174" y="747" width="1" height="4" fill="#ff006a"/><rect x="1213" y="747" width="1" height="4" fill="#ff006a"/>
<rect x="1174" y="744" width="40" height="4" fill="#ff0058"/>
<rect x="1174" y="744" width="1" height="4" fill="#ff0058"/><rect x="1213" y="744" width="1" height="4" fill="#ff0058"/>
<rect x="1174" y="741" width="40" height="4" fill="#ff0047"/>
<rect x="1174" y="741" width="1" height="4" fill="#ff0047"/><rect x="1213" y="741" width="1" height="4" fill="#ff0047"/>
<rect x="1174" y="737" width="40" height="5" fill="#ff0035"/>
<rect x="1174" y="737" width="1" height="5" fill="#ff0035"/><rect x="1213" y="737" width="1" height="5" fill="#ff0035"/>
<rect x="1174" y="734" width="40" height="4" fill="#ff0023"/>
<rect x="1174" y="734" width="1" height="4" fill="#ff0023"/><rect x="1213" y="734" width="1" height="4" fill="#ff0023"/>
<rect x="1174" y="731" width="40" height="4" fill="#ff0512"/>
<rect x="1174" y="731" width="1" height="4" fill="#ff0512"/><rect x="1213" y="731" width="1" height="4" fill="#ff0512"/>
<rect x="1174" y="728" width="40" height="4" fill="#ff0a00"/>
<rect x="1174" y="728" width="1" height="4" fill="#ff0a00"/><rect x="1213" y="728" width="1" height="4" fill="#ff0a00"/>
<rect x="1174" y="725" width="40" height="4" fill="#ff0e00"/>
<rect x="1174" y="725" width="1" height="4" fill="#ff0e00"/><rect x="1213" y="725" width="1" height="4" fill="#ff0e00"/>
<rect x="1174" y="722" width="40" height="4" fill="#ff1300"/>
<rect x="1174" y="722" width="1" height="4" fill="#ff1300"/><rect x="1213" y="722" width="1" height="4" fill="#ff1300"/>
<rect x="1174" y="718" width="40" height="5" fill="#ff1800"/>
<rect x="1174" y="718" width="1" height="5" fill="#ff1800"/><rect x="1213" y="718" width="1" height="5" fill="#ff1800"/>
<rect x="1174" y="715" width="40" height="4" fill="#ff1d00"/>
<rect x="1174" y="715" width="1" height="4" fill="#ff1d00"/><rect x="1213" y="715" width="1" height="4" fill="#ff1d00"/>
<rect x="1174" y="712" width="40" height="4" fill="#ff2100"/>
<rect x="1174" y="712" width="1" height="4" fill="#ff2100"/><rect x="1213" y="712" width="1" height="4" fill="#ff2100"/>
<rect x="1174" y="709" width="40" height="4" fill="#ff2600"/>
<rect x="1174" y="709" width="1" height="4" fill="#ff2600"/><rect x="1213" y="709" width="1" height="4" fill="#ff2600"/>
<rect x="1174" y="706" width="40" height="4" fill="#ff2b00"/>
<rect x="1174" y="706" width="1" height="4" fill="#ff2b00"/><rect x="1213" y="706" width="1" height="4" fill="#ff2b00"/>
<rect x="1174" y="702" width="40" height="5" fill="#ff3000"/>
<rect x="1174" y="702" width="1" height="5" fill="#ff3000"/><rect x="1213" y="702" width="1" height="5" fill="#ff3000"/>
<rect x="1174" y="699" width="40" height="4" fill="#ff3400"/>
<rect x="1174" y="699" width="1" height="4" fill="#ff3400"/><rect x="1213" y="699" width="1" height="4" fill="#ff3400"/>
<rect x="1174" y="696" width="40" height="4" fill="#ff3900"/>
<rect x="1174" y="696" width="1" height="4" fill="#ff3900"/><rect x="1213" y="696" width="1" height="4" fill="#ff3900"/>
<rect x="1174" y="693" width="40" height="4" fill="#ff3e00"/>
<rect x="1174" y="693" width="1" height="4" fill="#ff3e00"/><rect x="1213" y="693" width="1" height="4" fill="#ff3e00"/>
<rect x="1174" y="690" width="40" height="4" fill="#ff4300"/>
<rect x="1174" y="690" width="1" height="4" fill="#ff4300"/><rect x="1213" y="690" width="1" height="4" fill="#ff4300"/>
<rect x="1174" y="687" width="40" height="4" fill="#ff4701"/>
<rect x="1174" y="687" width="1" height="4" fill="#ff4701"/><rect x="1213" y="687" width="1" height="4" fill="#ff4701"/>
<rect x="1174" y="683" width="40" height="5" fill="#ff5002"/>
<rect x="1174" y="683" width="1" height="5" fill="#ff5002"/><rect x="1213" y="683" width="1" height="5" fill="#ff5002"/>
<rect x="1174" y="680" width="40" height="4" fill="#ff5803"/>
<rect x="1174" y="680" width="1" height="4" fill="#ff5803"/><rect x="1213" y="680" width="1" height="4" fill="#ff5803"/>
<rect x="1174" y="677" width="40" height="4" fill="#ff6004"/>
<rect x="1174" y="677" width="1" height="4" fill="#ff6004"/><rect x="1213" y="677" width="1" height="4" fill="#ff6004"/>
<rect x="1174" y="674" width="40" height="4" fill="#ff6805"/>
<rect x="1174" y="674" width="1" height="4" fill="#ff6805"/><rect x="1213" y="674" width="1" height="4" fill="#ff6805"/>
<rect x="1174" y="671" width="40" height="4" fill="#ff7006"/>
<rect x="1174" y="671" width="1" height="4" fill="#ff7006"/><rect x="1213" y="671" width="1" height="4" fill="#ff7006"/>
<rect x="1174" y="667" width="40" height="5" fill="#ff7807"/>
<rect x="1174" y="667" width="1" height="5" fill="#ff7807"/><rect x="1213" y="667" width="1" height="5" fill="#ff7807"/>
<rect x="1174" y="664" width="40" height="4" fill="#ff8107"/>
<rect x="1174" y="664" width="1" height="4" fill="#ff8107"/><rect x="1213" y="664" width="1" height="4" fill="#ff8107"/>
<rect x="1174" y="661" width="40" height="4" fill="#ff8908"/>
<rect x="1174" y="661" width="1" height="4" fill="#ff8908"/><rect x="1213" y="661" width="1" height="4" fill="#ff8908"/>
<rect x="1174" y="658" width="40" height="4" fill="#ff9109"/>
<rect x="1174" y="658" width="1" height="4" fill="#ff9109"/><rect x="1213" y="658" width="1" height="4" fill="#ff9109"/>
<rect x="1174" y="655" width="40" height="4" fill="#ff990a"/>
<rect x="1174" y="655" width="1" height="4" fill="#ff990a"/><rect x="1213" y="655" width="1" height="4" fill="#ff990a"/>
<rect x="1174" y="651" width="40" height="5" fill="#ffa10b"/>
<rect x="1174" y="651" width="1" height="5" fill="#ffa10b"/><rect x="1213" y="651" width="1" height="5" fill="#ffa10b"/>
<rect x="1174" y="648" width="40" height="4" fill="#ffaa0c"/>
<rect x="1174" y="648" width="1" height="4" fill="#ffaa0c"/><rect x="1213" y="648" width="1" height="4" fill="#ffaa0c"/>
<rect x="1174" y="645" width="40" height="4" fill="#ffb20d"/>
<rect x="1174" y="645" width="1" height="4" fill="#ffb20d"/><rect x="1213" y="645" width="1" height="4" fill="#ffb20d"/>
<rect x="1174" y="642" width="40" height="4" fill="#ffba0e"/>
<rect x="1174" y="642" width="1" height="4" fill="#ffba0e"/><rect x="1213" y="642" width="1" height="4" fill="#ffba0e"/>
<rect x="1174" y="639" width="40" height="4" fill="#ffbc0d"/>
<rect x="1174" y="639" width="1" height="4" fill="#ffbc0d"/><rect x="1213" y="639" width="1" height="4" fill="#ffbc0d"/>
<rect x="1174" y="636" width="40" height="4" fill="#ffbf0c"/>
<rect x="1174" y="636" width="1" height="4" fill="#ffbf0c"/><rect x="1213" y="636" width="1" height="4" fill="#ffbf0c"/>
<rect x="1174" y="632" width="40" height="5" fill="#ffc10b"/>
<rect x="1174" y="632" width="1" height="5" fill="#ffc10b"/><rect x="1213" y="632" width="1" height="5" fill="#ffc10b"/>
<rect x="1174" y="629" width="40" height="4" fill="#ffc40a"/>
<rect x="1174" y="629" width="1" height="4" fill="#ffc40a"/><rect x="1213" y="629" width="1" height="4" fill="#ffc40a"/>
<rect x="1174" y="626" width="40" height="4" fill="#ffc609"/>
<rect x="1174" y="626" width="1" height="4" fill="#ffc609"/><rect x="1213" y="626" width="1" height="4" fill="#ffc609"/>
<rect x="1174" y="623" width="40" height="4" fill="#ffc908"/>
<rect x="1174" y="623" width="1" height="4" fill="#ffc908"/><rect x="1213" y="623" width="1" height="4" fill="#ffc908"/>
<rect x="1174" y="620" width="40" height="4" fill="#ffcb06"/>
<rect x="1174" y="620" width="1" height="4" fill="#ffcb06"/><rect x="1213" y="620" width="1" height="4" fill="#ffcb06"/>
<rect x="1174" y="616" width="40" height="5" fill="#ffce05"/>
<rect x="1174" y="616" width="1" height="5" fill="#ffce05"/><rect x="1213" y="616" width="1" height="5" fill="#ffce05"/>
<rect x="1174" y="613" width="40" height="4" fill="#ffd004"/>
<rect x="1174" y="613" width="1" height="4" fill="#ffd004"/><rect x="1213" y="613" width="1" height="4" fill="#ffd004"/>
<rect x="1174" y="610" width="40" height="4" fill="#ffd303"/>
<rect x="1174" y="610" width="1" height="4" fill="#ffd303"/><rect x="1213" y="610" width="1" height="4" fill="#ffd303"/>
<rect x="1174" y="607" width="40" height="4" fill="#ffd502"/>
<rect x="1174" y="607" width="1" height="4" fill="#ffd502"/><rect x="1213" y="607" width="1" height="4" fill="#ffd502"/>
<rect x="1174" y="604" width="40" height="4" fill="#ffd801"/>
<rect x="1174" y="604" width="1" height="4" fill="#ffd801"/><rect x="1213" y="604" width="1" height="4" fill="#ffd801"/>
<rect x="1174" y="601" width="40" height="4" fill="#ffda00"/>
<rect x="1174" y="601" width="1" height="4" fill="#ffda00"/><rect x="1213" y="601" width="1" height="4" fill="#ffda00"/>
<rect x="1174" y="597" width="40" height="5" fill="#ffdc00"/>
<rect x="1174" y="597" width="1" height="5" fill="#ffdc00"/><rect x="1213" y="597" width="1" height="5" fill="#ffdc00"/>
<rect x="1174" y="594" width="40" height="4" fill="#ffdf00"/>
<rect x="1174" y="594" width="1" height="4" fill="#ffdf00"/><rect x="1213" y="594" width="1" height="4" fill="#ffdf00"/>
<rect x="1174" y="591" width="40" height="4" fill="#ffe100"/>
<rect x="1174" y="591" width="1" height="4" fill="#ffe100"/><rect x="1213" y="591" width="1" height="4" fill="#ffe100"/>
<rect x="1174" y="588" width="40" height="4" fill="#ffe400"/>
<rect x="1174" y="588" width="1" height="4" fill="#ffe400"/><rect x="1213" y="588" width="1" height="4" fill="#ffe400"/>
<rect x="1174" y="585" width="40" height="4" fill="#ffe600"/>
<rect x="1174" y="585" width="1" height="4" fill="#ffe600"/><rect x="1213" y="585" width="1" height="4" fill="#ffe600"/>
<rect x="1174" y="581" width="40" height="5" fill="#ffe900"/>
<rect x="1174" y="581" width="1" height="5" fill="#ffe900"/><rect x="1213" y="581" width="1" height="5" fill="#ffe900"/>
<rect x="1174" y="578" width="40" height="4" fill="#ffeb00"/>
<rect x="1174" y="578" width="1" height="4" fill="#ffeb00"/><rect x="1213" y="578" width="1" height="4" fill="#ffeb00"/>
<rect x="1174" y="575" width="40" height="4" fill="#ffee00"/>
<rect x="1174" y="575" width="1" height="4" fill="#ffee00"/><rect x="1213" y="575" width="1" height="4" fill="#ffee00"/>
<rect x="1174" y="572" width="40" height="4" fill="#fff000"/>
<rect x="1174" y="572" width="1" height="4" fill="#fff000"/><rect x="1213" y="572" width="1" height="4" fill="#fff000"/>
<rect x="1174" y="569" width="40" height="4" fill="#fff300"/>
<rect x="1174" y="569" width="1" height="4" fill="#fff300"/><rect x="1213" y="569" width="1" height="4" fill="#fff300"/>
<rect x="1174" y="565" width="40" height="5" fill="#fff500"/>
<rect x="1174" y="565" width="1" height="5" fill="#fff500"/><rect x="1213" y="565" width="1" height="5" fill="#fff500"/>
<rect x="1174" y="562" width="40" height="4" fill="#fff800"/>
<rect x="1174" y="562" width="1" height="4" fill="#fff800"/><rect x="1213" y="562" width="1" height="4" fill="#fff800"/>
<rect x="1174" y="559" width="40" height="4" fill="#fafa04"/>
<rect x="1174" y="559" width="1" height="4" fill="#fafa04"/><rect x="1213" y="559" width="1" height="4" fill="#fafa04"/>
<rect x="1174" y="556" width="40" height="4" fill="#f6fd08"/>
<rect x="1174" y="556" width="1" height="4" fill="#f6fd08"/><rect x="1213" y="556" width="1" height="4" fill="#f6fd08"/>
<rect x="1174" y="553" width="40" height="4" fill="#f1ff0c"/>
<rect x="1174" y="553" width="1" height="4" fill="#f1ff0c"/><rect x="1213" y="553" width="1" height="4" fill="#f1ff0c"/>
<rect x="1174" y="550" width="40" height="4" fill="#edff10"/>
<rect x="1174" y="550" width="1" height="4" fill="#edff10"/><rect x="1213" y="550" width="1" height="4" fill="#edff10"/>
<rect x="1174" y="546" width="40" height="5" fill="#e8ff14"/>
<rect x="1174" y="546" width="1" height="5" fill="#e8ff14"/><rect x="1213" y="546" width="1" height="5" fill="#e8ff14"/>
<rect x="1174" y="543" width="40" height="4" fill="#e4ff18"/>
<rect x="1174" y="543" width="1" height="4" fill="#e4ff18"/><rect x="1213" y="543" width="1" height="4" fill="#e4ff18"/>
<rect x="1174" y="540" width="40" height="4" fill="#dfff1c"/>
<rect x="1174" y="540" width="1" height="4" fill="#dfff1c"/><rect x="1213" y="540" width="1" height="4" fill="#dfff1c"/>
<rect x="1174" y="537" width="40" height="4" fill="#dbff20"/>
<rect x="1174" y="537" width="1" height="4" fill="#dbff20"/><rect x="1213" y="537" width="1" height="4" fill="#dbff20"/>
<rect x="1174" y="534" width="40" height="4" fill="#d6ff24"/>
<rect x="1174" y="534" width="1" height="4" fill="#d6ff24"/><rect x="1213" y="534" width="1" height="4" fill="#d6ff24"/>
<rect x="1174" y="530" width="40" height="5" fill="#d2ff28"/>
<rect x="1174" y="530" width="1" height="5" fill="#d2ff28"/><rect x="1213" y="530" width="1" height="5" fill="#d2ff28"/>
<rect x="1174" y="527" width="40" height="4" fill="#cdff2c"/>
<rect x="1174" y="527" width="1" height="4" fill="#cdff2c"/><rect x="1213" y="527" width="1" height="4" fill="#cdff2c"/>
<rect x="1174" y="524" width="40" height="4" fill="#c8ff30"/>
<rect x="1174" y="524" width="1" height="4" fill="#c8ff30"/><rect x="1213" y="524" width="1" height="4" fill="#c8ff30"/>
<rect x="1174" y="521" width="40" height="4" fill="#c4ff34"/>
<rect x="1174" y="521" width="1" height="4" fill="#c4ff34"/><rect x="1213" y="521" width="1" height="4" fill="#c4ff34"/>
<rect x="1174" y="518" width="40" height="4" fill="#bfff38"/>
<rect x="1174" y="518" width="1" height="4" fill="#bfff38"/><rect x="1213" y="518" width="1" height="4" fill="#bfff38"/>
<rect x="1174" y="515" width="40" height="4" fill="#bbff3c"/>
<rect x="1174" y="515" width="1" height="4" fill="#bbff3c"/><rect x="1213" y="515" width="1" height="4" fill="#bbff3c"/>
<rect x="1174" y="511" width="40" height="5" fill="#b6ff38"/>
<rect x="1174" y="511" width="1" height="5" fill="#b6ff38"/><rect x="1213" y="511" width="1" height="5" fill="#b6ff38"/>
<rect x="1174" y="508" width="40" height="4" fill="#b2ff34"/>
<rect x="1174" y="508" width="1" height="4" fill="#b2ff34"/><rect x="1213" y="508" width="1" height="4" fill="#b2ff34"/>
<rect x="1174" y="505" width="40" height="4" fill="#adff30"/>
<rect x="1174" y="505" width="1" height="4" fill="#adff30"/><rect x="1213" y="505" width="1" height="4" fill="#adff30"/>
<rect x="1174" y="502" width="40" height="4" fill="#a9ff2c"/>
<rect x="1174" y="502" width="1" height="4" fill="#a9ff2c"/><rect x="1213" y="502" width="1" height="4" fill="#a9ff2c"/>
<rect x="1174" y="499" width="40" height="4" fill="#a4ff28"/>
<rect x="1174" y="499" width="1" height="4" fill="#a4ff28"/><rect x="1213" y="499" width="1" height="4" fill="#a4ff28"/>
<rect x="1174" y="495" width="40" height="5" fill="#9fff24"/>
<rect x="1174" y="495" width="1" height="5" fill="#9fff24"/><rect x="1213" y="495" width="1" height="5" fill="#9fff24"/>
<rect x="1174" y="492" width="40" height="4" fill="#9bff20"/>
<rect x="1174" y="492" width="1" height="4" fill="#9bff20"/><rect x="1213" y="492" width="1" height="4" fill="#9bff20"/>
<rect x="1174" y="489" width="40" height="4" fill="#96ff1c"/>
<rect x="1174" y="489" width="1" height="4" fill="#96ff1c"/><rect x="1213" y="489" width="1" height="4" fill="#96ff1c"/>
<rect x="1174" y="486" width="40" height="4" fill="#92ff18"/>
<rect x="1174" y="486" width="1" height="4" fill="#92ff18"/><rect x="1213" y="486" width="1" height="4" fill="#92ff18"/>
<rect x="1174" y="483" width="40" height="4" fill="#8dff14"/>
<rect x="1174" y="483" width="1" height="4" fill="#8dff14"/><rect x="1213" y="483" width="1" height="4" fill="#8dff14"/>
<rect x="1174" y="479" width="40" height="5" fill="#89ff10"/>
<rect x="1174" y="479" width="1" height="5" fill="#89ff10"/><rect x="1213" y="479" width="1" height="5" fill="#89ff10"/>
<rect x="1174" y="476" width="40" height="4" fill="#84ff0c"/>
<rect x="1174" y="476" width="1" height="4" fill="#84ff0c"/><rect x="1213" y="476" width="1" height="4" fill="#84ff0c"/>
<rect x="1174" y="473" width="40" height="4" fill="#80fc08"/>
<rect x="1174" y="473" width="1" height="4" fill="#80fc08"/><rect x="1213" y="473" width="1" height="4" fill="#80fc08"/>
<rect x="1174" y="470" width="40" height="4" fill="#7ef804"/>
<rect x="1174" y="470" width="1" height="4" fill="#7ef804"/><rect x="1213" y="470" width="1" height="4" fill="#7ef804"/>
<rect x="1174" y="467" width="40" height="4" fill="#7cf500"/>
<rect x="1174" y="467" width="1" height="4" fill="#7cf500"/><rect x="1213" y="467" width="1" height="4" fill="#7cf500"/>
<rect x="1174" y="464" width="40" height="4" fill="#7af200"/>
<rect x="1174" y="464" width="1" height="4" fill="#7af200"/><rect x="1213" y="464" width="1" height="4" fill="#7af200"/>
<rect x="1174" y="460" width="40" height="5" fill="#78ef00"/>
<rect x="1174" y="460" width="1" height="5" fill="#78ef00"/><rect x="1213" y="460" width="1" height="5" fill="#78ef00"/>
<rect x="1174" y="457" width="40" height="4" fill="#76eb00"/>
<rect x="1174" y="457" width="1" height="4" fill="#76eb00"/><rect x="1213" y="457" width="1" height="4" fill="#76eb00"/>
<rect x="1174" y="454" width="40" height="4" fill="#74e800"/>
<rect x="1174" y="454" width="1" height="4" fill="#74e800"/><rect x="1213" y="454" width="1" height="4" fill="#74e800"/>
<rect x="1174" y="451" width="40" height="4" fill="#72e500"/>
<rect x="1174" y="451" width="1" height="4" fill="#72e500"/><rect x="1213" y="451" width="1" height="4" fill="#72e500"/>
<rect x="1174" y="448" width="40" height="4" fill="#70e200"/>
<rect x="1174" y="448" width="1" height="4" fill="#70e200"/><rect x="1213" y="448" width="1" height="4" fill="#70e200"/>
<rect x="1174" y="444" width="40" height="5" fill="#6ede00"/>
<rect x="1174" y="444" width="1" height="5" fill="#6ede00"/><rect x="1213" y="444" width="1" height="5" fill="#6ede00"/>
<rect x="1174" y="441" width="40" height="4" fill="#6cdb00"/>
<rect x="1174" y="441" width="1" height="4" fill="#6cdb00"/><rect x="1213" y="441" width="1" height="4" fill="#6cdb00"/>
<rect x="1174" y="438" width="40" height="4" fill="#6ad800"/>
<rect x="1174" y="438" width="1" height="4" fill="#6ad800"/><rect x="1213" y="438" width="1" height="4" fill="#6ad800"/>
<rect x="1174" y="435" width="40" height="4" fill="#68d500"/>
<rect x="1174" y="435" width="1" height="4" fill="#68d500"/><rect x="1213" y="435" width="1" height="4" fill="#68d500"/>
<rect x="1174" y="432" width="40" height="4" fill="#66d100"/>
<rect x="1174" y="432" width="1" height="4" fill="#66d100"/><rect x="1213" y="432" width="1" height="4" fill="#66d100"/>
<rect x="1174" y="429" width="40" height="4" fill="#60ce00"/>
<rect x="1174" y="429" width="1" height="4" fill="#60ce00"/><rect x="1213" y="429" width="1" height="4" fill="#60ce00"/>
<rect x="1174" y="425" width="40" height="5" fill="#59d200"/>
<rect x="1174" y="425" width="1" height="5" fill="#59d200"/><rect x="1213" y="425" width="1" height="5" fill="#59d200"/>
<rect x="1174" y="422" width="40" height="4" fill="#53d600"/>
<rect x="1174" y="422" width="1" height="4" fill="#53d600"/><rect x="1213" y="422" width="1" height="4" fill="#53d600"/>
<rect x="1174" y="419" width="40" height="4" fill="#4cd900"/>
<rect x="1174" y="419" width="1" height="4" fill="#4cd900"/><rect x="1213" y="419" width="1" height="4" fill="#4cd900"/>
<rect x="1174" y="416" width="40" height="4" fill="#46dd00"/>
<rect x="1174" y="416" width="1" height="4" fill="#46dd00"/><rect x="1213" y="416" width="1" height="4" fill="#46dd00"/>
<rect x="1174" y="413" width="40" height="4" fill="#40e100"/>
<rect x="1174" y="413" width="1" height="4" fill="#40e100"/><rect x="1213" y="413" width="1" height="4" fill="#40e100"/>
<rect x="1174" y="409" width="40" height="5" fill="#39e500"/>
<rect x="1174" y="409" width="1" height="5" fill="#39e500"/><rect x="1213" y="409" width="1" height="5" fill="#39e500"/>
<rect x="1174" y="406" width="40" height="4" fill="#33e800"/>
<rect x="1174" y="406" width="1" height="4" fill="#33e800"/><rect x="1213" y="406" width="1" height="4" fill="#33e800"/>
<rect x="1174" y="403" width="40" height="4" fill="#2dec00"/>
<rect x="1174" y="403" width="1" height="4" fill="#2dec00"/><rect x="1213" y="403" width="1" height="4" fill="#2dec00"/>
<rect x="1174" y="400" width="40" height="4" fill="#26f000"/>
<rect x="1174" y="400" width="1" height="4" fill="#26f000"/><rect x="1213" y="400" width="1" height="4" fill="#26f000"/>
<rect x="1174" y="397" width="40" height="4" fill="#20f400"/>
<rect x="1174" y="397" width="1" height="4" fill="#20f400"/><rect x="1213" y="397" width="1" height="4" fill="#20f400"/>
<rect x="1174" y="393" width="40" height="5" fill="#19f700"/>
<rect x="1174" y="393" width="1" height="5" fill="#19f700"/><rect x="1213" y="393" width="1" height="5" fill="#19f700"/>
<rect x="1174" y="390" width="40" height="4" fill="#13fb00"/>
<rect x="1174" y="390" width="1" height="4" fill="#13fb00"/><rect x="1213" y="390" width="1" height="4" fill="#13fb00"/>
<rect x="1174" y="387" width="40" height="4" fill="#0dff0b"/>
<rect x="1174" y="387" width="1" height="4" fill="#0dff0b"/><rect x="1213" y="387" width="1" height="4" fill="#0dff0b"/>
<rect x="1174" y="384" width="40" height="4" fill="#06ff15"/>
<rect x="1174" y="384" width="1" height="4" fill="#06ff15"/><rect x="1213" y="384" width="1" height="4" fill="#06ff15"/>
<rect x="1174" y="381" width="40" height="4" fill="#00fe1f"/>
<rect x="1174" y="381" width="1" height="4" fill="#00fe1f"/><rect x="1213" y="381" width="1" height="4" fill="#00fe1f"/>
<rect x="1174" y="378" width="40" height="4" fill="#00fe2a"/>
<rect x="1174" y="378" width="1" height="4" fill="#00fe2a"/><rect x="1213" y="378" width="1" height="4" fill="#00fe2a"/>
<rect x="1174" y="374" width="40" height="5" fill="#00fd34"/>
<rect x="1174" y="374" width="1" height="5" fill="#00fd34"/><rect x="1213" y="374" width="1" height="5" fill="#00fd34"/>
<rect x="1174" y="371" width="40" height="4" fill="#00fd3f"/>
<rect x="1174" y="371" width="1" height="4" fill="#00fd3f"/><rect x="1213" y="371" width="1" height="4" fill="#00fd3f"/>
<rect x="1174" y="368" width="40" height="4" fill="#00fd49"/>
<rect x="1174" y="368" width="1" height="4" fill="#00fd49"/><rect x="1213" y="368" width="1" height="4" fill="#00fd49"/>
<rect x="1174" y="365" width="40" height="4" fill="#00fc54"/>
<rect x="1174" y="365" width="1" height="4" fill="#00fc54"/><rect x="1213" y="365" width="1" height="4" fill="#00fc54"/>
<rect x="1174" y="362" width="40" height="4" fill="#00fc5e"/>
<rect x="1174" y="362" width="1" height="4" fill="#00fc5e"/><rect x="1213" y="362" width="1" height="4" fill="#00fc5e"/>
<rect x="1174" y="358" width="40" height="5" fill="#00fb68"/>
<rect x="1174" y="358" width="1" height="5" fill="#00fb68"/><rect x="1213" y="358" width="1" height="5" fill="#00fb68"/>
<rect x="1174" y="355" width="40" height="4" fill="#00fb73"/>
<rect x="1174" y="355" width="1" height="4" fill="#00fb73"/><rect x="1213" y="355" width="1" height="4" fill="#00fb73"/>
<rect x="1174" y="352" width="40" height="4" fill="#00fa7d"/>
<rect x="1174" y="352" width="1" height="4" fill="#00fa7d"/><rect x="1213" y="352" width="1" height="4" fill="#00fa7d"/>
<rect x="1174" y="349" width="40" height="4" fill="#00fa88"/>
<rect x="1174" y="349" width="1" height="4" fill="#00fa88"/><rect x="1213" y="349" width="1" height="4" fill="#00fa88"/>
<rect x="1174" y="346" width="40" height="4" fill="#00fa92"/>
<rect x="1174" y="346" width="1" height="4" fill="#00fa92"/><rect x="1213" y="346" width="1" height="4" fill="#00fa92"/>
<rect x="1174" y="343" width="40" height="4" fill="#00fa9d"/>
<rect x="1174" y="343" width="1" height="4" fill="#00fa9d"/><rect x="1213" y="343" width="1" height="4" fill="#00fa9d"/>
<rect x="1174" y="339" width="40" height="5" fill="#00faa3"/>
<rect x="1174" y="339" width="1" height="5" fill="#00faa3"/><rect x="1213" y="339" width="1" height="5" fill="#00faa3"/>
<rect x="1174" y="336" width="40" height="4" fill="#00faaa"/>
<rect x="1174" y="336" width="1" height="4" fill="#00faaa"/><rect x="1213" y="336" width="1" height="4" fill="#00faaa"/>
<rect x="1174" y="333" width="40" height="4" fill="#00fbb0"/>
<rect x="1174" y="333" width="1" height="4" fill="#00fbb0"/><rect x="1213" y="333" width="1" height="4" fill="#00fbb0"/>
<rect x="1174" y="330" width="40" height="4" fill="#00fbb7"/>
<rect x="1174" y="330" width="1" height="4" fill="#00fbb7"/><rect x="1213" y="330" width="1" height="4" fill="#00fbb7"/>
<rect x="1174" y="327" width="40" height="4" fill="#00fcbd"/>
<rect x="1174" y="327" width="1" height="4" fill="#00fcbd"/><rect x="1213" y="327" width="1" height="4" fill="#00fcbd"/>
<rect x="1174" y="323" width="40" height="5" fill="#00fcc4"/>
<rect x="1174" y="323" width="1" height="5" fill="#00fcc4"/><rect x="1213" y="323" width="1" height="5" fill="#00fcc4"/>
<rect x="1174" y="320" width="40" height="4" fill="#00fdcb"/>
<rect x="1174" y="320" width="1" height="4" fill="#00fdcb"/><rect x="1213" y="320" width="1" height="4" fill="#00fdcb"/>
<rect x="1174" y="317" width="40" height="4" fill="#00fdd1"/>
<rect x="1174" y="317" width="1" height="4" fill="#00fdd1"/><rect x="1213" y="317" width="1" height="4" fill="#00fdd1"/>
<rect x="1174" y="314" width="40" height="4" fill="#00fed8"/>
<rect x="1174" y="314" width="1" height="4" fill="#00fed8"/><rect x="1213" y="314" width="1" height="4" fill="#00fed8"/>
<rect x="1174" y="311" width="40" height="4" fill="#00fede"/>
<rect x="1174" y="311" width="1" height="4" fill="#00fede"/><rect x="1213" y="311" width="1" height="4" fill="#00fede"/>
<rect x="1174" y="307" width="40" height="5" fill="#00ffe5"/>
<rect x="1174" y="307" width="1" height="5" fill="#00ffe5"/><rect x="1213" y="307" width="1" height="5" fill="#00ffe5"/>
<rect x="1174" y="304" width="40" height="4" fill="#00ffeb"/>
<rect x="1174" y="304" width="1" height="4" fill="#00ffeb"/><rect x="1213" y="304" width="1" height="4" fill="#00ffeb"/>
<rect x="1174" y="301" width="40" height="4" fill="#00fbf2"/>
<rect x="1174" y="301" width="1" height="4" fill="#00fbf2"/><rect x="1213" y="301" width="1" height="4" fill="#00fbf2"/>
<rect x="1174" y="298" width="40" height="4" fill="#00f6f8"/>
<rect x="1174" y="298" width="1" height="4" fill="#00f6f8"/><rect x="1213" y="298" width="1" height="4" fill="#00f6f8"/>
<rect x="1174" y="295" width="40" height="4" fill="#00f2ff"/>
<rect x="1174" y="295" width="1" height="4" fill="#00f2ff"/><rect x="1213" y="295" width="1" height="4" fill="#00f2ff"/>
<rect x="1174" y="292" width="40" height="4" fill="#00edff"/>
<rect x="1174" y="292" width="1" height="4" fill="#00edff"/><rect x="1213" y="292" width="1" height="4" fill="#00edff"/>
<rect x="1174" y="288" width="40" height="5" fill="#00e9ff"/>
<rect x="1174" y="288" width="1" height="5" fill="#00e9ff"/><rect x="1213" y="288" width="1" height="5" fill="#00e9ff"/>
<rect x="1174" y="285" width="40" height="4" fill="#00e5ff"/>
<rect x="1174" y="285" width="1" height="4" fill="#00e5ff"/><rect x="1213" y="285" width="1" height="4" fill="#00e5ff"/>
<rect x="1174" y="282" width="40" height="4" fill="#00e0ff"/>
<rect x="1174" y="282" width="1" height="4" fill="#00e0ff"/><rect x="1213" y="282" width="1" height="4" fill="#00e0ff"/>
<rect x="1174" y="279" width="40" height="4" fill="#00dcff"/>
<rect x="1174" y="279" width="1" height="4" fill="#00dcff"/><rect x="1213" y="279" width="1" height="4" fill="#00dcff"/>
<rect x="1174" y="276" width="40" height="4" fill="#00d7ff"/>
<rect x="1174" y="276" width="1" height="4" fill="#00d7ff"/><rect x="1213" y="276" width="1" height="4" fill="#00d7ff"/>
<rect x="1174" y="272" width="40" height="5" fill="#00d3ff"/>
<rect x="1174" y="272" width="1" height="5" fill="#00d3ff"/><rect x="1213" y="272" width="1" height="5" fill="#00d3ff"/>
<rect x="1174" y="269" width="40" height="4" fill="#00ceff"/>
<rect x="1174" y="269" width="1" height="4" fill="#00ceff"/><rect x="1213" y="269" width="1" height="4" fill="#00ceff"/>
<rect x="1174" y="266" width="40" height="4" fill="#00caff"/>
<rect x="1174" y="266" width="1" height="4" fill="#00caff"/><rect x="1213" y="266" width="1" height="4" fill="#00caff"/>
<rect x="1174" y="263" width="40" height="4" fill="#00c6ff"/>
<rect x="1174" y="263" width="1" height="4" fill="#00c6ff"/><rect x="1213" y="263" width="1" height="4" fill="#00c6ff"/>
<rect x="1174" y="260" width="40" height="4" fill="#00c0ff"/>
<rect x="1174" y="260" width="1" height="4" fill="#00c0ff"/><rect x="1213" y="260" width="1" height="4" fill="#00c0ff"/>
<rect x="1174" y="257" width="40" height="4" fill="#00b8ff"/>
<rect x="1174" y="257" width="1" height="4" fill="#00b8ff"/><rect x="1213" y="257" width="1" height="4" fill="#00b8ff"/>
<rect x="1174" y="253" width="40" height="5" fill="#00a9ff"/>
<rect x="1174" y="253" width="1" height="5" fill="#00a9ff"/><rect x="1213" y="253" width="1" height="5" fill="#00a9ff"/>
<rect x="1174" y="250" width="40" height="4" fill="#009bff"/>
<rect x="1174" y="250" width="1" height="4" fill="#009bff"/><rect x="1213" y="250" width="1" height="4" fill="#009bff"/>
<rect x="1174" y="247" width="40" height="4" fill="#008dff"/>
<rect x="1174" y="247" width="1" height="4" fill="#008dff"/><rect x="1213" y="247" width="1" height="4" fill="#008dff"/>
<rect x="1174" y="244" width="40" height="4" fill="#007fff"/>
<rect x="1174" y="244" width="1" height="4" fill="#007fff"/><rect x="1213" y="244" width="1" height="4" fill="#007fff"/>
<rect x="1174" y="241" width="40" height="4" fill="#0071ff"/>
<rect x="1174" y="241" width="1" height="4" fill="#0071ff"/><rect x="1213" y="241" width="1" height="4" fill="#0071ff"/>
<rect x="1174" y="237" width="40" height="5" fill="#0063ff"/>
<rect x="1174" y="237" width="1" height="5" fill="#0063ff"/><rect x="1213" y="237" width="1" height="5" fill="#0063ff"/>
<rect x="1174" y="234" width="40" height="4" fill="#0055ff"/>
<rect x="1174" y="234" width="1" height="4" fill="#0055ff"/><rect x="1213" y="234" width="1" height="4" fill="#0055ff"/>
<rect x="1174" y="231" width="40" height="4" fill="#0047ff"/>
<rect x="1174" y="231" width="1" height="4" fill="#0047ff"/><rect x="1213" y="231" width="1" height="4" fill="#0047ff"/>
<rect x="1174" y="228" width="40" height="4" fill="#0038ff"/>
<rect x="1174" y="228" width="1" height="4" fill="#0038ff"/><rect x="1213" y="228" width="1" height="4" fill="#0038ff"/>
<rect x="1174" y="225" width="40" height="4" fill="#002aff"/>
<rect x="1174" y="225" width="1" height="4" fill="#002aff"/><rect x="1213" y="225" width="1" height="4" fill="#002aff"/>
<rect x="1174" y="221" width="40" height="5" fill="#001cff"/>
<rect x="1174" y="221" width="1" height="5" fill="#001cff"/><rect x="1213" y="221" width="1" height="5" fill="#001cff"/>
<rect x="1174" y="218" width="40" height="4" fill="#000eff"/>
<rect x="1174" y="218" width="1" height="4" fill="#000eff"/><rect x="1213" y="218" width="1" height="4" fill="#000eff"/>
<rect x="1174" y="215" width="40" height="4" fill="#0000ee"/>
<rect x="1174" y="215" width="1" height="4" fill="#0000ee"/><rect x="1213" y="215" width="1" height="4" fill="#0000ee"/>
<rect x="1174" y="212" width="40" height="4" fill="#0007de"/>
<rect x="1174" y="212" width="1" height="4" fill="#0007de"/><rect x="1213" y="212" width="1" height="4" fill="#0007de"/>
<rect x="1174" y="209" width="40" height="4" fill="#000ecd"/>
<rect x="1174" y="209" width="1" height="4" fill="#000ecd"/><rect x="1213" y="209" width="1" height="4" fill="#000ecd"/>
<rect x="1174" y="206" width="40" height="4" fill="#0014bc"/>
<rect x="1174" y="206" width="1" height="4" fill="#0014bc"/><rect x="1213" y="206" width="1" height="4" fill="#0014bc"/>
<rect x="1174" y="202" width="40" height="5" fill="#001bac"/>
<rect x="1174" y="202" width="1" height="5" fill="#001bac"/><rect x="1213" y="202" width="1" height="5" fill="#001bac"/>
<rect x="1174" y="199" width="40" height="4" fill="#00229b"/>
<rect x="1174" y="199" width="1" height="4" fill="#00229b"/><rect x="1213" y="199" width="1" height="4" fill="#00229b"/>
<rect x="1174" y="196" width="40" height="4" fill="#00298b"/>
<rect x="1174" y="196" width="1" height="4" fill="#00298b"/><rect x="1213" y="196" width="1" height="4" fill="#00298b"/>
<rect x="1174" y="193" width="40" height="4" fill="#002f7a"/>
<rect x="1174" y="193" width="1" height="4" fill="#002f7a"/><rect x="1213" y="193" width="1" height="4" fill="#002f7a"/>
<rect x="1174" y="190" width="40" height="4" fill="#003669"/>
<rect x="1174" y="190" width="1" height="4" fill="#003669"/><rect x="1213" y="190" width="1" height="4" fill="#003669"/>
<rect x="1174" y="186" width="40" height="5" fill="#003d59"/>
<rect x="1174" y="186" width="1" height="5" fill="#003d59"/><rect x="1213" y="186" width="1" height="5" fill="#003d59"/>
<rect x="1174" y="183" width="40" height="4" fill="#004448"/>
<rect x="1174" y="183" width="1" height="4" fill="#004448"/><rect x="1213" y="183" width="1" height="4" fill="#004448"/>
<rect x="1174" y="180" width="40" height="4" fill="#004b37"/>
<rect x="1174" y="180" width="1" height="4" fill="#004b37"/><rect x="1213" y="180" width="1" height="4" fill="#004b37"/>
<rect x="1174" y="177" width="40" height="4" fill="#005127"/>
<rect x="1174" y="177" width="1" height="4" fill="#005127"/><rect x="1213" y="177" width="1" height="4" fill="#005127"/>
<rect x="1174" y="174" width="40" height="4" fill="#005816"/>
<rect x="1174" y="174" width="1" height="4" fill="#005816"/><rect x="1213" y="174" width="1" height="4" fill="#005816"/>
<rect x="1174" y="171" width="40" height="4" fill="#005f06"/>
<rect x="1174" y="171" width="1" height="4" fill="#005f06"/><rect x="1213" y="171" width="1" height="4" fill="#005f06"/>
<rect x="1174" y="167" width="40" height="5" fill="#00580f"/>
<rect x="1174" y="167" width="1" height="5" fill="#00580f"/><rect x="1213" y="167" width="1" height="5" fill="#00580f"/>
<rect x="1174" y="164" width="40" height="4" fill="#005019"/>
<rect x="1174" y="164" width="1" height="4" fill="#005019"/><rect x="1213" y="164" width="1" height="4" fill="#005019"/>
<rect x="1174" y="161" width="40" height="4" fill="#004922"/>
<rect x="1174" y="161" width="1" height="4" fill="#004922"/><rect x="1213" y="161" width="1" height="4" fill="#004922"/>
<rect x="1174" y="158" width="40" height="4" fill="#00422b"/>
<rect x="1174" y="158" width="1" height="4" fill="#00422b"/><rect x="1213" y="158" width="1" height="4" fill="#00422b"/>
<rect x="1174" y="155" width="40" height="4" fill="#003a35"/>
<rect x="1174" y="155" width="1" height="4" fill="#003a35"/><rect x="1213" y="155" width="1" height="4" fill="#003a35"/>
<rect x="1174" y="151" width="40" height="5" fill="#00333e"/>
<rect x="1174" y="151" width="1" height="5" fill="#00333e"/><rect x="1213" y="151" width="1" height="5" fill="#00333e"/>
<rect x="1174" y="148" width="40" height="4" fill="#002c48"/>
<rect x="1174" y="148" width="1" height="4" fill="#002c48"/><rect x="1213" y="148" width="1" height="4" fill="#002c48"/>
<rect x="1174" y="145" width="40" height="4" fill="#002451"/>
<rect x="1174" y="145" width="1" height="4" fill="#002451"/><rect x="1213" y="145" width="1" height="4" fill="#002451"/>
<rect x="1174" y="142" width="40" height="4" fill="#001d5a"/>
<rect x="1174" y="142" width="1" height="4" fill="#001d5a"/><rect x="1213" y="142" width="1" height="4" fill="#001d5a"/>
<rect x="1174" y="139" width="40" height="4" fill="#001664"/>
<rect x="1174" y="139" width="1" height="4" fill="#001664"/><rect x="1213" y="139" width="1" height="4" fill="#001664"/>
<rect x="1174" y="135" width="40" height="5" fill="#000f6d"/>
<rect x="1174" y="135" width="1" height="5" fill="#000f6d"/><rect x="1213" y="135" width="1" height="5" fill="#000f6d"/>
<rect x="1174" y="132" width="40" height="4" fill="#000777"/>
<rect x="1174" y="132" width="1" height="4" fill="#000777"/><rect x="1213" y="132" width="1" height="4" fill="#000777"/>
<rect x="1174" y="130" width="40" height="3" fill="#000080"/>
<rect x="1174" y="130" width="1" height="3" fill="#000080"/><rect x="1213" y="130" width="1" height="3" fill="#000080"/>
<rect x="1174" y="130" width="40" height="1" fill="#000080"/>
</g>
<text x="1221" y="949" font-size="10" text-anchor="start" letter-spacing="-0.3">0</text>
<text x="1221" y="807" font-size="10" text-anchor="start" letter-spacing="-0.3">25</text>
<text x="1221" y="666" font-size="10" text-anchor="start" letter-spacing="-0.3">50</text>
<text x="1221" y="524" font-size="10" text-anchor="start" letter-spacing="-0.3">75</text>
<text x="1221" y="383" font-size="10" text-anchor="start" letter-spacing="-0.3">100</text>
<text x="1221" y="241" font-size="10" text-anchor="start" letter-spacing="-0.3">125</text>
<path d="M1214 945.5h4.7M1214 803.5h4.7M1214 662.5h4.7M1214 520.5h4.7M1214 379.5h4.7M1214 237.5h4.7" fill="none" stroke="#000" stroke-width="0.8"/>
<clipPath id="lc"><rect x="1341" y="129.6" width="279" height="271.8"/></clipPath>
<g clip-path="url(#lc)" fill="none" stroke-width="1.5" stroke-linecap="square" stroke-linejoin="round">
<path d="M1354 389H1607" stroke="#fef8fe"/>
<path d="M1354 389H1607" stroke="#fae1fb"/>
<path d="M1354 389H1607" stroke="#f7caf8"/>
<path d="M1354 389H1607" stroke="#f3b3f5"/>
<path d="M1354 389H1607" stroke="#ec84ef"/>
<path d="M1354 389H1607" stroke="#b64af9"/>
<path d="M1354 389H1607" stroke="#a62dff"/>
<path d="M1570.28 306.68 L1570.79 306.68 L1571.3 141.95 L1571.82 306.68 L1572.33 306.68 L1572.85 306.68 L1573.36 306.68 L1573.88 306.68 L1574.39 306.68M1577.48 306.68 L1577.99 224.32 L1578.51 306.68 L1579.02 306.68 L1579.54 306.68 L1580.05 306.68" stroke="#cf18ff"/>
<path d="M1354 389H1607" stroke="#f107ff"/>
<path d="M1552.27 379.61 L1552.78 385.61M1554.84 379.61 L1555.36 385.61M1570.28 375.32 L1570.79 375.32 L1571.3 347.86 L1571.82 375.32 L1572.33 375.32 L1572.85 375.32 L1573.36 375.32 L1573.88 375.32 L1574.39 375.32M1577.48 375.32 L1577.99 361.59 L1578.51 375.32 L1579.02 375.32 L1579.54 375.32 L1580.05 375.32" stroke="#ff00c3"/>
<path d="M1354 389H1607" stroke="#ff006a"/>
<path d="M1354 389H1607" stroke="#ff0512"/>
<path d="M1354 389H1607" stroke="#ff1d00"/>
<path d="M1354 389H1607" stroke="#ff3400"/>
<path d="M1354 389H1607" stroke="#ff5002"/>
<path d="M1354 389H1607" stroke="#ff8107"/>
<path d="M1354 389H1607" stroke="#ffaa0c"/>
<path d="M1354 389H1607" stroke="#ffc10b"/>
<path d="M1353.68 387.33 L1354.2 387.33 L1354.71 387.33 L1355.23 387.33 L1355.74 387.33 L1356.25 387.33 L1356.77 387.33 L1357.28 387.33 L1357.8 387.33 L1358.31 387.33 L1358.83 387.33 L1359.34 387.33 L1359.86 387.33 L1360.37 387.33 L1360.88 387.33 L1361.4 387.33 L1361.91 387.33 L1362.43 387.33 L1362.94 387.33 L1363.46 387.33 L1363.97 387.33 L1364.49 387.33 L1365 387.33 L1365.51 387.33 L1366.03 387.33 L1366.54 387.33 L1367.06 387.33 L1367.57 387.33 L1368.09 387.33 L1368.6 387.33 L1369.12 387.33 L1369.63 387.33 L1370.15 387.33 L1370.66 387.33 L1371.17 387.33 L1371.69 385.61 L1372.2 387.33 L1372.72 387.33 L1373.23 387.33M1374.26 387.33 L1374.78 387.33 L1375.29 387.33M1376.32 387.33 L1376.83 387.33 L1377.35 387.33 L1377.86 387.33 L1378.38 387.33 L1378.89 387.33 L1379.41 387.33 L1379.92 387.33M1380.95 387.33 L1381.46 387.33 L1381.98 387.33 L1382.49 387.33 L1383.01 387.33 L1383.52 387.33 L1384.04 387.33 L1384.55 387.33 L1385.06 387.33 L1385.58 387.33 L1386.09 387.33 L1386.61 387.33 L1387.12 387.33 L1387.64 387.33 L1388.15 387.33 L1388.67 387.33 L1389.18 387.33 L1389.7 387.33 L1390.21 387.33 L1390.72 387.33 L1391.24 387.33 L1391.75 387.33 L1392.27 387.33 L1392.78 387.33M1393.81 387.33 L1394.33 387.33 L1394.84 387.33 L1395.35 387.33 L1395.87 387.33 L1396.38 387.33 L1396.9 387.33 L1397.41 387.33 L1397.93 387.33 L1398.44 387.33 L1398.96 387.33 L1399.47 387.33 L1399.98 387.33 L1400.5 387.33 L1401.01 387.33 L1401.53 387.33 L1402.04 387.33M1403.07 387.33 L1403.59 387.33 L1404.1 387.33 L1404.61 387.33 L1405.13 387.33 L1405.64 387.33 L1406.16 387.33M1407.19 387.33 L1407.7 387.33 L1408.22 387.33 L1408.73 387.33 L1409.25 387.33 L1409.76 387.33 L1410.27 387.33 L1410.79 387.33 L1411.3 387.33 L1411.82 387.33 L1412.33 387.33 L1412.85 387.33 L1413.36 387.33 L1413.88 387.33 L1414.39 387.33 L1414.9 387.33 L1415.42 387.33 L1415.93 387.33 L1416.45 387.33 L1416.96 387.33 L1417.48 387.33 L1417.99 387.33 L1418.51 387.33 L1419.02 387.33M1420.05 387.33 L1420.56 387.33 L1421.08 387.33 L1421.59 387.33 L1422.11 387.33 L1422.62 387.33 L1423.14 387.33 L1423.65 387.33 L1424.16 387.33 L1424.68 387.33 L1425.19 387.33 L1425.71 387.33 L1426.22 387.33 L1426.74 387.33 L1427.25 387.33 L1427.77 387.33 L1428.28 387.33 L1428.8 387.33 L1429.31 387.33 L1429.82 387.33 L1430.34 387.33 L1430.85 387.33 L1431.37 387.33 L1431.88 387.33 L1432.4 387.33 L1432.91 387.33 L1433.43 387.33 L1433.94 387.33 L1434.45 387.33 L1434.97 387.33 L1435.48 387.33 L1436 387.33 L1436.51 387.33 L1437.03 387.33 L1437.54 387.33 L1438.06 387.33 L1438.57 387.33 L1439.08 387.33 L1439.6 387.33 L1440.11 387.33 L1440.63 387.33 L1441.14 387.33 L1441.66 387.33 L1442.17 387.33 L1442.69 387.33 L1443.2 387.33 L1443.72 387.33 L1444.23 387.33 L1444.74 387.33 L1445.26 387.33 L1445.77 387.33 L1446.29 387.33 L1446.8 387.33 L1447.32 387.33 L1447.83 387.33 L1448.35 387.33 L1448.86 387.33 L1449.37 387.33 L1449.89 387.33M1450.92 387.33 L1451.43 387.33 L1451.95 387.33 L1452.46 387.33 L1452.98 387.33 L1453.49 387.33 L1454 387.33 L1454.52 387.33 L1455.03 387.33 L1455.55 387.33 L1456.06 387.33 L1456.58 387.33 L1457.09 387.33 L1457.61 387.33 L1458.12 387.33 L1458.63 387.33 L1459.15 387.33 L1459.66 387.33 L1460.18 387.33 L1460.69 387.33M1461.72 387.33 L1462.24 387.33 L1462.75 387.33 L1463.27 387.33 L1463.78 387.33 L1464.29 387.33 L1464.81 387.33 L1465.32 387.33 L1465.84 387.33 L1466.35 387.33 L1466.87 387.33 L1467.38 387.33 L1467.9 387.33 L1468.41 387.33 L1468.92 387.33 L1469.44 387.33 L1469.95 387.33 L1470.47 387.33 L1470.98 387.33 L1471.5 387.33 L1472.01 387.33 L1472.53 387.33 L1473.04 387.33 L1473.55 387.33 L1474.07 387.33 L1474.58 387.33 L1475.1 387.33 L1475.61 387.33 L1476.13 387.33 L1476.64 387.33 L1477.16 387.33 L1477.67 387.33 L1478.18 387.33 L1478.7 387.33 L1479.21 387.33 L1479.73 387.33 L1480.24 387.33 L1480.76 387.33 L1481.27 387.33 L1481.79 387.33 L1482.3 387.33 L1482.82 387.33 L1483.33 387.33 L1483.84 387.33 L1484.36 387.33 L1484.87 387.33 L1485.39 387.33 L1485.9 387.33 L1486.42 387.33 L1486.93 387.33M1487.96 387.33 L1488.47 387.33 L1488.99 387.33 L1489.5 387.33 L1490.02 387.33 L1490.53 387.33 L1491.05 387.33 L1491.56 387.33 L1492.08 387.33 L1492.59 387.33 L1493.1 387.33 L1493.62 387.33 L1494.13 387.33 L1494.65 387.33 L1495.16 387.33 L1495.68 387.33 L1496.19 387.33 L1496.71 387.33 L1497.22 387.33 L1497.73 387.33 L1498.25 387.33 L1498.76 387.33 L1499.28 387.33 L1499.79 387.33 L1500.31 387.33 L1500.82 387.33 L1501.34 387.33 L1501.85 387.33 L1502.37 387.33 L1502.88 387.33 L1503.39 387.33 L1503.91 387.33 L1504.42 387.33 L1504.94 387.33 L1505.45 387.33 L1505.97 387.33 L1506.48 387.33 L1507 387.33 L1507.51 387.33M1508.54 387.33 L1509.05 387.33 L1509.57 387.33 L1510.08 387.33 L1510.6 387.33 L1511.11 387.33 L1511.63 387.33 L1512.14 387.33 L1512.65 387.33 L1513.17 387.33 L1513.68 387.33 L1514.2 387.33 L1514.71 387.33 L1515.23 387.33 L1515.74 387.33 L1516.26 387.33 L1516.77 387.33 L1517.28 387.33 L1517.8 387.33 L1518.31 387.33 L1518.83 387.33 L1519.34 387.33 L1519.86 387.33 L1520.37 387.33 L1520.89 387.33 L1521.4 387.33 L1521.92 387.33 L1522.43 387.33 L1522.94 387.33 L1523.46 387.33 L1523.97 387.33 L1524.49 387.33 L1525 387.33 L1525.52 387.33 L1526.03 387.33 L1526.55 387.33 L1527.06 387.33 L1527.57 387.33 L1528.09 387.33 L1528.6 387.33 L1529.12 387.33 L1529.63 387.33 L1530.15 387.33 L1530.66 387.33 L1531.18 387.33 L1531.69 387.33M1532.72 387.33 L1533.23 387.33 L1533.75 387.33 L1534.26 387.33 L1534.78 387.33 L1535.29 387.33 L1535.81 387.33 L1536.32 387.33 L1536.84 387.33 L1537.35 387.33 L1537.86 387.33 L1538.38 387.33 L1538.89 387.33 L1539.41 387.33 L1539.92 387.33 L1540.44 387.33 L1540.95 387.33 L1541.47 387.33 L1541.98 387.33 L1542.49 387.33 L1543.01 387.33 L1543.52 387.33 L1544.04 387.33 L1544.55 387.33 L1545.07 387.33 L1545.58 387.33 L1546.1 387.33 L1546.61 387.33 L1547.12 387.33 L1547.64 387.33 L1548.15 387.33 L1548.67 387.33 L1549.18 387.33 L1549.7 387.33 L1550.21 387.33 L1550.73 387.33 L1551.24 387.33 L1551.75 387.33 L1552.27 387.33 L1552.78 385.61 L1553.3 387.33 L1553.81 387.33 L1554.33 387.33 L1554.84 385.61 L1555.36 387.33 L1555.87 387.33 L1556.39 387.33 L1556.9 387.33 L1557.41 385.61 L1557.93 387.33 L1558.44 387.33 L1558.96 387.33 L1559.47 385.61 L1559.99 387.33 L1560.5 385.61 L1561.02 387.33 L1561.53 387.33 L1562.04 387.33 L1562.56 387.33 L1563.07 385.61 L1563.59 387.33 L1564.1 385.61 L1564.62 387.33 L1565.13 385.61 L1565.65 387.33 L1566.16 385.61 L1566.67 387.33 L1567.19 385.61 L1567.7 387.33 L1568.22 387.33 L1568.73 387.33 L1569.25 387.33 L1569.76 387.33 L1570.28 385.61 L1570.79 385.61 L1571.3 385.61 L1571.82 385.61 L1572.33 385.61 L1572.85 387.33 L1573.36 387.33 L1573.88 385.61 L1574.39 385.61 L1574.91 387.33 L1575.42 387.33 L1575.94 383.9 L1576.45 387.33 L1576.96 387.33 L1577.48 385.61 L1577.99 385.61 L1578.51 387.33 L1579.02 387.33 L1579.54 385.61 L1580.05 387.33 L1580.57 387.33 L1581.08 385.61 L1581.59 387.33 L1582.11 385.61 L1582.62 387.33 L1583.14 387.33 L1583.65 387.33 L1584.17 387.33 L1584.68 387.33 L1585.2 387.33 L1585.71 387.33 L1586.22 387.33 L1586.74 387.33 L1587.25 387.33 L1587.77 387.33 L1588.28 387.33 L1588.8 387.33 L1589.31 387.33 L1589.83 387.33 L1590.34 387.33 L1590.85 387.33 L1591.37 387.33 L1591.88 387.33 L1592.4 387.33 L1592.91 387.33 L1593.43 387.33 L1593.94 387.33 L1594.46 387.33 L1594.97 387.33 L1595.49 385.61 L1596 387.33 L1596.51 387.33 L1597.03 387.33 L1597.54 387.33 L1598.06 387.33 L1598.57 387.33 L1599.09 387.33 L1599.6 387.33 L1600.12 387.33 L1600.63 387.33 L1601.14 387.33 L1601.66 387.33 L1602.17 387.33 L1602.69 387.33 L1603.2 387.33 L1603.72 387.33 L1604.23 387.33 L1604.75 387.33 L1605.26 387.33 L1605.77 387.33 L1606.29 387.33 L1606.8 387.33 L1607.32 387.33" stroke="#ffce05"/>
<path d="M1354 389H1607" stroke="#ffda00"/>
<path d="M1354 389H1607" stroke="#fff300"/>
<path d="M1354 389H1607" stroke="#f1ff0c"/>
<path d="M1354 389H1607" stroke="#d6ff24"/>
<path d="M1354 389H1607" stroke="#bfff38"/>
<path d="M1354 389H1607" stroke="#a9ff2c"/>
<path d="M1354 389H1607" stroke="#92ff18"/>
<path d="M1354 389H1607" stroke="#7ef804"/>
<path d="M1354 389H1607" stroke="#74e800"/>
<path d="M1354 389H1607" stroke="#53d600"/>
<path d="M1437.03 377.03 L1437.54 359.87M1511.11 377.03 L1511.63 359.87" stroke="#33e800"/>
<path d="M1353.68 383.9 L1354.2 387.33 L1354.71 387.33 L1355.23 385.61 L1355.74 387.33 L1356.25 387.33 L1356.77 383.9 L1357.28 387.33 L1357.8 387.33 L1358.31 385.61 L1358.83 387.33 L1359.34 387.33 L1359.86 383.9 L1360.37 387.33 L1360.88 387.33 L1361.4 385.61 L1361.91 387.33 L1362.43 387.33 L1362.94 383.9 L1363.46 387.33 L1363.97 387.33 L1364.49 385.61 L1365 387.33 L1365.51 387.33 L1366.03 383.9 L1366.54 387.33 L1367.06 387.33 L1367.57 385.61 L1368.09 387.33 L1368.6 387.33 L1369.12 383.9 L1369.63 387.33 L1370.15 387.33 L1370.66 385.61 L1371.17 387.33 L1371.69 387.33 L1372.2 383.9 L1372.72 387.33 L1373.23 387.33 L1373.75 385.61 L1374.26 387.33 L1374.78 387.33 L1375.29 382.18 L1375.8 387.33 L1376.32 387.33 L1376.83 385.61 L1377.35 387.33 L1377.86 387.33 L1378.38 383.9 L1378.89 387.33 L1379.41 387.33 L1379.92 385.61 L1380.43 387.33 L1380.95 387.33 L1381.46 383.9 L1381.98 387.33 L1382.49 387.33 L1383.01 385.61 L1383.52 387.33 L1384.04 387.33 L1384.55 383.9 L1385.06 387.33 L1385.58 387.33 L1386.09 385.61 L1386.61 387.33 L1387.12 387.33 L1387.64 383.9 L1388.15 387.33 L1388.67 387.33 L1389.18 385.61 L1389.7 387.33 L1390.21 387.33 L1390.72 383.9 L1391.24 387.33 L1391.75 387.33 L1392.27 385.61 L1392.78 387.33 L1393.3 387.33 L1393.81 383.9 L1394.33 387.33 L1394.84 387.33 L1395.35 385.61 L1395.87 387.33 L1396.38 387.33 L1396.9 383.9 L1397.41 387.33 L1397.93 387.33 L1398.44 385.61 L1398.96 387.33 L1399.47 387.33 L1399.98 383.9 L1400.5 387.33 L1401.01 387.33 L1401.53 385.61 L1402.04 387.33 L1402.56 387.33 L1403.07 382.18 L1403.59 387.33 L1404.1 387.33 L1404.61 385.61 L1405.13 387.33 L1405.64 387.33 L1406.16 383.9 L1406.67 387.33 L1407.19 387.33 L1407.7 385.61 L1408.22 387.33 L1408.73 387.33 L1409.25 383.9 L1409.76 387.33 L1410.27 387.33 L1410.79 385.61 L1411.3 387.33 L1411.82 387.33 L1412.33 383.9 L1412.85 387.33 L1413.36 387.33 L1413.88 385.61 L1414.39 387.33 L1414.9 387.33 L1415.42 383.9 L1415.93 387.33 L1416.45 387.33 L1416.96 385.61 L1417.48 387.33 L1417.99 387.33 L1418.51 383.9 L1419.02 387.33 L1419.53 387.33 L1420.05 385.61 L1420.56 387.33 L1421.08 387.33 L1421.59 383.9 L1422.11 387.33 L1422.62 387.33 L1423.14 385.61 L1423.65 387.33 L1424.16 387.33 L1424.68 383.9 L1425.19 387.33 L1425.71 387.33 L1426.22 385.61 L1426.74 387.33 L1427.25 387.33 L1427.77 383.9 L1428.28 387.33 L1428.8 387.33 L1429.31 385.61 L1429.82 387.33 L1430.34 387.33 L1430.85 382.18 L1431.37 387.33 L1431.88 387.33 L1432.4 385.61 L1432.91 387.33 L1433.43 387.33 L1433.94 383.9 L1434.45 387.33 L1434.97 387.33 L1435.48 385.61 L1436 387.33 L1436.51 387.33 L1437.03 383.9 L1437.54 387.33 L1438.06 387.33 L1438.57 385.61 L1439.08 387.33 L1439.6 387.33 L1440.11 383.9 L1440.63 387.33 L1441.14 387.33 L1441.66 385.61 L1442.17 387.33 L1442.69 387.33 L1443.2 383.9 L1443.72 387.33 L1444.23 387.33 L1444.74 385.61 L1445.26 387.33 L1445.77 387.33 L1446.29 383.9 L1446.8 387.33 L1447.32 387.33 L1447.83 385.61 L1448.35 387.33 L1448.86 387.33 L1449.37 382.18 L1449.89 387.33 L1450.4 387.33 L1450.92 385.61 L1451.43 387.33 L1451.95 387.33 L1452.46 383.9 L1452.98 387.33 L1453.49 387.33 L1454 385.61 L1454.52 387.33 L1455.03 387.33 L1455.55 383.9 L1456.06 387.33 L1456.58 387.33 L1457.09 385.61 L1457.61 387.33 L1458.12 387.33 L1458.63 383.9 L1459.15 387.33 L1459.66 387.33 L1460.18 385.61 L1460.69 387.33 L1461.21 387.33 L1461.72 383.9 L1462.24 387.33 L1462.75 387.33 L1463.27 385.61 L1463.78 387.33 L1464.29 387.33 L1464.81 383.9 L1465.32 387.33 L1465.84 387.33 L1466.35 385.61 L1466.87 387.33 L1467.38 387.33 L1467.9 383.9 L1468.41 387.33 L1468.92 387.33 L1469.44 385.61 L1469.95 387.33 L1470.47 387.33 L1470.98 383.9 L1471.5 387.33 L1472.01 387.33 L1472.53 385.61 L1473.04 387.33 L1473.55 387.33 L1474.07 383.9 L1474.58 387.33 L1475.1 387.33 L1475.61 385.61 L1476.13 387.33 L1476.64 387.33 L1477.16 382.18 L1477.67 387.33 L1478.18 387.33 L1478.7 385.61 L1479.21 387.33 L1479.73 387.33 L1480.24 383.9 L1480.76 387.33 L1481.27 387.33 L1481.79 385.61 L1482.3 387.33 L1482.82 387.33 L1483.33 383.9 L1483.84 387.33 L1484.36 387.33 L1484.87 385.61 L1485.39 387.33 L1485.9 387.33 L1486.42 383.9 L1486.93 387.33 L1487.45 387.33 L1487.96 385.61 L1488.47 387.33 L1488.99 387.33 L1489.5 383.9 L1490.02 387.33 L1490.53 387.33 L1491.05 385.61 L1491.56 387.33 L1492.08 387.33 L1492.59 383.9 L1493.1 387.33 L1493.62 387.33 L1494.13 385.61 L1494.65 387.33 L1495.16 387.33 L1495.68 383.9 L1496.19 387.33 L1496.71 387.33 L1497.22 385.61 L1497.73 387.33 L1498.25 387.33 L1498.76 383.9 L1499.28 387.33 L1499.79 387.33 L1500.31 385.61 L1500.82 387.33 L1501.34 387.33 L1501.85 383.9 L1502.37 387.33 L1502.88 387.33 L1503.39 385.61 L1503.91 387.33 L1504.42 387.33 L1504.94 383.9 L1505.45 387.33 L1505.97 387.33 L1506.48 385.61 L1507 387.33 L1507.51 387.33 L1508.02 383.9 L1508.54 387.33 L1509.05 387.33 L1509.57 385.61 L1510.08 387.33 L1510.6 387.33 L1511.11 383.9 L1511.63 387.33 L1512.14 387.33 L1512.65 385.61 L1513.17 387.33 L1513.68 387.33 L1514.2 383.9 L1514.71 387.33 L1515.23 387.33 L1515.74 385.61 L1516.26 387.33 L1516.77 387.33 L1517.28 383.9 L1517.8 387.33 L1518.31 387.33 L1518.83 385.61 L1519.34 387.33 L1519.86 387.33 L1520.37 383.9 L1520.89 387.33 L1521.4 387.33 L1521.92 385.61 L1522.43 387.33 L1522.94 387.33 L1523.46 382.18 L1523.97 387.33 L1524.49 387.33 L1525 385.61 L1525.52 387.33 L1526.03 387.33 L1526.55 383.9 L1527.06 387.33 L1527.57 387.33 L1528.09 385.61 L1528.6 387.33 L1529.12 387.33 L1529.63 383.9 L1530.15 387.33 L1530.66 387.33 L1531.18 385.61 L1531.69 387.33 L1532.2 387.33 L1532.72 383.9 L1533.23 387.33 L1533.75 387.33 L1534.26 385.61 L1534.78 387.33 L1535.29 387.33 L1535.81 383.9 L1536.32 387.33 L1536.84 387.33 L1537.35 385.61 L1537.86 387.33 L1538.38 387.33 L1538.89 383.9 L1539.41 387.33 L1539.92 387.33 L1540.44 385.61 L1540.95 387.33 L1541.47 387.33 L1541.98 383.9 L1542.49 387.33 L1543.01 387.33 L1543.52 385.61 L1544.04 387.33 L1544.55 387.33 L1545.07 383.9 L1545.58 387.33 L1546.1 387.33 L1546.61 385.61 L1547.12 387.33 L1547.64 387.33 L1548.15 383.9 L1548.67 387.33 L1549.18 387.33 L1549.7 385.61 L1550.21 387.33 L1550.73 387.33 L1551.24 382.18 L1551.75 387.33 L1552.27 387.33 L1552.78 385.61 L1553.3 387.33 L1553.81 387.33 L1554.33 383.9 L1554.84 387.33 L1555.36 387.33 L1555.87 385.61 L1556.39 387.33 L1556.9 387.33 L1557.41 383.9 L1557.93 387.33 L1558.44 387.33 L1558.96 385.61 L1559.47 387.33 L1559.99 387.33 L1560.5 383.9 L1561.02 387.33 L1561.53 387.33 L1562.04 385.61 L1562.56 387.33 L1563.07 387.33 L1563.59 383.9 L1564.1 387.33 L1564.62 387.33 L1565.13 385.61 L1565.65 387.33 L1566.16 387.33 L1566.67 383.9 L1567.19 387.33 L1567.7 387.33 L1568.22 385.61 L1568.73 387.33 L1569.25 387.33 L1569.76 383.9 L1570.28 387.33 L1570.79 387.33 L1571.3 385.61 L1571.82 387.33 L1572.33 387.33 L1572.85 383.9 L1573.36 387.33 L1573.88 387.33 L1574.39 385.61 L1574.91 387.33 L1575.42 387.33 L1575.94 383.9 L1576.45 387.33 L1576.96 387.33 L1577.48 385.61 L1577.99 387.33 L1578.51 387.33 L1579.02 383.9 L1579.54 387.33 L1580.05 387.33 L1580.57 385.61 L1581.08 387.33 L1581.59 387.33 L1582.11 383.9 L1582.62 387.33 L1583.14 387.33 L1583.65 385.61 L1584.17 387.33 L1584.68 387.33 L1585.2 383.9 L1585.71 387.33 L1586.22 387.33 L1586.74 385.61 L1587.25 387.33 L1587.77 387.33 L1588.28 383.9 L1588.8 387.33 L1589.31 387.33 L1589.83 385.61 L1590.34 387.33 L1590.85 387.33 L1591.37 383.9 L1591.88 387.33 L1592.4 387.33 L1592.91 385.61 L1593.43 387.33 L1593.94 387.33 L1594.46 383.9 L1594.97 387.33 L1595.49 387.33 L1596 385.61 L1596.51 387.33 L1597.03 387.33 L1597.54 382.18 L1598.06 387.33 L1598.57 387.33 L1599.09 385.61 L1599.6 387.33 L1600.12 387.33 L1600.63 383.9 L1601.14 387.33 L1601.66 387.33 L1602.17 385.61 L1602.69 387.33 L1603.2 387.33 L1603.72 383.9 L1604.23 387.33 L1604.75 387.33 L1605.26 385.61 L1605.77 387.33 L1606.29 387.33 L1606.8 383.9 L1607.32 387.33" stroke="#0dff0b"/>
<path d="M1354 389H1607" stroke="#00fd3f"/>
<path d="M1354 389H1607" stroke="#00fb73"/>
<path d="M1354 389H1607" stroke="#00faa3"/>
<path d="M1354 389H1607" stroke="#00fcc4"/>
<path d="M1354 389H1607" stroke="#00ffe5"/>
<path d="M1353.68 380.47 L1354.2 380.47 L1354.71 380.47 L1355.23 380.47 L1355.74 380.47 L1356.25 380.47 L1356.77 380.47 L1357.28 380.47 L1357.8 380.47 L1358.31 380.47 L1358.83 380.47 L1359.34 380.47 L1359.86 380.47 L1360.37 380.47 L1360.88 380.47 L1361.4 380.47 L1361.91 380.47 L1362.43 380.47 L1362.94 380.47 L1363.46 380.47 L1363.97 380.47 L1364.49 380.47 L1365 380.47 L1365.51 380.47 L1366.03 380.47 L1366.54 380.47 L1367.06 380.47 L1367.57 380.47 L1368.09 380.47 L1368.6 380.47 L1369.12 380.47 L1369.63 380.47 L1370.15 380.47 L1370.66 380.47 L1371.17 380.47 L1371.69 380.47 L1372.2 380.47 L1372.72 380.47 L1373.23 380.47 L1373.75 380.47 L1374.26 380.47 L1374.78 380.47 L1375.29 380.47 L1375.8 380.47 L1376.32 380.47 L1376.83 380.47 L1377.35 380.47 L1377.86 380.47 L1378.38 380.47 L1378.89 380.47 L1379.41 380.47 L1379.92 380.47 L1380.43 380.47 L1380.95 380.47 L1381.46 380.47 L1381.98 380.47 L1382.49 380.47 L1383.01 380.47 L1383.52 380.47 L1384.04 380.47 L1384.55 380.47 L1385.06 380.47 L1385.58 380.47 L1386.09 380.47 L1386.61 380.47 L1387.12 380.47 L1387.64 380.47 L1388.15 380.47 L1388.67 380.47 L1389.18 380.47 L1389.7 380.47 L1390.21 380.47 L1390.72 380.47 L1391.24 380.47 L1391.75 380.47 L1392.27 380.47 L1392.78 380.47 L1393.3 380.47 L1393.81 380.47 L1394.33 380.47 L1394.84 380.47 L1395.35 380.47 L1395.87 380.47 L1396.38 380.47 L1396.9 380.47 L1397.41 380.47 L1397.93 380.47 L1398.44 380.47 L1398.96 380.47 L1399.47 380.47 L1399.98 380.47 L1400.5 380.47 L1401.01 380.47 L1401.53 380.47 L1402.04 380.47 L1402.56 380.47 L1403.07 380.47 L1403.59 380.47 L1404.1 380.47 L1404.61 380.47 L1405.13 380.47 L1405.64 380.47 L1406.16 380.47 L1406.67 380.47 L1407.19 380.47 L1407.7 380.47 L1408.22 380.47 L1408.73 380.47 L1409.25 380.47 L1409.76 380.47 L1410.27 380.47 L1410.79 380.47 L1411.3 380.47 L1411.82 380.47 L1412.33 380.47 L1412.85 380.47 L1413.36 380.47 L1413.88 380.47 L1414.39 380.47 L1414.9 380.47 L1415.42 380.47 L1415.93 380.47 L1416.45 380.47 L1416.96 380.47 L1417.48 380.47 L1417.99 380.47 L1418.51 380.47 L1419.02 380.47 L1419.53 380.47 L1420.05 380.47 L1420.56 380.47 L1421.08 380.47 L1421.59 380.47 L1422.11 380.47 L1422.62 380.47 L1423.14 380.47 L1423.65 380.47 L1424.16 380.47 L1424.68 380.47 L1425.19 380.47 L1425.71 380.47 L1426.22 380.47 L1426.74 380.47 L1427.25 380.47 L1427.77 380.47 L1428.28 380.47 L1428.8 380.47 L1429.31 380.47 L1429.82 380.47 L1430.34 380.47 L1430.85 380.47 L1431.37 380.47 L1431.88 380.47 L1432.4 380.47 L1432.91 380.47 L1433.43 380.47 L1433.94 380.47 L1434.45 380.47 L1434.97 380.47 L1435.48 380.47 L1436 380.47 L1436.51 380.47 L1437.03 380.47 L1437.54 380.47 L1438.06 380.47 L1438.57 380.47 L1439.08 380.47 L1439.6 380.47 L1440.11 380.47 L1440.63 380.47 L1441.14 380.47 L1441.66 380.47 L1442.17 380.47 L1442.69 380.47 L1443.2 380.47 L1443.72 380.47 L1444.23 380.47 L1444.74 380.47 L1445.26 380.47 L1445.77 380.47 L1446.29 380.47 L1446.8 380.47 L1447.32 380.47 L1447.83 380.47 L1448.35 380.47 L1448.86 380.47 L1449.37 380.47 L1449.89 380.47 L1450.4 380.47 L1450.92 380.47 L1451.43 380.47 L1451.95 380.47 L1452.46 380.47 L1452.98 380.47 L1453.49 380.47 L1454 380.47 L1454.52 380.47 L1455.03 380.47 L1455.55 380.47 L1456.06 380.47 L1456.58 380.47 L1457.09 380.47 L1457.61 380.47 L1458.12 380.47 L1458.63 380.47 L1459.15 380.47 L1459.66 380.47 L1460.18 380.47 L1460.69 380.47 L1461.21 380.47 L1461.72 380.47 L1462.24 380.47 L1462.75 380.47 L1463.27 380.47 L1463.78 380.47 L1464.29 380.47 L1464.81 380.47 L1465.32 380.47 L1465.84 380.47 L1466.35 380.47 L1466.87 380.47 L1467.38 380.47 L1467.9 380.47 L1468.41 380.47 L1468.92 380.47 L1469.44 380.47 L1469.95 380.47 L1470.47 380.47 L1470.98 380.47 L1471.5 380.47 L1472.01 380.47 L1472.53 380.47 L1473.04 380.47 L1473.55 380.47 L1474.07 380.47 L1474.58 380.47 L1475.1 380.47 L1475.61 380.47 L1476.13 380.47 L1476.64 380.47 L1477.16 380.47 L1477.67 380.47 L1478.18 380.47 L1478.7 380.47 L1479.21 380.47 L1479.73 380.47 L1480.24 380.47 L1480.76 380.47 L1481.27 380.47 L1481.79 380.47 L1482.3 380.47 L1482.82 380.47 L1483.33 380.47 L1483.84 380.47 L1484.36 380.47 L1484.87 380.47 L1485.39 380.47 L1485.9 380.47 L1486.42 380.47 L1486.93 380.47 L1487.45 380.47 L1487.96 380.47 L1488.47 380.47 L1488.99 380.47 L1489.5 380.47 L1490.02 380.47 L1490.53 380.47 L1491.05 380.47 L1491.56 380.47 L1492.08 380.47 L1492.59 380.47 L1493.1 380.47 L1493.62 380.47 L1494.13 380.47 L1494.65 380.47 L1495.16 380.47 L1495.68 380.47 L1496.19 380.47 L1496.71 380.47 L1497.22 380.47 L1497.73 380.47 L1498.25 380.47 L1498.76 380.47 L1499.28 380.47 L1499.79 380.47 L1500.31 380.47 L1500.82 380.47 L1501.34 380.47 L1501.85 380.47 L1502.37 380.47 L1502.88 380.47 L1503.39 380.47 L1503.91 380.47 L1504.42 380.47 L1504.94 380.47 L1505.45 380.47 L1505.97 380.47 L1506.48 380.47 L1507 380.47 L1507.51 380.47 L1508.02 380.47 L1508.54 380.47 L1509.05 380.47 L1509.57 380.47 L1510.08 380.47 L1510.6 380.47 L1511.11 380.47 L1511.63 380.47 L1512.14 380.47 L1512.65 380.47 L1513.17 380.47 L1513.68 380.47 L1514.2 380.47 L1514.71 380.47 L1515.23 380.47 L1515.74 380.47 L1516.26 380.47 L1516.77 380.47 L1517.28 380.47 L1517.8 380.47 L1518.31 380.47 L1518.83 380.47 L1519.34 380.47 L1519.86 380.47 L1520.37 380.47 L1520.89 380.47 L1521.4 380.47 L1521.92 380.47 L1522.43 380.47 L1522.94 380.47 L1523.46 380.47 L1523.97 380.47 L1524.49 380.47 L1525 380.47 L1525.52 380.47 L1526.03 380.47 L1526.55 380.47 L1527.06 380.47 L1527.57 380.47 L1528.09 380.47 L1528.6 380.47 L1529.12 363.31 L1529.63 380.47 L1530.15 380.47 L1530.66 380.47 L1531.18 380.47 L1531.69 380.47 L1532.2 380.47 L1532.72 380.47 L1533.23 380.47 L1533.75 380.47 L1534.26 380.47 L1534.78 380.47 L1535.29 380.47 L1535.81 380.47 L1536.32 380.47 L1536.84 380.47 L1537.35 380.47 L1537.86 380.47 L1538.38 380.47 L1538.89 380.47 L1539.41 380.47 L1539.92 380.47 L1540.44 380.47 L1540.95 380.47 L1541.47 380.47 L1541.98 380.47 L1542.49 380.47 L1543.01 380.47 L1543.52 380.47 L1544.04 380.47 L1544.55 380.47 L1545.07 380.47 L1545.58 380.47 L1546.1 380.47 L1546.61 380.47 L1547.12 380.47 L1547.64 380.47 L1548.15 380.47 L1548.67 380.47 L1549.18 380.47 L1549.7 380.47 L1550.21 371.89 L1550.73 380.47 L1551.24 380.47 L1551.75 380.47 L1552.27 380.47 L1552.78 380.47 L1553.3 380.47 L1553.81 380.47 L1554.33 380.47 L1554.84 380.47 L1555.36 380.47 L1555.87 380.47 L1556.39 380.47 L1556.9 380.47 L1557.41 380.47 L1557.93 380.47 L1558.44 380.47 L1558.96 380.47 L1559.47 380.47 L1559.99 380.47 L1560.5 380.47 L1561.02 380.47 L1561.53 380.47 L1562.04 380.47 L1562.56 380.47 L1563.07 380.47 L1563.59 380.47 L1564.1 380.47 L1564.62 380.47 L1565.13 380.47 L1565.65 380.47 L1566.16 380.47 L1566.67 380.47 L1567.19 380.47 L1567.7 380.47 L1568.22 380.47 L1568.73 380.47 L1569.25 380.47 L1569.76 380.47 L1570.28 380.47 L1570.79 380.47 L1571.3 380.47 L1571.82 380.47 L1572.33 380.47 L1572.85 380.47 L1573.36 380.47 L1573.88 380.47 L1574.39 380.47 L1574.91 380.47 L1575.42 380.47 L1575.94 380.47 L1576.45 378.75 L1576.96 380.47 L1577.48 380.47 L1577.99 380.47 L1578.51 380.47 L1579.02 380.47 L1579.54 387.33 L1580.05 380.47 L1580.57 380.47 L1581.08 380.47 L1581.59 380.47 L1582.11 380.47 L1582.62 380.47 L1583.14 380.47 L1583.65 380.47 L1584.17 380.47 L1584.68 380.47 L1585.2 380.47 L1585.71 380.47 L1586.22 380.47 L1586.74 380.47 L1587.25 380.47 L1587.77 380.47 L1588.28 380.47 L1588.8 380.47 L1589.31 380.47 L1589.83 380.47 L1590.34 380.47 L1590.85 380.47 L1591.37 380.47 L1591.88 380.47 L1592.4 380.47 L1592.91 380.47 L1593.43 380.47 L1593.94 380.47 L1594.46 380.47 L1594.97 380.47 L1595.49 380.47 L1596 380.47 L1596.51 380.47 L1597.03 380.47 L1597.54 380.47 L1598.06 380.47 L1598.57 380.47 L1599.09 380.47 L1599.6 380.47 L1600.12 380.47 L1600.63 380.47 L1601.14 380.47 L1601.66 380.47 L1602.17 380.47 L1602.69 380.47 L1603.2 380.47 L1603.72 380.47 L1604.23 380.47 L1604.75 380.47 L1605.26 380.47 L1605.77 380.47 L1606.29 380.47 L1606.8 380.47 L1607.32 380.47" stroke="#00edff"/>
<path d="M1354 389H1607" stroke="#00d7ff"/>
<path d="M1354 389H1607" stroke="#00b8ff"/>
<path d="M1354 389H1607" stroke="#0071ff"/>
<path d="M1354 389H1607" stroke="#002aff"/>
<path d="M1354 389H1607" stroke="#002f7a"/>
<path d="M1354 389H1607" stroke="#005127"/>
<path d="M1354 389H1607" stroke="#004922"/>
<path d="M1354 389H1607" stroke="#002451"/>
<path d="M1354 389H1607" stroke="#000080"/>
</g>
<rect x="1341.5" y="130.5" width="279" height="271" fill="none" stroke="#000" stroke-width="0.8" shape-rendering="crispEdges"/>
<text x="1333.5" y="393" font-size="10" text-anchor="end" letter-spacing="-0.3">0</text>
<text x="1333.5" y="359" font-size="10" text-anchor="end" letter-spacing="-0.3">20</text>
<text x="1333.5" y="324" font-size="10" text-anchor="end" letter-spacing="-0.3">40</text>
<text x="1333.5" y="290" font-size="10" text-anchor="end" letter-spacing="-0.3">60</text>
<text x="1333.5" y="256" font-size="10" text-anchor="end" letter-spacing="-0.3">80</text>
<text x="1333.5" y="221" font-size="10" text-anchor="end" letter-spacing="-0.3">100</text>
<text x="1333.5" y="187" font-size="10" text-anchor="end" letter-spacing="-0.3">120</text>
<text x="1333.5" y="153" font-size="10" text-anchor="end" letter-spacing="-0.3">140</text>
<text transform="translate(1357 410.8) rotate(-90)" font-size="10" text-anchor="end" letter-spacing="-0.1">2017-12-09 00:30:00</text>
<text transform="translate(1382 410.8) rotate(-90)" font-size="10" text-anchor="end" letter-spacing="-0.1">2017-12-09 08:40:00</text>
<text transform="translate(1408 410.8) rotate(-90)" font-size="10" text-anchor="end" letter-spacing="-0.1">2017-12-09 16:50:00</text>
<text transform="translate(1433 410.8) rotate(-90)" font-size="10" text-anchor="end" letter-spacing="-0.1">2017-12-10 01:00:00</text>
<text transform="translate(1458 410.8) rotate(-90)" font-size="10" text-anchor="end" letter-spacing="-0.1">2017-12-10 09:10:00</text>
<text transform="translate(1483 410.8) rotate(-90)" font-size="10" text-anchor="end" letter-spacing="-0.1">2017-12-10 17:20:00</text>
<text transform="translate(1508 410.8) rotate(-90)" font-size="10" text-anchor="end" letter-spacing="-0.1">2017-12-11 01:30:00</text>
<text transform="translate(1534 410.8) rotate(-90)" font-size="10" text-anchor="end" letter-spacing="-0.1">2017-12-11 09:40:00</text>
<text transform="translate(1559 410.8) rotate(-90)" font-size="10" text-anchor="end" letter-spacing="-0.1">2017-12-11 17:50:00</text>
<text transform="translate(1584 410.8) rotate(-90)" font-size="10" text-anchor="end" letter-spacing="-0.1">2017-12-12 02:00:00</text>
<text transform="translate(1609 410.8) rotate(-90)" font-size="10" text-anchor="end" letter-spacing="-0.1">2017-12-12 10:10:00</text>
<path d="M1338 389.5h3.5M1338 355.5h3.5M1338 320.5h3.5M1338 286.5h3.5M1338 252.5h3.5M1338 217.5h3.5M1338 183.5h3.5M1338 149.5h3.5M1355.5 401.5v4M1380.5 401.5v4M1406.5 401.5v4M1431.5 401.5v4M1456.5 401.5v4M1481.5 401.5v4M1506.5 401.5v4M1532.5 401.5v4M1557.5 401.5v4M1582.5 401.5v4M1607.5 401.5v4" fill="none" stroke="#000" stroke-width="0.8"/>
<text x="1480.5" y="123.6" font-size="12" text-anchor="middle">taurusi6012 20171212 10:20:01</text>
<text x="1480.5" y="526.3" font-size="10" text-anchor="middle">date</text>
<rect x="1243.8" y="545.5" width="498.9" height="210" rx="2" ry="2" fill="#fff" fill-opacity="0.8" stroke="#ccc" stroke-width="1"/>
<g stroke-width="1.5" fill="none" stroke-linecap="square">
<path d="M1247 553h20" stroke="#fef8fe"/>
<path d="M1247 569h20" stroke="#fae1fb"/>
<path d="M1247 585h20" stroke="#f7caf8"/>
<path d="M1247 601h20" stroke="#f3b3f5"/>
<path d="M1247 617h20" stroke="#f09bf2"/>
<path d="M1247 633h20" stroke="#ec84ef"/>
<path d="M1247 649h20" stroke="#d468f3"/>
<path d="M1247 665h20" stroke="#b64af9"/>
<path d="M1247 681h20" stroke="#a62dff"/>
<path d="M1247 697h20" stroke="#cf18ff"/>
<path d="M1247 713h20" stroke="#f107ff"/>
<path d="M1247 728h20" stroke="#ff00c3"/>
<path d="M1247 744h20" stroke="#ff006a"/>
<path d="M1363.2 553h20" stroke="#ff0512"/>
<path d="M1363.2 569h20" stroke="#ff1d00"/>
<path d="M1363.2 585h20" stroke="#ff3400"/>
<path d="M1363.2 601h20" stroke="#ff5002"/>
<path d="M1363.2 617h20" stroke="#ff8107"/>
<path d="M1363.2 633h20" stroke="#ffaa0c"/>
<path d="M1363.2 649h20" stroke="#ffc10b"/>
<path d="M1363.2 665h20" stroke="#ffce05"/>
<path d="M1363.2 681h20" stroke="#ffda00"/>
<path d="M1363.2 697h20" stroke="#ffe600"/>
<path d="M1363.2 713h20" stroke="#fff300"/>
<path d="M1363.2 728h20" stroke="#f1ff0c"/>
<path d="M1363.2 744h20" stroke="#d6ff24"/>
<path d="M1497.2 553h20" stroke="#bfff38"/>
<path d="M1497.2 569h20" stroke="#a9ff2c"/>
<path d="M1497.2 585h20" stroke="#92ff18"/>
<path d="M1497.2 601h20" stroke="#7ef804"/>
<path d="M1497.2 617h20" stroke="#74e800"/>
<path d="M1497.2 633h20" stroke="#6ad800"/>
<path d="M1497.2 649h20" stroke="#53d600"/>
<path d="M1497.2 665h20" stroke="#33e800"/>
<path d="M1497.2 681h20" stroke="#0dff0b"/>
<path d="M1497.2 697h20" stroke="#00fd3f"/>
<path d="M1497.2 713h20" stroke="#00fb73"/>
<path d="M1497.2 728h20" stroke="#00faa3"/>
<path d="M1497.2 744h20" stroke="#00fcc4"/>
<path d="M1632.2 553h20" stroke="#00ffe5"/>
<path d="M1632.2 569h20" stroke="#00edff"/>
<path d="M1632.2 585h20" stroke="#00d7ff"/>
<path d="M1632.2 601h20" stroke="#00b8ff"/>
<path d="M1632.2 617h20" stroke="#0071ff"/>
<path d="M1632.2 633h20" stroke="#002aff"/>
<path d="M1632.2 649h20" stroke="#000ecd"/>
<path d="M1632.2 665h20" stroke="#002f7a"/>
<path d="M1632.2 681h20" stroke="#005127"/>
<path d="M1632.2 697h20" stroke="#004922"/>
<path d="M1632.2 713h20" stroke="#002451"/>
<path d="M1632.2 728h20" stroke="#000080"/>
</g>
<text x="1276.2" y="558" font-size="10" text-anchor="start">kern_emerg</text>
<text x="1276.2" y="574" font-size="10" text-anchor="start">kern_alert</text>
<text x="1276.2" y="590" font-size="10" text-anchor="start">kern_crit</text>
<text x="1276.2" y="606" font-size="10" text-anchor="start">kern_err</text>
<text x="1276.2" y="622" font-size="10" text-anchor="start">kern_warning</text>
<text x="1276.2" y="638" font-size="10" text-anchor="start">kern_notice</text>
<text x="1276.2" y="654" font-size="10" text-anchor="start">kern_info</text>
<text x="1276.2" y="670" font-size="10" text-anchor="start">kern_debug</text>
<text x="1276.2" y="686" font-size="10" text-anchor="start">user_crit</text>
<text x="1276.2" y="702" font-size="10" text-anchor="start">user_err</text>
<text x="1276.2" y="718" font-size="10" text-anchor="start">user_warning</text>
<text x="1276.2" y="733" font-size="10" text-anchor="start">user_notice</text>
<text x="1276.2" y="749" font-size="10" text-anchor="start">user_info</text>
<text x="1392.6" y="558" font-size="10" text-anchor="start">user_debug</text>
<text x="1392.6" y="574" font-size="10" text-anchor="start">mail_crit</text>
<text x="1392.6" y="590" font-size="10" text-anchor="start">mail_warning</text>
<text x="1392.6" y="606" font-size="10" text-anchor="start">mail_info</text>
<text x="1392.6" y="622" font-size="10" text-anchor="start">daemon_alert</text>
<text x="1392.6" y="638" font-size="10" text-anchor="start">daemon_crit</text>
<text x="1392.6" y="654" font-size="10" text-anchor="start">daemon_err</text>
<text x="1392.6" y="670" font-size="10" text-anchor="start">daemon_warning</text>
<text x="1392.6" y="686" font-size="10" text-anchor="start">daemon_notice</text>
<text x="1392.6" y="702" font-size="10" text-anchor="start">daemon_info</text>
<text x="1392.6" y="718" font-size="10" text-anchor="start">daemon_debug</text>
<text x="1392.6" y="733" font-size="10" text-anchor="start">auth_err</text>
<text x="1392.6" y="749" font-size="10" text-anchor="start">auth_notice</text>
<text x="1526.2" y="558" font-size="10" text-anchor="start">auth_info</text>
<text x="1526.2" y="574" font-size="10" text-anchor="start">auth_debug</text>
<text x="1526.2" y="590" font-size="10" text-anchor="start">syslog_err</text>
<text x="1526.2" y="606" font-size="10" text-anchor="start">syslog_warning</text>
<text x="1526.2" y="622" font-size="10" text-anchor="start">syslog_notice</text>
<text x="1526.2" y="638" font-size="10" text-anchor="start">syslog_info</text>
<text x="1526.2" y="654" font-size="10" text-anchor="start">cron_err</text>
<text x="1526.2" y="670" font-size="10" text-anchor="start">cron_notice</text>
<text x="1526.2" y="686" font-size="10" text-anchor="start">cron_info</text>
<text x="1526.2" y="702" font-size="10" text-anchor="start">authpriv_alert</text>
<text x="1526.2" y="718" font-size="10" text-anchor="start">authpriv_crit</text>
<text x="1526.2" y="733" font-size="10" text-anchor="start">authpriv_err</text>
<text x="1526.2" y="749" font-size="10" text-anchor="start">authpriv_warning</text>
<text x="1660.5" y="558" font-size="10" text-anchor="start">authpriv_notice</text>
<text x="1660.5" y="574" font-size="10" text-anchor="start">authpriv_info</text>
<text x="1660.5" y="590" font-size="10" text-anchor="start">local0_crit</text>
<text x="1660.5" y="606" font-size="10" text-anchor="start">local0_err</text>
<text x="1660.5" y="622" font-size="10" text-anchor="start">local0_warning</text>
<text x="1660.5" y="638" font-size="10" text-anchor="start">local0_notice</text>
<text x="1660.5" y="654" font-size="10" text-anchor="start">local0_info</text>
<text x="1660.5" y="670" font-size="10" text-anchor="start">local4_notice</text>
<text x="1660.5" y="686" font-size="10" text-anchor="start">local5_err</text>
<text x="1660.5" y="702" font-size="10" text-anchor="start">local5_warning</text>
<text x="1660.5" y="718" font-size="10" text-anchor="start">local5_info</text>
<text x="1660.5" y="733" font-size="10" text-anchor="start">local7_notice</text>
<g fill="none" stroke="#000" stroke-width="1" shape-rendering="crispEdges">
<path d="M1391.6 812.5H1447.4V830.5H1391.6ZM1447.4 812.5H1503.2V830.5H1447.4ZM1503.2 812.5H1559V830.5H1503.2ZM1559 812.5H1614.8V830.5H1559ZM1246.2 830.5H1391.6V848.5H1246.2ZM1391.6 830.5H1447.4V848.5H1391.6ZM1447.4 830.5H1503.2V848.5H1447.4ZM1503.2 830.5H1559V848.5H1503.2ZM1559 830.5H1614.8V848.5H1559ZM1246.2 848.5H1391.6V866.5H1246.2ZM1391.6 848.5H1447.4V866.5H1391.6ZM1447.4 848.5H1503.2V866.5H1447.4ZM1503.2 848.5H1559V866.5H1503.2ZM1559 848.5H1614.8V866.5H1559ZM1246.2 866.5H1391.6V884.5H1246.2ZM1391.6 866.5H1447.4V884.5H1391.6ZM1447.4 866.5H1503.2V884.5H1447.4ZM1503.2 866.5H1559V884.5H1503.2ZM1559 866.5H1614.8V884.5H1559ZM1246.2 884.5H1391.6V902.5H1246.2ZM1391.6 884.5H1447.4V902.5H1391.6ZM1447.4 884.5H1503.2V902.5H1447.4ZM1503.2 884.5H1559V902.5H1503.2ZM1559 884.5H1614.8V902.5H1559ZM1246.2 902.5H1391.6V920.5H1246.2ZM1391.6 902.5H1447.4V920.5H1391.6ZM1447.4 902.5H1503.2V920.5H1447.4ZM1503.2 902.5H1559V920.5H1503.2ZM1559 902.5H1614.8V920.5H1559ZM1246.2 920.5H1391.6V938.5H1246.2ZM1391.6 920.5H1447.4V938.5H1391.6ZM1447.4 920.5H1503.2V938.5H1447.4ZM1503.2 920.5H1559V938.5H1503.2ZM1559 920.5H1614.8V938.5H1559ZM1246.2 938.5H1391.6V956.5H1246.2ZM1391.6 938.5H1447.4V956.5H1391.6ZM1447.4 938.5H1503.2V956.5H1447.4ZM1503.2 938.5H1559V956.5H1503.2ZM1559 938.5H1614.8V956.5H1559ZM1246.2 956.5H1391.6V974.5H1246.2ZM1391.6 956.5H1447.4V974.5H1391.6ZM1447.4 956.5H1503.2V974.5H1447.4ZM1503.2 956.5H1559V974.5H1503.2ZM1559 956.5H1614.8V974.5H1559ZM1246.2 974.5H1391.6V992.5H1246.2ZM1391.6 974.5H1447.4V992.5H1391.6ZM1447.4 974.5H1503.2V992.5H1447.4ZM1503.2 974.5H1559V992.5H1503.2ZM1559 974.5H1614.8V992.5H1559ZM1246.2 992.5H1391.6V1010.5H1246.2ZM1391.6 992.5H1447.4V1010.5H1391.6ZM1447.4 992.5H1503.2V1010.5H1447.4ZM1503.2 992.5H1559V1010.5H1503.2ZM1559 992.5H1614.8V1010.5H1559ZM1246.2 1010.5H1391.6V1028.5H1246.2ZM1391.6 1010.5H1447.4V1028.5H1391.6ZM1447.4 1010.5H1503.2V1028.5H1447.4ZM1503.2 1010.5H1559V1028.5H1503.2ZM1559 1010.5H1614.8V1028.5H1559Z"/>
</g>
<text x="1419.5" y="824.5" font-size="14" text-anchor="middle">count</text>
<text x="1475.3" y="824.5" font-size="14" text-anchor="middle">std</text>
<text x="1531.1" y="824.5" font-size="14" text-anchor="middle">min</text>
<text x="1586.9" y="824.5" font-size="14" text-anchor="middle">max</text>
<text x="1260.7" y="842.5" font-size="14" text-anchor="start">kern_warning</text>
<text x="1441" y="842.5" font-size="14" text-anchor="end">2.0</text>
<text x="1496.8" y="842.5" font-size="14" text-anchor="end">0.71</text>
<text x="1552.6" y="842.5" font-size="14" text-anchor="end">1.0</text>
<text x="1608.4" y="842.5" font-size="14" text-anchor="end">2.0</text>
<text x="1260.7" y="860.5" font-size="14" text-anchor="start">kern_info</text>
<text x="1441" y="860.5" font-size="14" text-anchor="end">2.0</text>
<text x="1496.8" y="860.5" font-size="14" text-anchor="end">7.78</text>
<text x="1552.6" y="860.5" font-size="14" text-anchor="end">1.0</text>
<text x="1608.4" y="860.5" font-size="14" text-anchor="end">12.0</text>
<text x="1260.7" y="878.5" font-size="14" text-anchor="start">user_err</text>
<text x="1441" y="878.5" font-size="14" text-anchor="end">22.0</text>
<text x="1496.8" y="878.5" font-size="14" text-anchor="end">29.46</text>
<text x="1552.6" y="878.5" font-size="14" text-anchor="end">1.0</text>
<text x="1608.4" y="878.5" font-size="14" text-anchor="end">144.0</text>
<text x="1260.7" y="896.5" font-size="14" text-anchor="start">user_notice</text>
<text x="1441" y="896.5" font-size="14" text-anchor="end">32.0</text>
<text x="1496.8" y="896.5" font-size="14" text-anchor="end">4.45</text>
<text x="1552.6" y="896.5" font-size="14" text-anchor="end">1.0</text>
<text x="1608.4" y="896.5" font-size="14" text-anchor="end">24.0</text>
<text x="1260.7" y="914.5" font-size="14" text-anchor="start">daemon_warning</text>
<text x="1441" y="914.5" font-size="14" text-anchor="end">476.0</text>
<text x="1496.8" y="914.5" font-size="14" text-anchor="end">0.29</text>
<text x="1552.6" y="914.5" font-size="14" text-anchor="end">1.0</text>
<text x="1608.4" y="914.5" font-size="14" text-anchor="end">3.0</text>
<text x="1260.7" y="932.5" font-size="14" text-anchor="start">daemon_info</text>
<text x="1441" y="932.5" font-size="14" text-anchor="end">48.0</text>
<text x="1496.8" y="932.5" font-size="14" text-anchor="end">0.0</text>
<text x="1552.6" y="932.5" font-size="14" text-anchor="end">1.0</text>
<text x="1608.4" y="932.5" font-size="14" text-anchor="end">1.0</text>
<text x="1260.7" y="950.5" font-size="14" text-anchor="start">syslog_info</text>
<text x="1441" y="950.5" font-size="14" text-anchor="end">82.0</text>
<text x="1496.8" y="950.5" font-size="14" text-anchor="end">0.0</text>
<text x="1552.6" y="950.5" font-size="14" text-anchor="end">1.0</text>
<text x="1608.4" y="950.5" font-size="14" text-anchor="end">1.0</text>
<text x="1260.7" y="968.5" font-size="14" text-anchor="start">cron_notice</text>
<text x="1441" y="968.5" font-size="14" text-anchor="end">87.0</text>
<text x="1496.8" y="968.5" font-size="14" text-anchor="end">2.86</text>
<text x="1552.6" y="968.5" font-size="14" text-anchor="end">4.0</text>
<text x="1608.4" y="968.5" font-size="14" text-anchor="end">17.0</text>
<text x="1260.7" y="986.5" font-size="14" text-anchor="start">cron_info</text>
<text x="1441" y="986.5" font-size="14" text-anchor="end">494.0</text>
<text x="1496.8" y="986.5" font-size="14" text-anchor="end">0.81</text>
<text x="1552.6" y="986.5" font-size="14" text-anchor="end">1.0</text>
<text x="1608.4" y="986.5" font-size="14" text-anchor="end">4.0</text>
<text x="1260.7" y="1004.5" font-size="14" text-anchor="start">authpriv_info</text>
<text x="1441" y="1004.5" font-size="14" text-anchor="end">492.0</text>
<text x="1496.8" y="1004.5" font-size="14" text-anchor="end">0.54</text>
<text x="1552.6" y="1004.5" font-size="14" text-anchor="end">1.0</text>
<text x="1608.4" y="1004.5" font-size="14" text-anchor="end">15.0</text>
<text x="1260.7" y="1022.5" font-size="14" text-anchor="start">local0_info</text>
<text x="1441" y="1022.5" font-size="14" text-anchor="end">165.0</text>
<text x="1496.8" y="1022.5" font-size="14" text-anchor="end">0.2</text>
<text x="1552.6" y="1022.5" font-size="14" text-anchor="end">1.0</text>
<text x="1608.4" y="1022.5" font-size="14" text-anchor="end">2.0</text>
</svg>
</body></html>
